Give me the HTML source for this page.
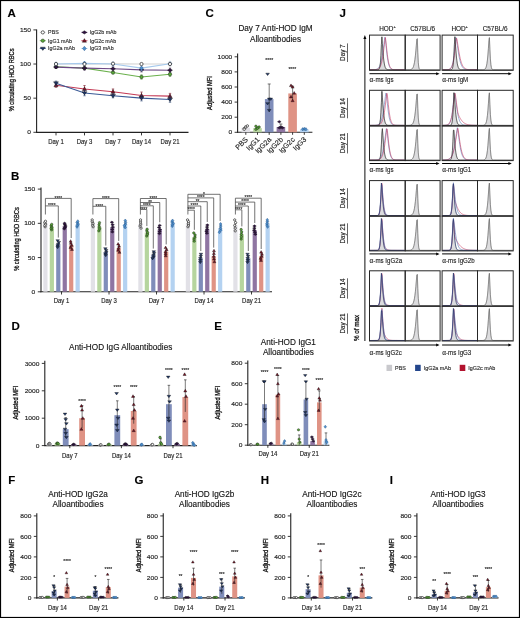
<!DOCTYPE html><html><head><meta charset="utf-8"><style>html,body{margin:0;padding:0;background:#fff;overflow:hidden}svg{display:block;filter:blur(0.3px)}text{stroke:#222;stroke-width:0.14px}text.yl{stroke:#111;stroke-width:0.3px}</style></head><body><svg width="520" height="618" viewBox="0 0 520 618" font-family='"Liberation Sans", sans-serif'><rect x="0" y="0" width="520" height="618" fill="#fff"/>
<text x="7.50" y="17.00" font-size="11.5" text-anchor="start" font-weight="bold" fill="#000" stroke="#000" stroke-width="0.3">A</text>
<line x1="36.60" y1="29.50" x2="36.60" y2="132.90" stroke="#222222" stroke-width="1.1" />
<line x1="36.10" y1="132.40" x2="188.50" y2="132.40" stroke="#222222" stroke-width="1.1" />
<line x1="33.40" y1="132.30" x2="36.60" y2="132.30" stroke="#222222" stroke-width="0.9" />
<text transform="translate(31.00,134.40) scale(1.07,1)" font-size="6.2" text-anchor="end" fill="#222" >0</text>
<line x1="33.40" y1="98.17" x2="36.60" y2="98.17" stroke="#222222" stroke-width="0.9" />
<text transform="translate(31.00,100.27) scale(1.07,1)" font-size="6.2" text-anchor="end" fill="#222" >50</text>
<line x1="33.40" y1="64.03" x2="36.60" y2="64.03" stroke="#222222" stroke-width="0.9" />
<text transform="translate(31.00,66.13) scale(1.07,1)" font-size="6.2" text-anchor="end" fill="#222" >100</text>
<line x1="33.40" y1="29.90" x2="36.60" y2="29.90" stroke="#222222" stroke-width="0.9" />
<text transform="translate(31.00,32.00) scale(1.07,1)" font-size="6.2" text-anchor="end" fill="#222" >150</text>
<line x1="56.00" y1="132.40" x2="56.00" y2="135.40" stroke="#222222" stroke-width="0.9" />
<text transform="translate(56.00,143.90) scale(0.92,1)" font-size="6.5" text-anchor="middle" fill="#222" >Day 1</text>
<line x1="84.50" y1="132.40" x2="84.50" y2="135.40" stroke="#222222" stroke-width="0.9" />
<text transform="translate(84.50,143.90) scale(0.92,1)" font-size="6.5" text-anchor="middle" fill="#222" >Day 3</text>
<line x1="113.00" y1="132.40" x2="113.00" y2="135.40" stroke="#222222" stroke-width="0.9" />
<text transform="translate(113.00,143.90) scale(0.92,1)" font-size="6.5" text-anchor="middle" fill="#222" >Day 7</text>
<line x1="141.50" y1="132.40" x2="141.50" y2="135.40" stroke="#222222" stroke-width="0.9" />
<text transform="translate(141.50,143.90) scale(0.92,1)" font-size="6.5" text-anchor="middle" fill="#222" >Day 14</text>
<line x1="170.00" y1="132.40" x2="170.00" y2="135.40" stroke="#222222" stroke-width="0.9" />
<text transform="translate(170.00,143.90) scale(0.92,1)" font-size="6.5" text-anchor="middle" fill="#222" >Day 21</text>
<text class="yl" transform="translate(14.30,79.90) rotate(-90) scale(0.75,1)" font-size="7.6" text-anchor="middle" fill="#111">% circulating HOD RBCs</text>
<polyline points="56.00,64.03 84.50,64.03 113.00,63.69 141.50,64.03 170.00,64.03" fill="none" stroke="#d4d4d4" stroke-width="1.1"/>
<polyline points="56.00,64.03 84.50,63.35 113.00,64.03 141.50,68.13 170.00,63.69" fill="none" stroke="#a6c9ec" stroke-width="1.1"/>
<polyline points="56.00,66.76 84.50,68.13 113.00,72.57 141.50,77.00 170.00,74.27" fill="none" stroke="#6ab04c" stroke-width="1.1"/>
<polyline points="56.00,67.11 84.50,68.13 113.00,68.81 141.50,69.84 170.00,70.18" fill="none" stroke="#6e4a86" stroke-width="1.1"/>
<polyline points="56.00,85.20 84.50,88.95 113.00,91.68 141.50,95.44 170.00,96.12" fill="none" stroke="#c43a55" stroke-width="1.1"/>
<polyline points="56.00,83.15 84.50,93.05 113.00,95.78 141.50,98.17 170.00,99.53" fill="none" stroke="#3a5a96" stroke-width="1.1"/>
<line x1="56.00" y1="68.13" x2="56.00" y2="65.40" stroke="#3f8a25" stroke-width="0.6" />
<line x1="54.80" y1="65.40" x2="57.20" y2="65.40" stroke="#3f8a25" stroke-width="0.6" />
<line x1="54.80" y1="68.13" x2="57.20" y2="68.13" stroke="#3f8a25" stroke-width="0.6" />
<circle cx="56.00" cy="66.76" r="1.71" fill="#5aa83a" stroke="#111" stroke-width="0.4"/>
<line x1="84.50" y1="69.49" x2="84.50" y2="66.76" stroke="#3f8a25" stroke-width="0.6" />
<line x1="83.30" y1="66.76" x2="85.70" y2="66.76" stroke="#3f8a25" stroke-width="0.6" />
<line x1="83.30" y1="69.49" x2="85.70" y2="69.49" stroke="#3f8a25" stroke-width="0.6" />
<circle cx="84.50" cy="68.13" r="1.71" fill="#5aa83a" stroke="#111" stroke-width="0.4"/>
<line x1="113.00" y1="73.93" x2="113.00" y2="71.20" stroke="#3f8a25" stroke-width="0.6" />
<line x1="111.80" y1="71.20" x2="114.20" y2="71.20" stroke="#3f8a25" stroke-width="0.6" />
<line x1="111.80" y1="73.93" x2="114.20" y2="73.93" stroke="#3f8a25" stroke-width="0.6" />
<circle cx="113.00" cy="72.57" r="1.71" fill="#5aa83a" stroke="#111" stroke-width="0.4"/>
<line x1="141.50" y1="79.05" x2="141.50" y2="74.96" stroke="#3f8a25" stroke-width="0.6" />
<line x1="140.30" y1="74.96" x2="142.70" y2="74.96" stroke="#3f8a25" stroke-width="0.6" />
<line x1="140.30" y1="79.05" x2="142.70" y2="79.05" stroke="#3f8a25" stroke-width="0.6" />
<circle cx="141.50" cy="77.00" r="1.71" fill="#5aa83a" stroke="#111" stroke-width="0.4"/>
<line x1="170.00" y1="76.32" x2="170.00" y2="72.23" stroke="#3f8a25" stroke-width="0.6" />
<line x1="168.80" y1="72.23" x2="171.20" y2="72.23" stroke="#3f8a25" stroke-width="0.6" />
<line x1="168.80" y1="76.32" x2="171.20" y2="76.32" stroke="#3f8a25" stroke-width="0.6" />
<circle cx="170.00" cy="74.27" r="1.71" fill="#5aa83a" stroke="#111" stroke-width="0.4"/>
<line x1="56.00" y1="68.47" x2="56.00" y2="65.74" stroke="#3a1f4e" stroke-width="0.6" />
<line x1="54.80" y1="65.74" x2="57.20" y2="65.74" stroke="#3a1f4e" stroke-width="0.6" />
<line x1="54.80" y1="68.47" x2="57.20" y2="68.47" stroke="#3a1f4e" stroke-width="0.6" />
<path d="M53.53,67.11 L56.00,65.40 L58.47,67.11 L56.00,68.82Z" fill="#2e1040" stroke="#111" stroke-width="0.4"/>
<line x1="84.50" y1="70.18" x2="84.50" y2="66.08" stroke="#3a1f4e" stroke-width="0.6" />
<line x1="83.30" y1="66.08" x2="85.70" y2="66.08" stroke="#3a1f4e" stroke-width="0.6" />
<line x1="83.30" y1="70.18" x2="85.70" y2="70.18" stroke="#3a1f4e" stroke-width="0.6" />
<path d="M82.03,68.13 L84.50,66.42 L86.97,68.13 L84.50,69.84Z" fill="#2e1040" stroke="#111" stroke-width="0.4"/>
<line x1="113.00" y1="70.86" x2="113.00" y2="66.76" stroke="#3a1f4e" stroke-width="0.6" />
<line x1="111.80" y1="66.76" x2="114.20" y2="66.76" stroke="#3a1f4e" stroke-width="0.6" />
<line x1="111.80" y1="70.86" x2="114.20" y2="70.86" stroke="#3a1f4e" stroke-width="0.6" />
<path d="M110.53,68.81 L113.00,67.10 L115.47,68.81 L113.00,70.52Z" fill="#2e1040" stroke="#111" stroke-width="0.4"/>
<line x1="141.50" y1="71.88" x2="141.50" y2="67.79" stroke="#3a1f4e" stroke-width="0.6" />
<line x1="140.30" y1="67.79" x2="142.70" y2="67.79" stroke="#3a1f4e" stroke-width="0.6" />
<line x1="140.30" y1="71.88" x2="142.70" y2="71.88" stroke="#3a1f4e" stroke-width="0.6" />
<path d="M139.03,69.84 L141.50,68.13 L143.97,69.84 L141.50,71.55Z" fill="#2e1040" stroke="#111" stroke-width="0.4"/>
<line x1="170.00" y1="72.23" x2="170.00" y2="68.13" stroke="#3a1f4e" stroke-width="0.6" />
<line x1="168.80" y1="68.13" x2="171.20" y2="68.13" stroke="#3a1f4e" stroke-width="0.6" />
<line x1="168.80" y1="72.23" x2="171.20" y2="72.23" stroke="#3a1f4e" stroke-width="0.6" />
<path d="M167.53,70.18 L170.00,68.47 L172.47,70.18 L170.00,71.89Z" fill="#2e1040" stroke="#111" stroke-width="0.4"/>
<line x1="56.00" y1="65.40" x2="56.00" y2="62.67" stroke="#a6c9ec" stroke-width="0.6" />
<line x1="54.80" y1="62.67" x2="57.20" y2="62.67" stroke="#a6c9ec" stroke-width="0.6" />
<line x1="54.80" y1="65.40" x2="57.20" y2="65.40" stroke="#a6c9ec" stroke-width="0.6" />
<path d="M56.00,61.75 L57.90,64.03 L56.00,66.31 L54.10,64.03Z" fill="#4f8fcc" stroke="#1f4f80" stroke-width="0.4"/>
<line x1="84.50" y1="64.72" x2="84.50" y2="61.99" stroke="#a6c9ec" stroke-width="0.6" />
<line x1="83.30" y1="61.99" x2="85.70" y2="61.99" stroke="#a6c9ec" stroke-width="0.6" />
<line x1="83.30" y1="64.72" x2="85.70" y2="64.72" stroke="#a6c9ec" stroke-width="0.6" />
<path d="M84.50,61.07 L86.40,63.35 L84.50,65.63 L82.60,63.35Z" fill="#4f8fcc" stroke="#1f4f80" stroke-width="0.4"/>
<line x1="113.00" y1="66.08" x2="113.00" y2="61.99" stroke="#a6c9ec" stroke-width="0.6" />
<line x1="111.80" y1="61.99" x2="114.20" y2="61.99" stroke="#a6c9ec" stroke-width="0.6" />
<line x1="111.80" y1="66.08" x2="114.20" y2="66.08" stroke="#a6c9ec" stroke-width="0.6" />
<path d="M113.00,61.75 L114.90,64.03 L113.00,66.31 L111.10,64.03Z" fill="#4f8fcc" stroke="#1f4f80" stroke-width="0.4"/>
<line x1="141.50" y1="70.86" x2="141.50" y2="65.40" stroke="#a6c9ec" stroke-width="0.6" />
<line x1="140.30" y1="65.40" x2="142.70" y2="65.40" stroke="#a6c9ec" stroke-width="0.6" />
<line x1="140.30" y1="70.86" x2="142.70" y2="70.86" stroke="#a6c9ec" stroke-width="0.6" />
<path d="M141.50,65.85 L143.40,68.13 L141.50,70.41 L139.60,68.13Z" fill="#4f8fcc" stroke="#1f4f80" stroke-width="0.4"/>
<line x1="170.00" y1="65.74" x2="170.00" y2="61.64" stroke="#a6c9ec" stroke-width="0.6" />
<line x1="168.80" y1="61.64" x2="171.20" y2="61.64" stroke="#a6c9ec" stroke-width="0.6" />
<line x1="168.80" y1="65.74" x2="171.20" y2="65.74" stroke="#a6c9ec" stroke-width="0.6" />
<path d="M170.00,61.41 L171.90,63.69 L170.00,65.97 L168.10,63.69Z" fill="#4f8fcc" stroke="#1f4f80" stroke-width="0.4"/>
<line x1="56.00" y1="64.72" x2="56.00" y2="63.35" stroke="#d4d4d4" stroke-width="0.6" />
<line x1="54.80" y1="63.35" x2="57.20" y2="63.35" stroke="#d4d4d4" stroke-width="0.6" />
<line x1="54.80" y1="64.72" x2="57.20" y2="64.72" stroke="#d4d4d4" stroke-width="0.6" />
<circle cx="56.00" cy="64.03" r="1.61" fill="#fff" stroke="#333" stroke-width="0.75"/>
<line x1="84.50" y1="64.72" x2="84.50" y2="63.35" stroke="#d4d4d4" stroke-width="0.6" />
<line x1="83.30" y1="63.35" x2="85.70" y2="63.35" stroke="#d4d4d4" stroke-width="0.6" />
<line x1="83.30" y1="64.72" x2="85.70" y2="64.72" stroke="#d4d4d4" stroke-width="0.6" />
<circle cx="84.50" cy="64.03" r="1.61" fill="#fff" stroke="#333" stroke-width="0.75"/>
<line x1="113.00" y1="65.06" x2="113.00" y2="62.33" stroke="#d4d4d4" stroke-width="0.6" />
<line x1="111.80" y1="62.33" x2="114.20" y2="62.33" stroke="#d4d4d4" stroke-width="0.6" />
<line x1="111.80" y1="65.06" x2="114.20" y2="65.06" stroke="#d4d4d4" stroke-width="0.6" />
<circle cx="113.00" cy="63.69" r="1.61" fill="#fff" stroke="#333" stroke-width="0.75"/>
<line x1="141.50" y1="64.72" x2="141.50" y2="63.35" stroke="#d4d4d4" stroke-width="0.6" />
<line x1="140.30" y1="63.35" x2="142.70" y2="63.35" stroke="#d4d4d4" stroke-width="0.6" />
<line x1="140.30" y1="64.72" x2="142.70" y2="64.72" stroke="#d4d4d4" stroke-width="0.6" />
<circle cx="141.50" cy="64.03" r="1.61" fill="#fff" stroke="#333" stroke-width="0.75"/>
<line x1="170.00" y1="66.76" x2="170.00" y2="61.30" stroke="#d4d4d4" stroke-width="0.6" />
<line x1="168.80" y1="61.30" x2="171.20" y2="61.30" stroke="#d4d4d4" stroke-width="0.6" />
<line x1="168.80" y1="66.76" x2="171.20" y2="66.76" stroke="#d4d4d4" stroke-width="0.6" />
<circle cx="170.00" cy="64.03" r="1.61" fill="#fff" stroke="#333" stroke-width="0.75"/>
<line x1="56.00" y1="87.24" x2="56.00" y2="83.15" stroke="#7a1224" stroke-width="0.6" />
<line x1="54.80" y1="83.15" x2="57.20" y2="83.15" stroke="#7a1224" stroke-width="0.6" />
<line x1="54.80" y1="87.24" x2="57.20" y2="87.24" stroke="#7a1224" stroke-width="0.6" />
<path d="M53.91,86.72 L58.09,86.72 L56.00,83.11Z" fill="#7a1224" stroke="#111" stroke-width="0.4"/>
<line x1="84.50" y1="92.36" x2="84.50" y2="85.54" stroke="#7a1224" stroke-width="0.6" />
<line x1="83.30" y1="85.54" x2="85.70" y2="85.54" stroke="#7a1224" stroke-width="0.6" />
<line x1="83.30" y1="92.36" x2="85.70" y2="92.36" stroke="#7a1224" stroke-width="0.6" />
<path d="M82.41,90.47 L86.59,90.47 L84.50,86.86Z" fill="#7a1224" stroke="#111" stroke-width="0.4"/>
<line x1="113.00" y1="94.41" x2="113.00" y2="88.95" stroke="#7a1224" stroke-width="0.6" />
<line x1="111.80" y1="88.95" x2="114.20" y2="88.95" stroke="#7a1224" stroke-width="0.6" />
<line x1="111.80" y1="94.41" x2="114.20" y2="94.41" stroke="#7a1224" stroke-width="0.6" />
<path d="M110.91,93.20 L115.09,93.20 L113.00,89.59Z" fill="#7a1224" stroke="#111" stroke-width="0.4"/>
<line x1="141.50" y1="98.85" x2="141.50" y2="92.02" stroke="#7a1224" stroke-width="0.6" />
<line x1="140.30" y1="92.02" x2="142.70" y2="92.02" stroke="#7a1224" stroke-width="0.6" />
<line x1="140.30" y1="98.85" x2="142.70" y2="98.85" stroke="#7a1224" stroke-width="0.6" />
<path d="M139.41,96.96 L143.59,96.96 L141.50,93.35Z" fill="#7a1224" stroke="#111" stroke-width="0.4"/>
<line x1="170.00" y1="98.85" x2="170.00" y2="93.39" stroke="#7a1224" stroke-width="0.6" />
<line x1="168.80" y1="93.39" x2="171.20" y2="93.39" stroke="#7a1224" stroke-width="0.6" />
<line x1="168.80" y1="98.85" x2="171.20" y2="98.85" stroke="#7a1224" stroke-width="0.6" />
<path d="M167.91,97.64 L172.09,97.64 L170.00,94.03Z" fill="#7a1224" stroke="#111" stroke-width="0.4"/>
<line x1="56.00" y1="85.20" x2="56.00" y2="81.10" stroke="#1d3566" stroke-width="0.6" />
<line x1="54.80" y1="81.10" x2="57.20" y2="81.10" stroke="#1d3566" stroke-width="0.6" />
<line x1="54.80" y1="85.20" x2="57.20" y2="85.20" stroke="#1d3566" stroke-width="0.6" />
<path d="M53.53,81.82 L58.47,81.82 L56.00,85.05Z" fill="#1d3566" stroke="#111" stroke-width="0.4"/>
<line x1="84.50" y1="95.78" x2="84.50" y2="90.32" stroke="#1d3566" stroke-width="0.6" />
<line x1="83.30" y1="90.32" x2="85.70" y2="90.32" stroke="#1d3566" stroke-width="0.6" />
<line x1="83.30" y1="95.78" x2="85.70" y2="95.78" stroke="#1d3566" stroke-width="0.6" />
<path d="M82.03,91.72 L86.97,91.72 L84.50,94.95Z" fill="#1d3566" stroke="#111" stroke-width="0.4"/>
<line x1="113.00" y1="97.83" x2="113.00" y2="93.73" stroke="#1d3566" stroke-width="0.6" />
<line x1="111.80" y1="93.73" x2="114.20" y2="93.73" stroke="#1d3566" stroke-width="0.6" />
<line x1="111.80" y1="97.83" x2="114.20" y2="97.83" stroke="#1d3566" stroke-width="0.6" />
<path d="M110.53,94.45 L115.47,94.45 L113.00,97.68Z" fill="#1d3566" stroke="#111" stroke-width="0.4"/>
<line x1="141.50" y1="100.90" x2="141.50" y2="95.44" stroke="#1d3566" stroke-width="0.6" />
<line x1="140.30" y1="95.44" x2="142.70" y2="95.44" stroke="#1d3566" stroke-width="0.6" />
<line x1="140.30" y1="100.90" x2="142.70" y2="100.90" stroke="#1d3566" stroke-width="0.6" />
<path d="M139.03,96.84 L143.97,96.84 L141.50,100.07Z" fill="#1d3566" stroke="#111" stroke-width="0.4"/>
<line x1="170.00" y1="102.26" x2="170.00" y2="96.80" stroke="#1d3566" stroke-width="0.6" />
<line x1="168.80" y1="96.80" x2="171.20" y2="96.80" stroke="#1d3566" stroke-width="0.6" />
<line x1="168.80" y1="102.26" x2="171.20" y2="102.26" stroke="#1d3566" stroke-width="0.6" />
<path d="M167.53,98.20 L172.47,98.20 L170.00,101.43Z" fill="#1d3566" stroke="#111" stroke-width="0.4"/>
<line x1="39.80" y1="32.40" x2="45.80" y2="32.40" stroke="#d4d4d4" stroke-width="0.9" />
<circle cx="42.80" cy="32.40" r="1.61" fill="#fff" stroke="#333" stroke-width="0.75"/>
<text transform="translate(48.10,34.30) scale(0.95,1)" font-size="5.6" text-anchor="start" fill="#333" >PBS</text>
<line x1="39.80" y1="40.70" x2="45.80" y2="40.70" stroke="#6ab04c" stroke-width="0.9" />
<circle cx="42.80" cy="40.70" r="1.71" fill="#5aa83a" stroke="#111" stroke-width="0.4"/>
<text transform="translate(48.10,42.60) scale(0.95,1)" font-size="5.6" text-anchor="start" fill="#333" >IgG1 mAb</text>
<line x1="39.80" y1="48.50" x2="45.80" y2="48.50" stroke="#3a5a96" stroke-width="0.9" />
<path d="M40.33,47.17 L45.27,47.17 L42.80,50.40Z" fill="#1d3566" stroke="#111" stroke-width="0.4"/>
<text transform="translate(48.10,50.40) scale(0.95,1)" font-size="5.6" text-anchor="start" fill="#333" >IgG2a mAb</text>
<line x1="81.40" y1="32.40" x2="87.40" y2="32.40" stroke="#6e4a86" stroke-width="0.9" />
<path d="M81.93,32.40 L84.40,30.69 L86.87,32.40 L84.40,34.11Z" fill="#2e1040" stroke="#111" stroke-width="0.4"/>
<text transform="translate(89.70,34.30) scale(0.95,1)" font-size="5.6" text-anchor="start" fill="#333" >IgG2b mAb</text>
<line x1="81.40" y1="40.70" x2="87.40" y2="40.70" stroke="#c43a55" stroke-width="0.9" />
<path d="M82.31,42.22 L86.49,42.22 L84.40,38.61Z" fill="#7a1224" stroke="#111" stroke-width="0.4"/>
<text transform="translate(89.70,42.60) scale(0.95,1)" font-size="5.6" text-anchor="start" fill="#333" >IgG2c mAb</text>
<line x1="81.40" y1="48.50" x2="87.40" y2="48.50" stroke="#a6c9ec" stroke-width="0.9" />
<path d="M84.40,46.22 L86.30,48.50 L84.40,50.78 L82.50,48.50Z" fill="#4f8fcc" stroke="#1f4f80" stroke-width="0.4"/>
<text transform="translate(89.70,50.40) scale(0.95,1)" font-size="5.6" text-anchor="start" fill="#333" >IgG3 mAb</text>
<text x="10.90" y="180.00" font-size="11.5" text-anchor="start" font-weight="bold" fill="#000" stroke="#000" stroke-width="0.3">B</text>
<line x1="41.00" y1="187.50" x2="41.00" y2="292.20" stroke="#222222" stroke-width="1.1" />
<line x1="40.50" y1="291.70" x2="272.00" y2="291.70" stroke="#222222" stroke-width="1.1" />
<line x1="37.80" y1="291.80" x2="41.00" y2="291.80" stroke="#222222" stroke-width="0.9" />
<text transform="translate(35.20,293.90) scale(1.07,1)" font-size="6.2" text-anchor="end" fill="#222" >0</text>
<line x1="37.80" y1="257.57" x2="41.00" y2="257.57" stroke="#222222" stroke-width="0.9" />
<text transform="translate(35.20,259.67) scale(1.07,1)" font-size="6.2" text-anchor="end" fill="#222" >50</text>
<line x1="37.80" y1="223.33" x2="41.00" y2="223.33" stroke="#222222" stroke-width="0.9" />
<text transform="translate(35.20,225.43) scale(1.07,1)" font-size="6.2" text-anchor="end" fill="#222" >100</text>
<line x1="37.80" y1="189.10" x2="41.00" y2="189.10" stroke="#222222" stroke-width="0.9" />
<text transform="translate(35.20,191.20) scale(1.07,1)" font-size="6.2" text-anchor="end" fill="#222" >150</text>
<text class="yl" transform="translate(18.60,239.00) rotate(-90) scale(0.76,1)" font-size="7.6" text-anchor="middle" fill="#111">% circulating HOD RBCs</text>
<rect x="43.30" y="224.02" width="4.20" height="67.68" fill="#e2e1e7" />
<rect x="49.75" y="227.10" width="4.20" height="64.60" fill="#b6d59e" />
<rect x="56.20" y="244.08" width="4.20" height="47.62" fill="#7f8dba" />
<rect x="62.65" y="226.07" width="4.20" height="65.63" fill="#8f75a2" />
<rect x="69.10" y="245.24" width="4.20" height="46.46" fill="#df9385" />
<rect x="75.55" y="224.02" width="4.20" height="67.68" fill="#b4d2f1" />
<line x1="45.40" y1="225.94" x2="45.40" y2="222.10" stroke="#222" stroke-width="0.5" />
<circle cx="45.12" cy="226.76" r="1.15" fill="#fff" stroke="#333" stroke-width="0.75"/>
<circle cx="44.84" cy="225.39" r="1.15" fill="#fff" stroke="#333" stroke-width="0.75"/>
<circle cx="45.64" cy="224.02" r="1.15" fill="#fff" stroke="#333" stroke-width="0.75"/>
<circle cx="44.72" cy="222.65" r="1.15" fill="#fff" stroke="#333" stroke-width="0.75"/>
<circle cx="45.46" cy="221.28" r="1.15" fill="#fff" stroke="#333" stroke-width="0.75"/>
<line x1="51.85" y1="229.02" x2="51.85" y2="225.18" stroke="#222" stroke-width="0.5" />
<circle cx="51.64" cy="229.84" r="1.22" fill="#5aa83a" stroke="#111" stroke-width="0.4"/>
<circle cx="51.14" cy="228.47" r="1.22" fill="#5aa83a" stroke="#111" stroke-width="0.4"/>
<circle cx="51.86" cy="227.10" r="1.22" fill="#5aa83a" stroke="#111" stroke-width="0.4"/>
<circle cx="51.11" cy="225.73" r="1.22" fill="#5aa83a" stroke="#111" stroke-width="0.4"/>
<circle cx="51.74" cy="224.36" r="1.22" fill="#5aa83a" stroke="#111" stroke-width="0.4"/>
<line x1="58.30" y1="246.48" x2="58.30" y2="241.68" stroke="#222" stroke-width="0.5" />
<path d="M55.86,246.56 L59.37,246.56 L57.61,248.85Z" fill="#1d3566" stroke="#111" stroke-width="0.4"/>
<path d="M55.89,244.85 L59.40,244.85 L57.65,247.14Z" fill="#1d3566" stroke="#111" stroke-width="0.4"/>
<path d="M56.42,243.13 L59.93,243.13 L58.18,245.43Z" fill="#1d3566" stroke="#111" stroke-width="0.4"/>
<path d="M57.07,241.42 L60.58,241.42 L58.82,243.72Z" fill="#1d3566" stroke="#111" stroke-width="0.4"/>
<path d="M55.94,239.71 L59.45,239.71 L57.70,242.01Z" fill="#1d3566" stroke="#111" stroke-width="0.4"/>
<line x1="64.75" y1="227.99" x2="64.75" y2="224.15" stroke="#222" stroke-width="0.5" />
<path d="M62.55,228.81 L64.31,227.60 L66.06,228.81 L64.31,230.03Z" fill="#2e1040" stroke="#111" stroke-width="0.4"/>
<path d="M63.20,227.44 L64.95,226.23 L66.71,227.44 L64.95,228.66Z" fill="#2e1040" stroke="#111" stroke-width="0.4"/>
<path d="M63.71,226.07 L65.47,224.86 L67.22,226.07 L65.47,227.29Z" fill="#2e1040" stroke="#111" stroke-width="0.4"/>
<path d="M63.12,224.70 L64.87,223.49 L66.63,224.70 L64.87,225.92Z" fill="#2e1040" stroke="#111" stroke-width="0.4"/>
<path d="M62.83,223.33 L64.58,222.12 L66.34,223.33 L64.58,224.55Z" fill="#2e1040" stroke="#111" stroke-width="0.4"/>
<line x1="71.20" y1="248.12" x2="71.20" y2="242.37" stroke="#222" stroke-width="0.5" />
<path d="M70.48,250.43 L73.45,250.43 L71.96,247.87Z" fill="#7a1224" stroke="#111" stroke-width="0.4"/>
<path d="M68.99,248.38 L71.96,248.38 L70.47,245.81Z" fill="#7a1224" stroke="#111" stroke-width="0.4"/>
<path d="M70.29,246.32 L73.26,246.32 L71.77,243.76Z" fill="#7a1224" stroke="#111" stroke-width="0.4"/>
<path d="M69.38,244.27 L72.35,244.27 L70.86,241.70Z" fill="#7a1224" stroke="#111" stroke-width="0.4"/>
<path d="M69.15,242.21 L72.12,242.21 L70.63,239.65Z" fill="#7a1224" stroke="#111" stroke-width="0.4"/>
<line x1="77.65" y1="225.94" x2="77.65" y2="222.10" stroke="#222" stroke-width="0.5" />
<path d="M77.04,225.14 L78.39,226.76 L77.04,228.38 L75.69,226.76Z" fill="#4f8fcc" stroke="#1f4f80" stroke-width="0.4"/>
<path d="M77.34,223.77 L78.69,225.39 L77.34,227.01 L75.99,225.39Z" fill="#4f8fcc" stroke="#1f4f80" stroke-width="0.4"/>
<path d="M78.16,222.40 L79.51,224.02 L78.16,225.64 L76.81,224.02Z" fill="#4f8fcc" stroke="#1f4f80" stroke-width="0.4"/>
<path d="M77.14,221.03 L78.49,222.65 L77.14,224.27 L75.79,222.65Z" fill="#4f8fcc" stroke="#1f4f80" stroke-width="0.4"/>
<path d="M77.78,219.66 L79.13,221.28 L77.78,222.90 L76.43,221.28Z" fill="#4f8fcc" stroke="#1f4f80" stroke-width="0.4"/>
<line x1="61.52" y1="291.70" x2="61.52" y2="294.50" stroke="#222222" stroke-width="0.9" />
<text transform="translate(61.52,303.30) scale(0.92,1)" font-size="6.5" text-anchor="middle" fill="#222" >Day 1</text>
<rect x="90.80" y="223.33" width="4.20" height="68.37" fill="#e2e1e7" />
<rect x="97.25" y="226.76" width="4.20" height="64.94" fill="#b6d59e" />
<rect x="103.70" y="252.09" width="4.20" height="39.61" fill="#7f8dba" />
<rect x="110.15" y="227.10" width="4.20" height="64.60" fill="#8f75a2" />
<rect x="116.60" y="248.12" width="4.20" height="43.58" fill="#df9385" />
<rect x="123.05" y="224.02" width="4.20" height="67.68" fill="#b4d2f1" />
<line x1="92.90" y1="225.73" x2="92.90" y2="220.94" stroke="#222" stroke-width="0.5" />
<circle cx="93.12" cy="226.76" r="1.15" fill="#fff" stroke="#333" stroke-width="0.75"/>
<circle cx="92.70" cy="225.05" r="1.15" fill="#fff" stroke="#333" stroke-width="0.75"/>
<circle cx="92.98" cy="223.33" r="1.15" fill="#fff" stroke="#333" stroke-width="0.75"/>
<circle cx="92.20" cy="221.62" r="1.15" fill="#fff" stroke="#333" stroke-width="0.75"/>
<circle cx="92.20" cy="219.91" r="1.15" fill="#fff" stroke="#333" stroke-width="0.75"/>
<line x1="99.35" y1="229.63" x2="99.35" y2="223.88" stroke="#222" stroke-width="0.5" />
<circle cx="98.88" cy="230.86" r="1.22" fill="#5aa83a" stroke="#111" stroke-width="0.4"/>
<circle cx="99.64" cy="228.81" r="1.22" fill="#5aa83a" stroke="#111" stroke-width="0.4"/>
<circle cx="99.23" cy="226.76" r="1.22" fill="#5aa83a" stroke="#111" stroke-width="0.4"/>
<circle cx="99.05" cy="224.70" r="1.22" fill="#5aa83a" stroke="#111" stroke-width="0.4"/>
<circle cx="99.49" cy="222.65" r="1.22" fill="#5aa83a" stroke="#111" stroke-width="0.4"/>
<line x1="105.80" y1="254.49" x2="105.80" y2="249.69" stroke="#222" stroke-width="0.5" />
<path d="M103.97,254.57 L107.48,254.57 L105.73,256.86Z" fill="#1d3566" stroke="#111" stroke-width="0.4"/>
<path d="M103.72,252.86 L107.23,252.86 L105.48,255.15Z" fill="#1d3566" stroke="#111" stroke-width="0.4"/>
<path d="M104.52,251.14 L108.03,251.14 L106.27,253.44Z" fill="#1d3566" stroke="#111" stroke-width="0.4"/>
<path d="M104.36,249.43 L107.87,249.43 L106.12,251.73Z" fill="#1d3566" stroke="#111" stroke-width="0.4"/>
<path d="M103.64,247.72 L107.15,247.72 L105.39,250.02Z" fill="#1d3566" stroke="#111" stroke-width="0.4"/>
<line x1="112.25" y1="230.45" x2="112.25" y2="223.74" stroke="#222" stroke-width="0.5" />
<path d="M110.61,231.89 L112.37,230.68 L114.12,231.89 L112.37,233.11Z" fill="#2e1040" stroke="#111" stroke-width="0.4"/>
<path d="M110.54,229.50 L112.29,228.28 L114.05,229.50 L112.29,230.71Z" fill="#2e1040" stroke="#111" stroke-width="0.4"/>
<path d="M111.10,227.10 L112.85,225.88 L114.61,227.10 L112.85,228.31Z" fill="#2e1040" stroke="#111" stroke-width="0.4"/>
<path d="M110.86,224.70 L112.62,223.49 L114.37,224.70 L112.62,225.92Z" fill="#2e1040" stroke="#111" stroke-width="0.4"/>
<path d="M110.16,222.31 L111.91,221.09 L113.67,222.31 L111.91,223.52Z" fill="#2e1040" stroke="#111" stroke-width="0.4"/>
<line x1="118.70" y1="250.99" x2="118.70" y2="245.24" stroke="#222" stroke-width="0.5" />
<path d="M117.98,253.31 L120.95,253.31 L119.47,250.74Z" fill="#7a1224" stroke="#111" stroke-width="0.4"/>
<path d="M116.60,251.25 L119.57,251.25 L118.09,248.69Z" fill="#7a1224" stroke="#111" stroke-width="0.4"/>
<path d="M117.08,249.20 L120.05,249.20 L118.57,246.63Z" fill="#7a1224" stroke="#111" stroke-width="0.4"/>
<path d="M117.63,247.14 L120.60,247.14 L119.11,244.58Z" fill="#7a1224" stroke="#111" stroke-width="0.4"/>
<path d="M116.66,245.09 L119.63,245.09 L118.14,242.53Z" fill="#7a1224" stroke="#111" stroke-width="0.4"/>
<line x1="125.15" y1="226.41" x2="125.15" y2="221.62" stroke="#222" stroke-width="0.5" />
<path d="M125.13,225.82 L126.48,227.44 L125.13,229.06 L123.78,227.44Z" fill="#4f8fcc" stroke="#1f4f80" stroke-width="0.4"/>
<path d="M124.41,224.11 L125.76,225.73 L124.41,227.35 L123.06,225.73Z" fill="#4f8fcc" stroke="#1f4f80" stroke-width="0.4"/>
<path d="M125.42,222.40 L126.77,224.02 L125.42,225.64 L124.07,224.02Z" fill="#4f8fcc" stroke="#1f4f80" stroke-width="0.4"/>
<path d="M125.57,220.69 L126.92,222.31 L125.57,223.93 L124.22,222.31Z" fill="#4f8fcc" stroke="#1f4f80" stroke-width="0.4"/>
<path d="M125.27,218.97 L126.62,220.59 L125.27,222.21 L123.92,220.59Z" fill="#4f8fcc" stroke="#1f4f80" stroke-width="0.4"/>
<line x1="109.03" y1="291.70" x2="109.03" y2="294.50" stroke="#222222" stroke-width="0.9" />
<text transform="translate(109.03,303.30) scale(0.92,1)" font-size="6.5" text-anchor="middle" fill="#222" >Day 3</text>
<rect x="138.30" y="224.02" width="4.20" height="67.68" fill="#e2e1e7" />
<rect x="144.75" y="232.58" width="4.20" height="59.12" fill="#b6d59e" />
<rect x="151.20" y="255.10" width="4.20" height="36.60" fill="#7f8dba" />
<rect x="157.65" y="229.50" width="4.20" height="62.20" fill="#8f75a2" />
<rect x="164.10" y="251.61" width="4.20" height="40.09" fill="#df9385" />
<rect x="170.55" y="223.33" width="4.20" height="68.37" fill="#b4d2f1" />
<line x1="140.40" y1="226.89" x2="140.40" y2="221.14" stroke="#222" stroke-width="0.5" />
<circle cx="141.00" cy="228.13" r="1.15" fill="#fff" stroke="#333" stroke-width="0.75"/>
<circle cx="140.10" cy="226.07" r="1.15" fill="#fff" stroke="#333" stroke-width="0.75"/>
<circle cx="140.71" cy="224.02" r="1.15" fill="#fff" stroke="#333" stroke-width="0.75"/>
<circle cx="140.55" cy="221.96" r="1.15" fill="#fff" stroke="#333" stroke-width="0.75"/>
<circle cx="140.53" cy="219.91" r="1.15" fill="#fff" stroke="#333" stroke-width="0.75"/>
<line x1="146.85" y1="234.97" x2="146.85" y2="230.18" stroke="#222" stroke-width="0.5" />
<circle cx="146.78" cy="236.00" r="1.22" fill="#5aa83a" stroke="#111" stroke-width="0.4"/>
<circle cx="147.39" cy="234.29" r="1.22" fill="#5aa83a" stroke="#111" stroke-width="0.4"/>
<circle cx="147.56" cy="232.58" r="1.22" fill="#5aa83a" stroke="#111" stroke-width="0.4"/>
<circle cx="146.81" cy="230.86" r="1.22" fill="#5aa83a" stroke="#111" stroke-width="0.4"/>
<circle cx="147.11" cy="229.15" r="1.22" fill="#5aa83a" stroke="#111" stroke-width="0.4"/>
<line x1="153.30" y1="257.50" x2="153.30" y2="252.71" stroke="#222" stroke-width="0.5" />
<path d="M150.84,257.58 L154.35,257.58 L152.60,259.88Z" fill="#1d3566" stroke="#111" stroke-width="0.4"/>
<path d="M151.87,255.87 L155.38,255.87 L153.62,258.16Z" fill="#1d3566" stroke="#111" stroke-width="0.4"/>
<path d="M151.78,254.16 L155.29,254.16 L153.54,256.45Z" fill="#1d3566" stroke="#111" stroke-width="0.4"/>
<path d="M152.33,252.45 L155.84,252.45 L154.09,254.74Z" fill="#1d3566" stroke="#111" stroke-width="0.4"/>
<path d="M152.06,250.73 L155.57,250.73 L153.82,253.03Z" fill="#1d3566" stroke="#111" stroke-width="0.4"/>
<line x1="159.75" y1="232.37" x2="159.75" y2="226.62" stroke="#222" stroke-width="0.5" />
<path d="M157.65,233.60 L159.41,232.39 L161.16,233.60 L159.41,234.82Z" fill="#2e1040" stroke="#111" stroke-width="0.4"/>
<path d="M157.81,231.55 L159.57,230.33 L161.32,231.55 L159.57,232.76Z" fill="#2e1040" stroke="#111" stroke-width="0.4"/>
<path d="M158.26,229.50 L160.02,228.28 L161.77,229.50 L160.02,230.71Z" fill="#2e1040" stroke="#111" stroke-width="0.4"/>
<path d="M157.23,227.44 L158.99,226.23 L160.74,227.44 L158.99,228.66Z" fill="#2e1040" stroke="#111" stroke-width="0.4"/>
<path d="M157.93,225.39 L159.69,224.17 L161.44,225.39 L159.69,226.60Z" fill="#2e1040" stroke="#111" stroke-width="0.4"/>
<line x1="166.20" y1="254.49" x2="166.20" y2="248.73" stroke="#222" stroke-width="0.5" />
<path d="M164.18,256.80 L167.15,256.80 L165.67,254.23Z" fill="#7a1224" stroke="#111" stroke-width="0.4"/>
<path d="M164.10,254.74 L167.07,254.74 L165.59,252.18Z" fill="#7a1224" stroke="#111" stroke-width="0.4"/>
<path d="M164.01,252.69 L166.98,252.69 L165.49,250.13Z" fill="#7a1224" stroke="#111" stroke-width="0.4"/>
<path d="M165.14,250.64 L168.11,250.64 L166.63,248.07Z" fill="#7a1224" stroke="#111" stroke-width="0.4"/>
<path d="M164.12,248.58 L167.09,248.58 L165.61,246.02Z" fill="#7a1224" stroke="#111" stroke-width="0.4"/>
<line x1="172.65" y1="225.25" x2="172.65" y2="221.42" stroke="#222" stroke-width="0.5" />
<path d="M172.25,224.45 L173.60,226.07 L172.25,227.69 L170.90,226.07Z" fill="#4f8fcc" stroke="#1f4f80" stroke-width="0.4"/>
<path d="M172.48,223.08 L173.83,224.70 L172.48,226.32 L171.13,224.70Z" fill="#4f8fcc" stroke="#1f4f80" stroke-width="0.4"/>
<path d="M173.24,221.71 L174.59,223.33 L173.24,224.95 L171.89,223.33Z" fill="#4f8fcc" stroke="#1f4f80" stroke-width="0.4"/>
<path d="M171.98,220.34 L173.33,221.96 L171.98,223.58 L170.63,221.96Z" fill="#4f8fcc" stroke="#1f4f80" stroke-width="0.4"/>
<path d="M172.57,218.97 L173.92,220.59 L172.57,222.21 L171.22,220.59Z" fill="#4f8fcc" stroke="#1f4f80" stroke-width="0.4"/>
<line x1="156.53" y1="291.70" x2="156.53" y2="294.50" stroke="#222222" stroke-width="0.9" />
<text transform="translate(156.53,303.30) scale(0.92,1)" font-size="6.5" text-anchor="middle" fill="#222" >Day 7</text>
<rect x="185.80" y="223.33" width="4.20" height="68.37" fill="#e2e1e7" />
<rect x="192.25" y="237.03" width="4.20" height="54.67" fill="#b6d59e" />
<rect x="198.70" y="258.25" width="4.20" height="33.45" fill="#7f8dba" />
<rect x="205.15" y="229.15" width="4.20" height="62.55" fill="#8f75a2" />
<rect x="211.60" y="256.20" width="4.20" height="35.50" fill="#df9385" />
<rect x="218.05" y="228.13" width="4.20" height="63.57" fill="#b4d2f1" />
<line x1="187.90" y1="225.73" x2="187.90" y2="220.94" stroke="#222" stroke-width="0.5" />
<circle cx="187.98" cy="226.76" r="1.15" fill="#fff" stroke="#333" stroke-width="0.75"/>
<circle cx="188.51" cy="225.05" r="1.15" fill="#fff" stroke="#333" stroke-width="0.75"/>
<circle cx="188.41" cy="223.33" r="1.15" fill="#fff" stroke="#333" stroke-width="0.75"/>
<circle cx="188.48" cy="221.62" r="1.15" fill="#fff" stroke="#333" stroke-width="0.75"/>
<circle cx="187.55" cy="219.91" r="1.15" fill="#fff" stroke="#333" stroke-width="0.75"/>
<line x1="194.35" y1="239.90" x2="194.35" y2="234.15" stroke="#222" stroke-width="0.5" />
<circle cx="194.21" cy="241.13" r="1.22" fill="#5aa83a" stroke="#111" stroke-width="0.4"/>
<circle cx="194.12" cy="239.08" r="1.22" fill="#5aa83a" stroke="#111" stroke-width="0.4"/>
<circle cx="194.96" cy="237.03" r="1.22" fill="#5aa83a" stroke="#111" stroke-width="0.4"/>
<circle cx="195.08" cy="234.97" r="1.22" fill="#5aa83a" stroke="#111" stroke-width="0.4"/>
<circle cx="193.79" cy="232.92" r="1.22" fill="#5aa83a" stroke="#111" stroke-width="0.4"/>
<line x1="200.80" y1="261.13" x2="200.80" y2="255.38" stroke="#222" stroke-width="0.5" />
<path d="M198.53,261.41 L202.04,261.41 L200.28,263.71Z" fill="#1d3566" stroke="#111" stroke-width="0.4"/>
<path d="M198.62,259.36 L202.13,259.36 L200.37,261.66Z" fill="#1d3566" stroke="#111" stroke-width="0.4"/>
<path d="M198.62,257.31 L202.13,257.31 L200.37,259.60Z" fill="#1d3566" stroke="#111" stroke-width="0.4"/>
<path d="M199.02,255.25 L202.53,255.25 L200.78,257.55Z" fill="#1d3566" stroke="#111" stroke-width="0.4"/>
<path d="M199.19,253.20 L202.70,253.20 L200.94,255.49Z" fill="#1d3566" stroke="#111" stroke-width="0.4"/>
<line x1="207.25" y1="232.03" x2="207.25" y2="226.28" stroke="#222" stroke-width="0.5" />
<path d="M205.12,233.26 L206.87,232.05 L208.63,233.26 L206.87,234.48Z" fill="#2e1040" stroke="#111" stroke-width="0.4"/>
<path d="M204.70,231.21 L206.46,229.99 L208.21,231.21 L206.46,232.42Z" fill="#2e1040" stroke="#111" stroke-width="0.4"/>
<path d="M205.37,229.15 L207.12,227.94 L208.88,229.15 L207.12,230.37Z" fill="#2e1040" stroke="#111" stroke-width="0.4"/>
<path d="M205.29,227.10 L207.04,225.88 L208.80,227.10 L207.04,228.31Z" fill="#2e1040" stroke="#111" stroke-width="0.4"/>
<path d="M205.60,225.05 L207.36,223.83 L209.11,225.05 L207.36,226.26Z" fill="#2e1040" stroke="#111" stroke-width="0.4"/>
<line x1="213.70" y1="260.03" x2="213.70" y2="252.36" stroke="#222" stroke-width="0.5" />
<path d="M212.94,262.75 L215.91,262.75 L214.42,260.19Z" fill="#7a1224" stroke="#111" stroke-width="0.4"/>
<path d="M212.52,260.02 L215.49,260.02 L214.00,257.45Z" fill="#7a1224" stroke="#111" stroke-width="0.4"/>
<path d="M212.24,257.28 L215.21,257.28 L213.72,254.71Z" fill="#7a1224" stroke="#111" stroke-width="0.4"/>
<path d="M212.40,254.54 L215.37,254.54 L213.89,251.97Z" fill="#7a1224" stroke="#111" stroke-width="0.4"/>
<path d="M212.50,251.80 L215.47,251.80 L213.98,249.24Z" fill="#7a1224" stroke="#111" stroke-width="0.4"/>
<line x1="220.15" y1="231.00" x2="220.15" y2="225.25" stroke="#222" stroke-width="0.5" />
<path d="M219.44,230.61 L220.79,232.23 L219.44,233.85 L218.09,232.23Z" fill="#4f8fcc" stroke="#1f4f80" stroke-width="0.4"/>
<path d="M220.79,228.56 L222.14,230.18 L220.79,231.80 L219.44,230.18Z" fill="#4f8fcc" stroke="#1f4f80" stroke-width="0.4"/>
<path d="M220.60,226.51 L221.95,228.13 L220.60,229.75 L219.25,228.13Z" fill="#4f8fcc" stroke="#1f4f80" stroke-width="0.4"/>
<path d="M220.75,224.45 L222.10,226.07 L220.75,227.69 L219.40,226.07Z" fill="#4f8fcc" stroke="#1f4f80" stroke-width="0.4"/>
<path d="M220.63,222.40 L221.98,224.02 L220.63,225.64 L219.28,224.02Z" fill="#4f8fcc" stroke="#1f4f80" stroke-width="0.4"/>
<line x1="204.03" y1="291.70" x2="204.03" y2="294.50" stroke="#222222" stroke-width="0.9" />
<text transform="translate(204.03,303.30) scale(0.92,1)" font-size="6.5" text-anchor="middle" fill="#222" >Day 14</text>
<rect x="233.30" y="225.39" width="4.20" height="66.31" fill="#e2e1e7" />
<rect x="239.75" y="234.29" width="4.20" height="57.41" fill="#b6d59e" />
<rect x="246.20" y="258.25" width="4.20" height="33.45" fill="#7f8dba" />
<rect x="252.65" y="230.18" width="4.20" height="61.52" fill="#8f75a2" />
<rect x="259.10" y="256.20" width="4.20" height="35.50" fill="#df9385" />
<rect x="265.55" y="223.33" width="4.20" height="68.37" fill="#b4d2f1" />
<line x1="235.40" y1="229.22" x2="235.40" y2="221.55" stroke="#222" stroke-width="0.5" />
<circle cx="235.23" cy="230.86" r="1.15" fill="#fff" stroke="#333" stroke-width="0.75"/>
<circle cx="235.24" cy="228.13" r="1.15" fill="#fff" stroke="#333" stroke-width="0.75"/>
<circle cx="234.77" cy="225.39" r="1.15" fill="#fff" stroke="#333" stroke-width="0.75"/>
<circle cx="235.61" cy="222.65" r="1.15" fill="#fff" stroke="#333" stroke-width="0.75"/>
<circle cx="234.70" cy="219.91" r="1.15" fill="#fff" stroke="#333" stroke-width="0.75"/>
<line x1="241.85" y1="237.64" x2="241.85" y2="230.93" stroke="#222" stroke-width="0.5" />
<circle cx="241.16" cy="239.08" r="1.22" fill="#5aa83a" stroke="#111" stroke-width="0.4"/>
<circle cx="241.38" cy="236.68" r="1.22" fill="#5aa83a" stroke="#111" stroke-width="0.4"/>
<circle cx="241.31" cy="234.29" r="1.22" fill="#5aa83a" stroke="#111" stroke-width="0.4"/>
<circle cx="241.59" cy="231.89" r="1.22" fill="#5aa83a" stroke="#111" stroke-width="0.4"/>
<circle cx="241.13" cy="229.50" r="1.22" fill="#5aa83a" stroke="#111" stroke-width="0.4"/>
<line x1="248.30" y1="261.13" x2="248.30" y2="255.38" stroke="#222" stroke-width="0.5" />
<path d="M245.75,261.41 L249.26,261.41 L247.50,263.71Z" fill="#1d3566" stroke="#111" stroke-width="0.4"/>
<path d="M245.99,259.36 L249.50,259.36 L247.74,261.66Z" fill="#1d3566" stroke="#111" stroke-width="0.4"/>
<path d="M245.91,257.31 L249.42,257.31 L247.66,259.60Z" fill="#1d3566" stroke="#111" stroke-width="0.4"/>
<path d="M246.33,255.25 L249.84,255.25 L248.08,257.55Z" fill="#1d3566" stroke="#111" stroke-width="0.4"/>
<path d="M245.79,253.20 L249.30,253.20 L247.54,255.49Z" fill="#1d3566" stroke="#111" stroke-width="0.4"/>
<line x1="254.75" y1="233.06" x2="254.75" y2="227.30" stroke="#222" stroke-width="0.5" />
<path d="M253.59,234.29 L255.35,233.07 L257.10,234.29 L255.35,235.50Z" fill="#2e1040" stroke="#111" stroke-width="0.4"/>
<path d="M253.18,232.23 L254.93,231.02 L256.69,232.23 L254.93,233.45Z" fill="#2e1040" stroke="#111" stroke-width="0.4"/>
<path d="M252.43,230.18 L254.19,228.97 L255.94,230.18 L254.19,231.40Z" fill="#2e1040" stroke="#111" stroke-width="0.4"/>
<path d="M252.60,228.13 L254.35,226.91 L256.11,228.13 L254.35,229.34Z" fill="#2e1040" stroke="#111" stroke-width="0.4"/>
<path d="M252.75,226.07 L254.51,224.86 L256.26,226.07 L254.51,227.29Z" fill="#2e1040" stroke="#111" stroke-width="0.4"/>
<line x1="261.20" y1="259.07" x2="261.20" y2="253.32" stroke="#222" stroke-width="0.5" />
<path d="M259.50,261.39 L262.47,261.39 L260.98,258.82Z" fill="#7a1224" stroke="#111" stroke-width="0.4"/>
<path d="M259.11,259.33 L262.08,259.33 L260.60,256.77Z" fill="#7a1224" stroke="#111" stroke-width="0.4"/>
<path d="M260.27,257.28 L263.24,257.28 L261.76,254.71Z" fill="#7a1224" stroke="#111" stroke-width="0.4"/>
<path d="M260.50,255.22 L263.47,255.22 L261.99,252.66Z" fill="#7a1224" stroke="#111" stroke-width="0.4"/>
<path d="M259.66,253.17 L262.63,253.17 L261.15,250.60Z" fill="#7a1224" stroke="#111" stroke-width="0.4"/>
<line x1="267.65" y1="225.73" x2="267.65" y2="220.94" stroke="#222" stroke-width="0.5" />
<path d="M267.62,225.14 L268.97,226.76 L267.62,228.38 L266.27,226.76Z" fill="#4f8fcc" stroke="#1f4f80" stroke-width="0.4"/>
<path d="M266.99,223.43 L268.34,225.05 L266.99,226.67 L265.64,225.05Z" fill="#4f8fcc" stroke="#1f4f80" stroke-width="0.4"/>
<path d="M267.01,221.71 L268.36,223.33 L267.01,224.95 L265.66,223.33Z" fill="#4f8fcc" stroke="#1f4f80" stroke-width="0.4"/>
<path d="M267.40,220.00 L268.75,221.62 L267.40,223.24 L266.05,221.62Z" fill="#4f8fcc" stroke="#1f4f80" stroke-width="0.4"/>
<path d="M267.27,218.29 L268.62,219.91 L267.27,221.53 L265.92,219.91Z" fill="#4f8fcc" stroke="#1f4f80" stroke-width="0.4"/>
<line x1="251.53" y1="291.70" x2="251.53" y2="294.50" stroke="#222222" stroke-width="0.9" />
<text transform="translate(251.53,303.30) scale(0.92,1)" font-size="6.5" text-anchor="middle" fill="#222" >Day 21</text>
<line x1="45.40" y1="198.40" x2="45.40" y2="214.50" stroke="#444" stroke-width="0.75" />
<line x1="45.40" y1="198.40" x2="71.20" y2="198.40" stroke="#444" stroke-width="0.75" />
<line x1="71.20" y1="198.40" x2="71.20" y2="238.05" stroke="#444" stroke-width="0.75" />
<text x="58.30" y="199.61" font-size="4.8" text-anchor="middle" font-weight="normal" fill="#444" >****</text>
<line x1="45.40" y1="205.90" x2="58.30" y2="205.90" stroke="#444" stroke-width="0.75" />
<line x1="58.30" y1="205.90" x2="58.30" y2="237.57" stroke="#444" stroke-width="0.75" />
<text x="51.85" y="207.11" font-size="4.8" text-anchor="middle" font-weight="normal" fill="#444" >****</text>
<line x1="92.90" y1="198.60" x2="92.90" y2="214.50" stroke="#444" stroke-width="0.75" />
<line x1="92.90" y1="198.60" x2="118.70" y2="198.60" stroke="#444" stroke-width="0.75" />
<line x1="118.70" y1="198.60" x2="118.70" y2="240.93" stroke="#444" stroke-width="0.75" />
<text x="105.80" y="199.81" font-size="4.8" text-anchor="middle" font-weight="normal" fill="#444" >****</text>
<line x1="92.90" y1="206.30" x2="105.80" y2="206.30" stroke="#444" stroke-width="0.75" />
<line x1="105.80" y1="206.30" x2="105.80" y2="245.59" stroke="#444" stroke-width="0.75" />
<text x="99.35" y="207.51" font-size="4.8" text-anchor="middle" font-weight="normal" fill="#444" >****</text>
<line x1="140.40" y1="198.50" x2="140.40" y2="214.50" stroke="#444" stroke-width="0.75" />
<line x1="140.40" y1="198.50" x2="166.20" y2="198.50" stroke="#444" stroke-width="0.75" />
<line x1="166.20" y1="198.50" x2="166.20" y2="244.42" stroke="#444" stroke-width="0.75" />
<text x="153.30" y="199.71" font-size="4.8" text-anchor="middle" font-weight="normal" fill="#444" >****</text>
<line x1="140.40" y1="202.50" x2="159.75" y2="202.50" stroke="#444" stroke-width="0.75" />
<line x1="159.75" y1="202.50" x2="159.75" y2="222.31" stroke="#444" stroke-width="0.75" />
<text x="150.07" y="203.71" font-size="4.8" text-anchor="middle" font-weight="normal" fill="#444" >**</text>
<line x1="140.40" y1="205.80" x2="153.30" y2="205.80" stroke="#444" stroke-width="0.75" />
<line x1="153.30" y1="205.80" x2="153.30" y2="248.60" stroke="#444" stroke-width="0.75" />
<text x="146.85" y="207.01" font-size="4.8" text-anchor="middle" font-weight="normal" fill="#444" >****</text>
<line x1="140.40" y1="209.50" x2="146.85" y2="209.50" stroke="#444" stroke-width="0.75" />
<line x1="146.85" y1="209.50" x2="146.85" y2="226.07" stroke="#444" stroke-width="0.75" />
<text x="143.62" y="210.71" font-size="4.8" text-anchor="middle" font-weight="normal" fill="#444" >****</text>
<line x1="187.90" y1="194.30" x2="187.90" y2="214.50" stroke="#444" stroke-width="0.75" />
<line x1="187.90" y1="194.30" x2="220.15" y2="194.30" stroke="#444" stroke-width="0.75" />
<line x1="220.15" y1="194.30" x2="220.15" y2="220.94" stroke="#444" stroke-width="0.75" />
<text x="204.03" y="195.51" font-size="4.8" text-anchor="middle" font-weight="normal" fill="#444" >*</text>
<line x1="187.90" y1="197.90" x2="213.70" y2="197.90" stroke="#444" stroke-width="0.75" />
<line x1="213.70" y1="197.90" x2="213.70" y2="247.64" stroke="#444" stroke-width="0.75" />
<text x="200.80" y="199.11" font-size="4.8" text-anchor="middle" font-weight="normal" fill="#444" >****</text>
<line x1="187.90" y1="201.70" x2="207.25" y2="201.70" stroke="#444" stroke-width="0.75" />
<line x1="207.25" y1="201.70" x2="207.25" y2="221.96" stroke="#444" stroke-width="0.75" />
<text x="197.57" y="202.91" font-size="4.8" text-anchor="middle" font-weight="normal" fill="#444" >**</text>
<line x1="187.90" y1="206.00" x2="200.80" y2="206.00" stroke="#444" stroke-width="0.75" />
<line x1="200.80" y1="206.00" x2="200.80" y2="251.06" stroke="#444" stroke-width="0.75" />
<text x="194.35" y="207.21" font-size="4.8" text-anchor="middle" font-weight="normal" fill="#444" >****</text>
<line x1="187.90" y1="210.20" x2="194.35" y2="210.20" stroke="#444" stroke-width="0.75" />
<line x1="194.35" y1="210.20" x2="194.35" y2="229.84" stroke="#444" stroke-width="0.75" />
<text x="191.12" y="211.41" font-size="4.8" text-anchor="middle" font-weight="normal" fill="#444" >****</text>
<line x1="235.40" y1="198.20" x2="235.40" y2="214.50" stroke="#444" stroke-width="0.75" />
<line x1="235.40" y1="198.20" x2="261.20" y2="198.20" stroke="#444" stroke-width="0.75" />
<line x1="261.20" y1="198.20" x2="261.20" y2="249.01" stroke="#444" stroke-width="0.75" />
<text x="248.30" y="199.41" font-size="4.8" text-anchor="middle" font-weight="normal" fill="#444" >****</text>
<line x1="235.40" y1="202.10" x2="254.75" y2="202.10" stroke="#444" stroke-width="0.75" />
<line x1="254.75" y1="202.10" x2="254.75" y2="222.99" stroke="#444" stroke-width="0.75" />
<text x="245.07" y="203.31" font-size="4.8" text-anchor="middle" font-weight="normal" fill="#444" >****</text>
<line x1="235.40" y1="206.00" x2="248.30" y2="206.00" stroke="#444" stroke-width="0.75" />
<line x1="248.30" y1="206.00" x2="248.30" y2="251.06" stroke="#444" stroke-width="0.75" />
<text x="241.85" y="207.21" font-size="4.8" text-anchor="middle" font-weight="normal" fill="#444" >****</text>
<line x1="235.40" y1="209.80" x2="241.85" y2="209.80" stroke="#444" stroke-width="0.75" />
<line x1="241.85" y1="209.80" x2="241.85" y2="226.41" stroke="#444" stroke-width="0.75" />
<text x="238.62" y="211.01" font-size="4.8" text-anchor="middle" font-weight="normal" fill="#444" >****</text>
<text x="205.50" y="16.80" font-size="11.5" text-anchor="start" font-weight="bold" fill="#000" stroke="#000" stroke-width="0.3">C</text>
<text x="275.50" y="31.40" font-size="8.2" text-anchor="middle" font-weight="normal" fill="#111" >Day 7 Anti-HOD IgM</text>
<text x="275.50" y="42.10" font-size="8.2" text-anchor="middle" font-weight="normal" fill="#111" >Alloantibodies</text>
<line x1="237.60" y1="53.50" x2="237.60" y2="132.80" stroke="#222222" stroke-width="1.1" />
<line x1="237.10" y1="132.30" x2="312.40" y2="132.30" stroke="#222222" stroke-width="1.1" />
<line x1="234.60" y1="132.30" x2="237.60" y2="132.30" stroke="#222222" stroke-width="0.9" />
<text transform="translate(232.30,134.40) scale(1.07,1)" font-size="6.2" text-anchor="end" fill="#222" >0</text>
<line x1="234.60" y1="117.20" x2="237.60" y2="117.20" stroke="#222222" stroke-width="0.9" />
<text transform="translate(232.30,119.30) scale(1.07,1)" font-size="6.2" text-anchor="end" fill="#222" >200</text>
<line x1="234.60" y1="102.10" x2="237.60" y2="102.10" stroke="#222222" stroke-width="0.9" />
<text transform="translate(232.30,104.20) scale(1.07,1)" font-size="6.2" text-anchor="end" fill="#222" >400</text>
<line x1="234.60" y1="87.00" x2="237.60" y2="87.00" stroke="#222222" stroke-width="0.9" />
<text transform="translate(232.30,89.10) scale(1.07,1)" font-size="6.2" text-anchor="end" fill="#222" >600</text>
<line x1="234.60" y1="71.90" x2="237.60" y2="71.90" stroke="#222222" stroke-width="0.9" />
<text transform="translate(232.30,74.00) scale(1.07,1)" font-size="6.2" text-anchor="end" fill="#222" >800</text>
<line x1="234.60" y1="56.80" x2="237.60" y2="56.80" stroke="#222222" stroke-width="0.9" />
<text transform="translate(232.30,58.90) scale(1.07,1)" font-size="6.2" text-anchor="end" fill="#222" >1000</text>
<text class="yl" transform="translate(211.60,93.00) rotate(-90) scale(0.82,1)" font-size="7.0" text-anchor="middle" fill="#111">Adjusted MFI</text>
<rect x="241.50" y="127.77" width="8.60" height="4.53" fill="#e2e1e7" />
<rect x="253.20" y="128.15" width="8.60" height="4.15" fill="#b6d59e" />
<rect x="264.90" y="99.08" width="8.60" height="33.22" fill="#7f8dba" />
<rect x="276.60" y="127.02" width="8.60" height="5.28" fill="#8f75a2" />
<rect x="288.30" y="93.42" width="8.60" height="38.88" fill="#df9385" />
<rect x="300.00" y="129.28" width="8.60" height="3.02" fill="#b4d2f1" />
<line x1="245.80" y1="126.26" x2="245.80" y2="129.28" stroke="#222" stroke-width="0.6" />
<line x1="244.30" y1="126.26" x2="247.30" y2="126.26" stroke="#222" stroke-width="0.6" />
<circle cx="244.20" cy="128.53" r="1.19" fill="#fff" stroke="#333" stroke-width="0.75"/>
<circle cx="245.80" cy="127.02" r="1.19" fill="#fff" stroke="#333" stroke-width="0.75"/>
<circle cx="247.40" cy="125.88" r="1.19" fill="#fff" stroke="#333" stroke-width="0.75"/>
<circle cx="244.20" cy="129.28" r="1.19" fill="#fff" stroke="#333" stroke-width="0.75"/>
<line x1="245.80" y1="132.30" x2="245.80" y2="134.80" stroke="#222222" stroke-width="0.9" />
<text transform="translate(248.40,140.00) rotate(-45)" font-size="7.2" text-anchor="end" fill="#222">PBS</text>
<line x1="257.50" y1="127.02" x2="257.50" y2="129.28" stroke="#222" stroke-width="0.6" />
<line x1="256.00" y1="127.02" x2="259.00" y2="127.02" stroke="#222" stroke-width="0.6" />
<circle cx="255.90" cy="129.28" r="1.26" fill="#5aa83a" stroke="#111" stroke-width="0.4"/>
<circle cx="257.50" cy="128.15" r="1.26" fill="#5aa83a" stroke="#111" stroke-width="0.4"/>
<circle cx="259.10" cy="127.02" r="1.26" fill="#5aa83a" stroke="#111" stroke-width="0.4"/>
<circle cx="255.90" cy="126.26" r="1.26" fill="#5aa83a" stroke="#111" stroke-width="0.4"/>
<line x1="257.50" y1="132.30" x2="257.50" y2="134.80" stroke="#222222" stroke-width="0.9" />
<text transform="translate(260.10,140.00) rotate(-45)" font-size="7.2" text-anchor="end" fill="#222">IgG1</text>
<line x1="269.20" y1="83.98" x2="269.20" y2="111.92" stroke="#222" stroke-width="0.6" />
<line x1="267.70" y1="83.98" x2="270.70" y2="83.98" stroke="#222" stroke-width="0.6" />
<path d="M265.78,73.19 L269.42,73.19 L267.60,75.57Z" fill="#1d3566" stroke="#111" stroke-width="0.4"/>
<path d="M267.38,98.10 L271.02,98.10 L269.20,100.48Z" fill="#1d3566" stroke="#111" stroke-width="0.4"/>
<path d="M268.98,98.10 L272.62,98.10 L270.80,100.48Z" fill="#1d3566" stroke="#111" stroke-width="0.4"/>
<path d="M265.78,102.63 L269.42,102.63 L267.60,105.01Z" fill="#1d3566" stroke="#111" stroke-width="0.4"/>
<path d="M267.38,109.43 L271.02,109.43 L269.20,111.81Z" fill="#1d3566" stroke="#111" stroke-width="0.4"/>
<line x1="269.20" y1="132.30" x2="269.20" y2="134.80" stroke="#222222" stroke-width="0.9" />
<text transform="translate(271.80,140.00) rotate(-45)" font-size="7.2" text-anchor="end" fill="#222">IgG2a</text>
<line x1="280.90" y1="124.00" x2="280.90" y2="129.28" stroke="#222" stroke-width="0.6" />
<line x1="279.40" y1="124.00" x2="282.40" y2="124.00" stroke="#222" stroke-width="0.6" />
<path d="M277.48,121.73 L279.30,120.47 L281.12,121.73 L279.30,122.99Z" fill="#2e1040" stroke="#111" stroke-width="0.4"/>
<path d="M279.08,127.02 L280.90,125.76 L282.72,127.02 L280.90,128.28Z" fill="#2e1040" stroke="#111" stroke-width="0.4"/>
<path d="M280.68,127.77 L282.50,126.51 L284.32,127.77 L282.50,129.03Z" fill="#2e1040" stroke="#111" stroke-width="0.4"/>
<path d="M277.48,127.77 L279.30,126.51 L281.12,127.77 L279.30,129.03Z" fill="#2e1040" stroke="#111" stroke-width="0.4"/>
<line x1="280.90" y1="132.30" x2="280.90" y2="134.80" stroke="#222222" stroke-width="0.9" />
<text transform="translate(283.50,140.00) rotate(-45)" font-size="7.2" text-anchor="end" fill="#222">IgG2b</text>
<line x1="292.60" y1="86.25" x2="292.60" y2="100.59" stroke="#222" stroke-width="0.6" />
<line x1="291.10" y1="86.25" x2="294.10" y2="86.25" stroke="#222" stroke-width="0.6" />
<path d="M289.46,86.61 L292.54,86.61 L291.00,83.95Z" fill="#7a1224" stroke="#111" stroke-width="0.4"/>
<path d="M291.06,88.12 L294.14,88.12 L292.60,85.46Z" fill="#7a1224" stroke="#111" stroke-width="0.4"/>
<path d="M292.66,94.16 L295.74,94.16 L294.20,91.50Z" fill="#7a1224" stroke="#111" stroke-width="0.4"/>
<path d="M289.46,97.94 L292.54,97.94 L291.00,95.28Z" fill="#7a1224" stroke="#111" stroke-width="0.4"/>
<path d="M291.06,101.71 L294.14,101.71 L292.60,99.05Z" fill="#7a1224" stroke="#111" stroke-width="0.4"/>
<line x1="292.60" y1="132.30" x2="292.60" y2="134.80" stroke="#222222" stroke-width="0.9" />
<text transform="translate(295.20,140.00) rotate(-45)" font-size="7.2" text-anchor="end" fill="#222">IgG2c</text>
<line x1="304.30" y1="128.53" x2="304.30" y2="129.66" stroke="#222" stroke-width="0.6" />
<line x1="302.80" y1="128.53" x2="305.80" y2="128.53" stroke="#222" stroke-width="0.6" />
<path d="M302.70,127.60 L304.10,129.28 L302.70,130.96 L301.30,129.28Z" fill="#4f8fcc" stroke="#1f4f80" stroke-width="0.4"/>
<path d="M304.30,127.22 L305.70,128.90 L304.30,130.58 L302.90,128.90Z" fill="#4f8fcc" stroke="#1f4f80" stroke-width="0.4"/>
<path d="M305.90,127.60 L307.30,129.28 L305.90,130.96 L304.50,129.28Z" fill="#4f8fcc" stroke="#1f4f80" stroke-width="0.4"/>
<line x1="304.30" y1="132.30" x2="304.30" y2="134.80" stroke="#222222" stroke-width="0.9" />
<text transform="translate(306.90,140.00) rotate(-45)" font-size="7.2" text-anchor="end" fill="#222">IgG3</text>
<text x="269.20" y="62.16" font-size="5.0" text-anchor="middle" font-weight="normal" fill="#333" >****</text>
<text x="292.30" y="70.77" font-size="5.0" text-anchor="middle" font-weight="normal" fill="#333" >****</text>
<text x="11.50" y="330.20" font-size="11.5" text-anchor="start" font-weight="bold" fill="#000" stroke="#000" stroke-width="0.3">D</text>
<text x="120.70" y="349.90" font-size="8.2" text-anchor="middle" font-weight="normal" fill="#111" >Anti-HOD IgG Alloantibodies</text>
<line x1="44.80" y1="360.80" x2="44.80" y2="446.10" stroke="#222222" stroke-width="1.1" />
<line x1="44.30" y1="445.60" x2="197.00" y2="445.60" stroke="#222222" stroke-width="1.1" />
<line x1="41.80" y1="445.60" x2="44.80" y2="445.60" stroke="#222222" stroke-width="0.9" />
<text transform="translate(39.40,447.70) scale(1.07,1)" font-size="6.2" text-anchor="end" fill="#222" >0</text>
<line x1="41.80" y1="418.20" x2="44.80" y2="418.20" stroke="#222222" stroke-width="0.9" />
<text transform="translate(39.40,420.30) scale(1.07,1)" font-size="6.2" text-anchor="end" fill="#222" >1000</text>
<line x1="41.80" y1="390.80" x2="44.80" y2="390.80" stroke="#222222" stroke-width="0.9" />
<text transform="translate(39.40,392.90) scale(1.07,1)" font-size="6.2" text-anchor="end" fill="#222" >2000</text>
<line x1="41.80" y1="363.40" x2="44.80" y2="363.40" stroke="#222222" stroke-width="0.9" />
<text transform="translate(39.40,365.50) scale(1.07,1)" font-size="6.2" text-anchor="end" fill="#222" >3000</text>
<text class="yl" transform="translate(17.80,402.70) rotate(-90) scale(0.82,1)" font-size="7.0" text-anchor="middle" fill="#111">Adjusted MFI</text>
<rect x="46.40" y="444.23" width="5.80" height="1.37" fill="#e2e1e7" />
<rect x="54.60" y="443.41" width="5.80" height="2.19" fill="#b6d59e" />
<rect x="62.80" y="429.16" width="5.80" height="16.44" fill="#7f8dba" />
<rect x="71.00" y="444.50" width="5.80" height="1.10" fill="#8f75a2" />
<rect x="79.20" y="418.20" width="5.80" height="27.40" fill="#df9385" />
<rect x="87.40" y="444.78" width="5.80" height="0.82" fill="#b4d2f1" />
<circle cx="48.60" cy="444.23" r="1.19" fill="#fff" stroke="#333" stroke-width="0.75"/>
<circle cx="49.30" cy="443.41" r="1.19" fill="#fff" stroke="#333" stroke-width="0.75"/>
<circle cx="50.00" cy="443.96" r="1.19" fill="#fff" stroke="#333" stroke-width="0.75"/>
<circle cx="56.80" cy="443.41" r="1.26" fill="#5aa83a" stroke="#111" stroke-width="0.4"/>
<circle cx="57.50" cy="443.13" r="1.26" fill="#5aa83a" stroke="#111" stroke-width="0.4"/>
<circle cx="58.20" cy="443.68" r="1.26" fill="#5aa83a" stroke="#111" stroke-width="0.4"/>
<line x1="65.70" y1="417.65" x2="65.70" y2="437.93" stroke="#222" stroke-width="0.6" />
<line x1="64.40" y1="417.65" x2="67.00" y2="417.65" stroke="#222" stroke-width="0.6" />
<path d="M63.18,413.11 L66.82,413.11 L65.00,415.49Z" fill="#1d3566" stroke="#111" stroke-width="0.4"/>
<path d="M63.88,418.59 L67.52,418.59 L65.70,420.97Z" fill="#1d3566" stroke="#111" stroke-width="0.4"/>
<path d="M64.58,422.70 L68.22,422.70 L66.40,425.08Z" fill="#1d3566" stroke="#111" stroke-width="0.4"/>
<path d="M63.18,428.18 L66.82,428.18 L65.00,430.56Z" fill="#1d3566" stroke="#111" stroke-width="0.4"/>
<path d="M63.88,432.29 L67.52,432.29 L65.70,434.67Z" fill="#1d3566" stroke="#111" stroke-width="0.4"/>
<path d="M64.58,436.40 L68.22,436.40 L66.40,438.78Z" fill="#1d3566" stroke="#111" stroke-width="0.4"/>
<path d="M71.38,444.50 L73.20,443.24 L75.02,444.50 L73.20,445.76Z" fill="#2e1040" stroke="#111" stroke-width="0.4"/>
<path d="M72.08,444.23 L73.90,442.97 L75.72,444.23 L73.90,445.49Z" fill="#2e1040" stroke="#111" stroke-width="0.4"/>
<line x1="82.10" y1="405.60" x2="82.10" y2="428.06" stroke="#222" stroke-width="0.6" />
<line x1="80.80" y1="405.60" x2="83.40" y2="405.60" stroke="#222" stroke-width="0.6" />
<path d="M79.86,406.99 L82.94,406.99 L81.40,404.33Z" fill="#7a1224" stroke="#111" stroke-width="0.4"/>
<path d="M80.56,411.10 L83.64,411.10 L82.10,408.44Z" fill="#7a1224" stroke="#111" stroke-width="0.4"/>
<path d="M81.26,419.32 L84.34,419.32 L82.80,416.66Z" fill="#7a1224" stroke="#111" stroke-width="0.4"/>
<path d="M79.86,430.28 L82.94,430.28 L81.40,427.62Z" fill="#7a1224" stroke="#111" stroke-width="0.4"/>
<text x="82.10" y="403.11" font-size="4.9" text-anchor="middle" font-weight="normal" fill="#333" >****</text>
<path d="M89.60,442.82 L91.00,444.50 L89.60,446.18 L88.20,444.50Z" fill="#4f8fcc" stroke="#1f4f80" stroke-width="0.4"/>
<path d="M90.30,442.55 L91.70,444.23 L90.30,445.91 L88.90,444.23Z" fill="#4f8fcc" stroke="#1f4f80" stroke-width="0.4"/>
<line x1="69.80" y1="445.60" x2="69.80" y2="448.20" stroke="#222222" stroke-width="0.9" />
<text transform="translate(69.80,457.60) scale(0.92,1)" font-size="6.5" text-anchor="middle" fill="#222" >Day 7</text>
<rect x="98.00" y="445.05" width="5.80" height="0.55" fill="#e2e1e7" />
<rect x="106.20" y="444.50" width="5.80" height="1.10" fill="#b6d59e" />
<rect x="114.40" y="415.19" width="5.80" height="30.41" fill="#7f8dba" />
<rect x="122.60" y="444.23" width="5.80" height="1.37" fill="#8f75a2" />
<rect x="130.80" y="410.99" width="5.80" height="34.61" fill="#df9385" />
<rect x="139.00" y="445.05" width="5.80" height="0.55" fill="#b4d2f1" />
<circle cx="100.20" cy="445.05" r="1.19" fill="#fff" stroke="#333" stroke-width="0.75"/>
<circle cx="100.90" cy="444.78" r="1.19" fill="#fff" stroke="#333" stroke-width="0.75"/>
<circle cx="108.40" cy="444.50" r="1.26" fill="#5aa83a" stroke="#111" stroke-width="0.4"/>
<circle cx="109.10" cy="444.23" r="1.26" fill="#5aa83a" stroke="#111" stroke-width="0.4"/>
<line x1="117.30" y1="400.80" x2="117.30" y2="429.43" stroke="#222" stroke-width="0.6" />
<line x1="116.00" y1="400.80" x2="118.60" y2="400.80" stroke="#222" stroke-width="0.6" />
<path d="M114.78,392.56 L118.42,392.56 L116.60,394.94Z" fill="#1d3566" stroke="#111" stroke-width="0.4"/>
<path d="M115.48,409.00 L119.12,409.00 L117.30,411.38Z" fill="#1d3566" stroke="#111" stroke-width="0.4"/>
<path d="M116.18,417.22 L119.82,417.22 L118.00,419.60Z" fill="#1d3566" stroke="#111" stroke-width="0.4"/>
<path d="M114.78,424.07 L118.42,424.07 L116.60,426.45Z" fill="#1d3566" stroke="#111" stroke-width="0.4"/>
<path d="M115.48,429.55 L119.12,429.55 L117.30,431.93Z" fill="#1d3566" stroke="#111" stroke-width="0.4"/>
<text x="117.30" y="389.21" font-size="4.9" text-anchor="middle" font-weight="normal" fill="#333" >****</text>
<path d="M122.98,444.23 L124.80,442.97 L126.62,444.23 L124.80,445.49Z" fill="#2e1040" stroke="#111" stroke-width="0.4"/>
<path d="M123.68,443.68 L125.50,442.42 L127.32,443.68 L125.50,444.94Z" fill="#2e1040" stroke="#111" stroke-width="0.4"/>
<path d="M124.38,444.50 L126.20,443.24 L128.02,444.50 L126.20,445.76Z" fill="#2e1040" stroke="#111" stroke-width="0.4"/>
<line x1="133.70" y1="396.55" x2="133.70" y2="423.68" stroke="#222" stroke-width="0.6" />
<line x1="132.40" y1="396.55" x2="135.00" y2="396.55" stroke="#222" stroke-width="0.6" />
<path d="M131.46,397.40 L134.54,397.40 L133.00,394.74Z" fill="#7a1224" stroke="#111" stroke-width="0.4"/>
<path d="M132.16,405.62 L135.24,405.62 L133.70,402.96Z" fill="#7a1224" stroke="#111" stroke-width="0.4"/>
<path d="M132.86,411.10 L135.94,411.10 L134.40,408.44Z" fill="#7a1224" stroke="#111" stroke-width="0.4"/>
<path d="M131.46,419.32 L134.54,419.32 L133.00,416.66Z" fill="#7a1224" stroke="#111" stroke-width="0.4"/>
<path d="M132.16,431.65 L135.24,431.65 L133.70,428.99Z" fill="#7a1224" stroke="#111" stroke-width="0.4"/>
<text x="133.70" y="389.21" font-size="4.9" text-anchor="middle" font-weight="normal" fill="#333" >****</text>
<path d="M141.20,443.10 L142.60,444.78 L141.20,446.46 L139.80,444.78Z" fill="#4f8fcc" stroke="#1f4f80" stroke-width="0.4"/>
<path d="M141.90,442.82 L143.30,444.50 L141.90,446.18 L140.50,444.50Z" fill="#4f8fcc" stroke="#1f4f80" stroke-width="0.4"/>
<line x1="121.40" y1="445.60" x2="121.40" y2="448.20" stroke="#222222" stroke-width="0.9" />
<text transform="translate(121.40,457.60) scale(0.92,1)" font-size="6.5" text-anchor="middle" fill="#222" >Day 14</text>
<rect x="149.60" y="444.78" width="5.80" height="0.82" fill="#e2e1e7" />
<rect x="157.80" y="443.96" width="5.80" height="1.64" fill="#b6d59e" />
<rect x="166.00" y="404.20" width="5.80" height="41.40" fill="#7f8dba" />
<rect x="174.20" y="443.96" width="5.80" height="1.64" fill="#8f75a2" />
<rect x="182.40" y="397.10" width="5.80" height="48.50" fill="#df9385" />
<rect x="190.60" y="444.78" width="5.80" height="0.82" fill="#b4d2f1" />
<circle cx="151.80" cy="444.78" r="1.19" fill="#fff" stroke="#333" stroke-width="0.75"/>
<circle cx="152.50" cy="444.50" r="1.19" fill="#fff" stroke="#333" stroke-width="0.75"/>
<line x1="160.70" y1="438.75" x2="160.70" y2="445.60" stroke="#222" stroke-width="0.6" />
<line x1="159.40" y1="438.75" x2="162.00" y2="438.75" stroke="#222" stroke-width="0.6" />
<circle cx="160.00" cy="437.38" r="1.26" fill="#5aa83a" stroke="#111" stroke-width="0.4"/>
<circle cx="160.70" cy="442.86" r="1.26" fill="#5aa83a" stroke="#111" stroke-width="0.4"/>
<circle cx="161.40" cy="443.96" r="1.26" fill="#5aa83a" stroke="#111" stroke-width="0.4"/>
<line x1="168.90" y1="385.32" x2="168.90" y2="420.67" stroke="#222" stroke-width="0.6" />
<line x1="167.60" y1="385.32" x2="170.20" y2="385.32" stroke="#222" stroke-width="0.6" />
<path d="M166.38,376.12 L170.02,376.12 L168.20,378.50Z" fill="#1d3566" stroke="#111" stroke-width="0.4"/>
<path d="M167.08,395.30 L170.72,395.30 L168.90,397.68Z" fill="#1d3566" stroke="#111" stroke-width="0.4"/>
<path d="M167.78,400.78 L171.42,400.78 L169.60,403.16Z" fill="#1d3566" stroke="#111" stroke-width="0.4"/>
<path d="M166.38,417.22 L170.02,417.22 L168.20,419.60Z" fill="#1d3566" stroke="#111" stroke-width="0.4"/>
<path d="M167.08,419.96 L170.72,419.96 L168.90,422.34Z" fill="#1d3566" stroke="#111" stroke-width="0.4"/>
<text x="168.90" y="371.91" font-size="4.9" text-anchor="middle" font-weight="normal" fill="#333" >****</text>
<path d="M174.58,443.96 L176.40,442.70 L178.22,443.96 L176.40,445.22Z" fill="#2e1040" stroke="#111" stroke-width="0.4"/>
<path d="M175.28,443.41 L177.10,442.15 L178.92,443.41 L177.10,444.67Z" fill="#2e1040" stroke="#111" stroke-width="0.4"/>
<line x1="185.30" y1="379.84" x2="185.30" y2="411.90" stroke="#222" stroke-width="0.6" />
<line x1="184.00" y1="379.84" x2="186.60" y2="379.84" stroke="#222" stroke-width="0.6" />
<path d="M183.06,375.48 L186.14,375.48 L184.60,372.82Z" fill="#7a1224" stroke="#111" stroke-width="0.4"/>
<path d="M183.76,391.92 L186.84,391.92 L185.30,389.26Z" fill="#7a1224" stroke="#111" stroke-width="0.4"/>
<path d="M184.46,397.40 L187.54,397.40 L186.00,394.74Z" fill="#7a1224" stroke="#111" stroke-width="0.4"/>
<path d="M183.06,422.06 L186.14,422.06 L184.60,419.40Z" fill="#7a1224" stroke="#111" stroke-width="0.4"/>
<text x="185.30" y="371.91" font-size="4.9" text-anchor="middle" font-weight="normal" fill="#333" >****</text>
<path d="M192.80,441.18 L194.20,442.86 L192.80,444.54 L191.40,442.86Z" fill="#4f8fcc" stroke="#1f4f80" stroke-width="0.4"/>
<path d="M193.50,442.82 L194.90,444.50 L193.50,446.18 L192.10,444.50Z" fill="#4f8fcc" stroke="#1f4f80" stroke-width="0.4"/>
<path d="M194.20,443.37 L195.60,445.05 L194.20,446.73 L192.80,445.05Z" fill="#4f8fcc" stroke="#1f4f80" stroke-width="0.4"/>
<line x1="173.00" y1="445.60" x2="173.00" y2="448.20" stroke="#222222" stroke-width="0.9" />
<text transform="translate(173.00,457.60) scale(0.92,1)" font-size="6.5" text-anchor="middle" fill="#222" >Day 21</text>
<text x="214.30" y="329.60" font-size="11.5" text-anchor="start" font-weight="bold" fill="#000" stroke="#000" stroke-width="0.3">E</text>
<text x="288.40" y="344.60" font-size="8.2" text-anchor="middle" font-weight="normal" fill="#111" >Anti-HOD IgG1</text>
<text x="288.40" y="355.10" font-size="8.2" text-anchor="middle" font-weight="normal" fill="#111" >Alloantibodies</text>
<line x1="247.80" y1="360.60" x2="247.80" y2="445.70" stroke="#222222" stroke-width="1.1" />
<line x1="247.30" y1="445.20" x2="329.40" y2="445.20" stroke="#222222" stroke-width="1.1" />
<line x1="244.80" y1="445.20" x2="247.80" y2="445.20" stroke="#222222" stroke-width="0.9" />
<text transform="translate(242.40,447.30) scale(1.07,1)" font-size="6.2" text-anchor="end" fill="#222" >0</text>
<line x1="244.80" y1="424.70" x2="247.80" y2="424.70" stroke="#222222" stroke-width="0.9" />
<text transform="translate(242.40,426.80) scale(1.07,1)" font-size="6.2" text-anchor="end" fill="#222" >200</text>
<line x1="244.80" y1="404.20" x2="247.80" y2="404.20" stroke="#222222" stroke-width="0.9" />
<text transform="translate(242.40,406.30) scale(1.07,1)" font-size="6.2" text-anchor="end" fill="#222" >400</text>
<line x1="244.80" y1="383.70" x2="247.80" y2="383.70" stroke="#222222" stroke-width="0.9" />
<text transform="translate(242.40,385.80) scale(1.07,1)" font-size="6.2" text-anchor="end" fill="#222" >600</text>
<line x1="244.80" y1="363.20" x2="247.80" y2="363.20" stroke="#222222" stroke-width="0.9" />
<text transform="translate(242.40,365.30) scale(1.07,1)" font-size="6.2" text-anchor="end" fill="#222" >800</text>
<text class="yl" transform="translate(220.00,402.70) rotate(-90) scale(0.82,1)" font-size="7.0" text-anchor="middle" fill="#111">Adjusted MFI</text>
<rect x="248.80" y="444.69" width="4.60" height="0.51" fill="#e2e1e7" />
<rect x="255.50" y="444.18" width="4.60" height="1.02" fill="#b6d59e" />
<rect x="262.20" y="404.20" width="4.60" height="41.00" fill="#7f8dba" />
<rect x="268.90" y="443.66" width="4.60" height="1.54" fill="#8f75a2" />
<rect x="275.60" y="394.67" width="4.60" height="50.53" fill="#df9385" />
<rect x="282.30" y="444.18" width="4.60" height="1.02" fill="#b4d2f1" />
<circle cx="250.40" cy="444.69" r="1.10" fill="#fff" stroke="#333" stroke-width="0.75"/>
<circle cx="251.10" cy="444.69" r="1.10" fill="#fff" stroke="#333" stroke-width="0.75"/>
<circle cx="257.10" cy="444.18" r="1.17" fill="#5aa83a" stroke="#111" stroke-width="0.4"/>
<circle cx="257.80" cy="444.18" r="1.17" fill="#5aa83a" stroke="#111" stroke-width="0.4"/>
<line x1="264.50" y1="381.65" x2="264.50" y2="421.62" stroke="#222" stroke-width="0.6" />
<line x1="263.20" y1="381.65" x2="265.80" y2="381.65" stroke="#222" stroke-width="0.6" />
<path d="M262.11,380.74 L265.49,380.74 L263.80,382.95Z" fill="#1d3566" stroke="#111" stroke-width="0.4"/>
<path d="M262.81,380.74 L266.19,380.74 L264.50,382.95Z" fill="#1d3566" stroke="#111" stroke-width="0.4"/>
<path d="M263.51,408.41 L266.89,408.41 L265.20,410.62Z" fill="#1d3566" stroke="#111" stroke-width="0.4"/>
<path d="M262.11,418.66 L265.49,418.66 L263.80,420.88Z" fill="#1d3566" stroke="#111" stroke-width="0.4"/>
<path d="M262.81,420.71 L266.19,420.71 L264.50,422.93Z" fill="#1d3566" stroke="#111" stroke-width="0.4"/>
<text x="264.50" y="373.51" font-size="4.9" text-anchor="middle" font-weight="normal" fill="#333" >****</text>
<path d="M268.81,443.66 L270.50,442.49 L272.19,443.66 L270.50,444.83Z" fill="#2e1040" stroke="#111" stroke-width="0.4"/>
<path d="M269.51,443.15 L271.20,441.98 L272.89,443.15 L271.20,444.32Z" fill="#2e1040" stroke="#111" stroke-width="0.4"/>
<line x1="277.90" y1="375.50" x2="277.90" y2="418.55" stroke="#222" stroke-width="0.6" />
<line x1="276.60" y1="375.50" x2="279.20" y2="375.50" stroke="#222" stroke-width="0.6" />
<path d="M275.77,375.52 L278.63,375.52 L277.20,373.05Z" fill="#7a1224" stroke="#111" stroke-width="0.4"/>
<path d="M276.47,384.74 L279.33,384.74 L277.90,382.27Z" fill="#7a1224" stroke="#111" stroke-width="0.4"/>
<path d="M277.17,394.99 L280.03,394.99 L278.60,392.52Z" fill="#7a1224" stroke="#111" stroke-width="0.4"/>
<path d="M275.77,397.04 L278.63,397.04 L277.20,394.57Z" fill="#7a1224" stroke="#111" stroke-width="0.4"/>
<path d="M276.47,419.59 L279.33,419.59 L277.90,417.12Z" fill="#7a1224" stroke="#111" stroke-width="0.4"/>
<text x="277.90" y="370.61" font-size="4.9" text-anchor="middle" font-weight="normal" fill="#333" >****</text>
<path d="M283.90,441.59 L285.20,443.15 L283.90,444.71 L282.60,443.15Z" fill="#4f8fcc" stroke="#1f4f80" stroke-width="0.4"/>
<path d="M284.60,439.54 L285.90,441.10 L284.60,442.66 L283.30,441.10Z" fill="#4f8fcc" stroke="#1f4f80" stroke-width="0.4"/>
<line x1="267.85" y1="445.20" x2="267.85" y2="447.80" stroke="#222222" stroke-width="0.9" />
<text transform="translate(267.85,456.40) scale(0.92,1)" font-size="6.5" text-anchor="middle" fill="#222" >Day 14</text>
<rect x="290.20" y="444.18" width="4.60" height="1.02" fill="#e2e1e7" />
<rect x="296.90" y="442.12" width="4.60" height="3.07" fill="#b6d59e" />
<rect x="303.60" y="399.38" width="4.60" height="45.82" fill="#7f8dba" />
<rect x="310.30" y="441.10" width="4.60" height="4.10" fill="#8f75a2" />
<rect x="317.00" y="402.36" width="4.60" height="42.84" fill="#df9385" />
<rect x="323.70" y="441.10" width="4.60" height="4.10" fill="#b4d2f1" />
<circle cx="291.80" cy="444.18" r="1.10" fill="#fff" stroke="#333" stroke-width="0.75"/>
<circle cx="292.50" cy="444.18" r="1.10" fill="#fff" stroke="#333" stroke-width="0.75"/>
<line x1="299.20" y1="434.95" x2="299.20" y2="445.20" stroke="#222" stroke-width="0.6" />
<line x1="297.90" y1="434.95" x2="300.50" y2="434.95" stroke="#222" stroke-width="0.6" />
<circle cx="298.50" cy="429.82" r="1.17" fill="#5aa83a" stroke="#111" stroke-width="0.4"/>
<circle cx="299.20" cy="439.05" r="1.17" fill="#5aa83a" stroke="#111" stroke-width="0.4"/>
<circle cx="299.90" cy="442.12" r="1.17" fill="#5aa83a" stroke="#111" stroke-width="0.4"/>
<line x1="305.90" y1="381.65" x2="305.90" y2="415.47" stroke="#222" stroke-width="0.6" />
<line x1="304.60" y1="381.65" x2="307.20" y2="381.65" stroke="#222" stroke-width="0.6" />
<path d="M303.51,374.59 L306.89,374.59 L305.20,376.80Z" fill="#1d3566" stroke="#111" stroke-width="0.4"/>
<path d="M304.21,380.74 L307.59,380.74 L305.90,382.95Z" fill="#1d3566" stroke="#111" stroke-width="0.4"/>
<path d="M304.91,398.16 L308.29,398.16 L306.60,400.38Z" fill="#1d3566" stroke="#111" stroke-width="0.4"/>
<path d="M303.51,411.49 L306.89,411.49 L305.20,413.70Z" fill="#1d3566" stroke="#111" stroke-width="0.4"/>
<path d="M304.21,414.56 L307.59,414.56 L305.90,416.77Z" fill="#1d3566" stroke="#111" stroke-width="0.4"/>
<text x="305.90" y="371.51" font-size="4.9" text-anchor="middle" font-weight="normal" fill="#333" >****</text>
<path d="M310.21,437.00 L311.90,435.83 L313.59,437.00 L311.90,438.17Z" fill="#2e1040" stroke="#111" stroke-width="0.4"/>
<path d="M310.91,439.05 L312.60,437.88 L314.29,439.05 L312.60,440.22Z" fill="#2e1040" stroke="#111" stroke-width="0.4"/>
<path d="M311.61,441.10 L313.30,439.93 L314.99,441.10 L313.30,442.27Z" fill="#2e1040" stroke="#111" stroke-width="0.4"/>
<line x1="319.30" y1="390.88" x2="319.30" y2="411.38" stroke="#222" stroke-width="0.6" />
<line x1="318.00" y1="390.88" x2="320.60" y2="390.88" stroke="#222" stroke-width="0.6" />
<path d="M317.17,389.87 L320.03,389.87 L318.60,387.39Z" fill="#7a1224" stroke="#111" stroke-width="0.4"/>
<path d="M317.87,399.09 L320.73,399.09 L319.30,396.62Z" fill="#7a1224" stroke="#111" stroke-width="0.4"/>
<path d="M318.57,401.14 L321.43,401.14 L320.00,398.67Z" fill="#7a1224" stroke="#111" stroke-width="0.4"/>
<path d="M317.17,411.39 L320.03,411.39 L318.60,408.92Z" fill="#7a1224" stroke="#111" stroke-width="0.4"/>
<text x="319.30" y="381.91" font-size="4.9" text-anchor="middle" font-weight="normal" fill="#333" >****</text>
<line x1="326.00" y1="432.90" x2="326.00" y2="445.20" stroke="#222" stroke-width="0.6" />
<line x1="324.70" y1="432.90" x2="327.30" y2="432.90" stroke="#222" stroke-width="0.6" />
<path d="M325.30,425.19 L326.60,426.75 L325.30,428.31 L324.00,426.75Z" fill="#4f8fcc" stroke="#1f4f80" stroke-width="0.4"/>
<path d="M326.00,438.51 L327.30,440.07 L326.00,441.63 L324.70,440.07Z" fill="#4f8fcc" stroke="#1f4f80" stroke-width="0.4"/>
<path d="M326.70,440.56 L328.00,442.12 L326.70,443.69 L325.40,442.12Z" fill="#4f8fcc" stroke="#1f4f80" stroke-width="0.4"/>
<line x1="309.25" y1="445.20" x2="309.25" y2="447.80" stroke="#222222" stroke-width="0.9" />
<text transform="translate(309.25,456.40) scale(0.92,1)" font-size="6.5" text-anchor="middle" fill="#222" >Day 21</text>
<text x="8.30" y="483.90" font-size="11.5" text-anchor="start" font-weight="bold" fill="#000" stroke="#000" stroke-width="0.3">F</text>
<text x="78.00" y="497.00" font-size="8.2" text-anchor="middle" font-weight="normal" fill="#111" >Anti-HOD IgG2a</text>
<text x="78.00" y="507.30" font-size="8.2" text-anchor="middle" font-weight="normal" fill="#111" >Alloantibodies</text>
<line x1="36.80" y1="513.20" x2="36.80" y2="598.40" stroke="#222222" stroke-width="1.1" />
<line x1="36.30" y1="597.90" x2="118.40" y2="597.90" stroke="#222222" stroke-width="1.1" />
<line x1="33.80" y1="597.90" x2="36.80" y2="597.90" stroke="#222222" stroke-width="0.9" />
<text transform="translate(31.40,600.00) scale(1.07,1)" font-size="6.2" text-anchor="end" fill="#222" >0</text>
<line x1="33.80" y1="577.40" x2="36.80" y2="577.40" stroke="#222222" stroke-width="0.9" />
<text transform="translate(31.40,579.50) scale(1.07,1)" font-size="6.2" text-anchor="end" fill="#222" >200</text>
<line x1="33.80" y1="556.90" x2="36.80" y2="556.90" stroke="#222222" stroke-width="0.9" />
<text transform="translate(31.40,559.00) scale(1.07,1)" font-size="6.2" text-anchor="end" fill="#222" >400</text>
<line x1="33.80" y1="536.40" x2="36.80" y2="536.40" stroke="#222222" stroke-width="0.9" />
<text transform="translate(31.40,538.50) scale(1.07,1)" font-size="6.2" text-anchor="end" fill="#222" >600</text>
<line x1="33.80" y1="515.90" x2="36.80" y2="515.90" stroke="#222222" stroke-width="0.9" />
<text transform="translate(31.40,518.00) scale(1.07,1)" font-size="6.2" text-anchor="end" fill="#222" >800</text>
<text class="yl" transform="translate(14.20,555.30) rotate(-90) scale(0.82,1)" font-size="7.0" text-anchor="middle" fill="#111">Adjusted MFI</text>
<rect x="38.70" y="597.39" width="5.00" height="0.51" fill="#e2e1e7" />
<rect x="45.17" y="597.08" width="5.00" height="0.82" fill="#b6d59e" />
<rect x="51.64" y="591.13" width="5.00" height="6.76" fill="#7f8dba" />
<rect x="58.11" y="597.08" width="5.00" height="0.82" fill="#8f75a2" />
<rect x="64.58" y="586.62" width="5.00" height="11.27" fill="#df9385" />
<rect x="71.05" y="597.39" width="5.00" height="0.51" fill="#b4d2f1" />
<circle cx="39.90" cy="597.39" r="1.02" fill="#fff" stroke="#333" stroke-width="0.75"/>
<circle cx="41.20" cy="597.39" r="1.02" fill="#fff" stroke="#333" stroke-width="0.75"/>
<circle cx="42.50" cy="597.39" r="1.02" fill="#fff" stroke="#333" stroke-width="0.75"/>
<circle cx="46.37" cy="597.08" r="1.08" fill="#5aa83a" stroke="#111" stroke-width="0.4"/>
<circle cx="47.67" cy="597.08" r="1.08" fill="#5aa83a" stroke="#111" stroke-width="0.4"/>
<circle cx="48.97" cy="597.08" r="1.08" fill="#5aa83a" stroke="#111" stroke-width="0.4"/>
<line x1="54.14" y1="585.60" x2="54.14" y2="595.85" stroke="#222" stroke-width="0.6" />
<line x1="52.84" y1="585.60" x2="55.44" y2="585.60" stroke="#222" stroke-width="0.6" />
<path d="M51.88,584.76 L55.00,584.76 L53.44,586.80Z" fill="#1d3566" stroke="#111" stroke-width="0.4"/>
<path d="M52.58,586.81 L55.70,586.81 L54.14,588.85Z" fill="#1d3566" stroke="#111" stroke-width="0.4"/>
<path d="M53.28,589.88 L56.40,589.88 L54.84,591.93Z" fill="#1d3566" stroke="#111" stroke-width="0.4"/>
<path d="M51.88,591.93 L55.00,591.93 L53.44,593.98Z" fill="#1d3566" stroke="#111" stroke-width="0.4"/>
<path d="M52.58,593.98 L55.70,593.98 L54.14,596.02Z" fill="#1d3566" stroke="#111" stroke-width="0.4"/>
<text x="54.14" y="579.46" font-size="4.8" text-anchor="middle" font-weight="normal" fill="#333" >*</text>
<path d="M57.75,597.08 L59.31,596.00 L60.87,597.08 L59.31,598.16Z" fill="#2e1040" stroke="#111" stroke-width="0.4"/>
<path d="M59.05,597.08 L60.61,596.00 L62.17,597.08 L60.61,598.16Z" fill="#2e1040" stroke="#111" stroke-width="0.4"/>
<path d="M60.35,597.08 L61.91,596.00 L63.47,597.08 L61.91,598.16Z" fill="#2e1040" stroke="#111" stroke-width="0.4"/>
<line x1="67.08" y1="578.42" x2="67.08" y2="593.80" stroke="#222" stroke-width="0.6" />
<line x1="65.78" y1="578.42" x2="68.38" y2="578.42" stroke="#222" stroke-width="0.6" />
<path d="M65.06,573.75 L67.70,573.75 L66.38,571.47Z" fill="#7a1224" stroke="#111" stroke-width="0.4"/>
<path d="M65.76,585.53 L68.40,585.53 L67.08,583.25Z" fill="#7a1224" stroke="#111" stroke-width="0.4"/>
<path d="M66.46,588.61 L69.10,588.61 L67.78,586.33Z" fill="#7a1224" stroke="#111" stroke-width="0.4"/>
<path d="M65.06,592.71 L67.70,592.71 L66.38,590.43Z" fill="#7a1224" stroke="#111" stroke-width="0.4"/>
<text x="67.08" y="562.86" font-size="4.8" text-anchor="middle" font-weight="normal" fill="#333" >****</text>
<path d="M72.25,595.95 L73.45,597.39 L72.25,598.83 L71.05,597.39Z" fill="#4f8fcc" stroke="#1f4f80" stroke-width="0.4"/>
<path d="M73.55,595.95 L74.75,597.39 L73.55,598.83 L72.35,597.39Z" fill="#4f8fcc" stroke="#1f4f80" stroke-width="0.4"/>
<path d="M74.85,595.95 L76.05,597.39 L74.85,598.83 L73.65,597.39Z" fill="#4f8fcc" stroke="#1f4f80" stroke-width="0.4"/>
<line x1="57.38" y1="597.90" x2="57.38" y2="600.50" stroke="#222222" stroke-width="0.9" />
<text transform="translate(57.38,609.60) scale(0.92,1)" font-size="6.5" text-anchor="middle" fill="#222" >Day 14</text>
<rect x="79.90" y="597.39" width="5.00" height="0.51" fill="#e2e1e7" />
<rect x="86.37" y="597.08" width="5.00" height="0.82" fill="#b6d59e" />
<rect x="92.84" y="590.73" width="5.00" height="7.17" fill="#7f8dba" />
<rect x="99.31" y="597.08" width="5.00" height="0.82" fill="#8f75a2" />
<rect x="105.78" y="587.14" width="5.00" height="10.76" fill="#df9385" />
<rect x="112.25" y="597.39" width="5.00" height="0.51" fill="#b4d2f1" />
<circle cx="81.10" cy="597.39" r="1.02" fill="#fff" stroke="#333" stroke-width="0.75"/>
<circle cx="82.40" cy="597.39" r="1.02" fill="#fff" stroke="#333" stroke-width="0.75"/>
<circle cx="83.70" cy="597.39" r="1.02" fill="#fff" stroke="#333" stroke-width="0.75"/>
<circle cx="87.57" cy="597.08" r="1.08" fill="#5aa83a" stroke="#111" stroke-width="0.4"/>
<circle cx="88.87" cy="597.08" r="1.08" fill="#5aa83a" stroke="#111" stroke-width="0.4"/>
<circle cx="90.17" cy="597.08" r="1.08" fill="#5aa83a" stroke="#111" stroke-width="0.4"/>
<line x1="95.34" y1="586.62" x2="95.34" y2="595.85" stroke="#222" stroke-width="0.6" />
<line x1="94.04" y1="586.62" x2="96.64" y2="586.62" stroke="#222" stroke-width="0.6" />
<path d="M93.08,586.81 L96.20,586.81 L94.64,588.85Z" fill="#1d3566" stroke="#111" stroke-width="0.4"/>
<path d="M93.78,587.83 L96.90,587.83 L95.34,589.88Z" fill="#1d3566" stroke="#111" stroke-width="0.4"/>
<path d="M94.48,590.91 L97.60,590.91 L96.04,592.95Z" fill="#1d3566" stroke="#111" stroke-width="0.4"/>
<path d="M93.08,592.96 L96.20,592.96 L94.64,595.00Z" fill="#1d3566" stroke="#111" stroke-width="0.4"/>
<path d="M93.78,595.01 L96.90,595.01 L95.34,597.05Z" fill="#1d3566" stroke="#111" stroke-width="0.4"/>
<text x="95.34" y="579.46" font-size="4.8" text-anchor="middle" font-weight="normal" fill="#333" >*</text>
<path d="M98.95,597.08 L100.51,596.00 L102.07,597.08 L100.51,598.16Z" fill="#2e1040" stroke="#111" stroke-width="0.4"/>
<path d="M100.25,597.08 L101.81,596.00 L103.37,597.08 L101.81,598.16Z" fill="#2e1040" stroke="#111" stroke-width="0.4"/>
<path d="M101.55,597.08 L103.11,596.00 L104.67,597.08 L103.11,598.16Z" fill="#2e1040" stroke="#111" stroke-width="0.4"/>
<line x1="108.28" y1="579.45" x2="108.28" y2="593.80" stroke="#222" stroke-width="0.6" />
<line x1="106.98" y1="579.45" x2="109.58" y2="579.45" stroke="#222" stroke-width="0.6" />
<path d="M106.26,575.28 L108.90,575.28 L107.58,573.00Z" fill="#7a1224" stroke="#111" stroke-width="0.4"/>
<path d="M106.96,587.59 L109.60,587.59 L108.28,585.30Z" fill="#7a1224" stroke="#111" stroke-width="0.4"/>
<path d="M107.66,589.63 L110.30,589.63 L108.98,587.35Z" fill="#7a1224" stroke="#111" stroke-width="0.4"/>
<path d="M106.26,592.71 L108.90,592.71 L107.58,590.43Z" fill="#7a1224" stroke="#111" stroke-width="0.4"/>
<text x="108.28" y="570.76" font-size="4.8" text-anchor="middle" font-weight="normal" fill="#333" >****</text>
<path d="M113.45,595.95 L114.65,597.39 L113.45,598.83 L112.25,597.39Z" fill="#4f8fcc" stroke="#1f4f80" stroke-width="0.4"/>
<path d="M114.75,595.95 L115.95,597.39 L114.75,598.83 L113.55,597.39Z" fill="#4f8fcc" stroke="#1f4f80" stroke-width="0.4"/>
<path d="M116.05,595.95 L117.25,597.39 L116.05,598.83 L114.85,597.39Z" fill="#4f8fcc" stroke="#1f4f80" stroke-width="0.4"/>
<line x1="98.58" y1="597.90" x2="98.58" y2="600.50" stroke="#222222" stroke-width="0.9" />
<text transform="translate(98.58,609.60) scale(0.92,1)" font-size="6.5" text-anchor="middle" fill="#222" >Day 21</text>
<text x="134.60" y="483.90" font-size="11.5" text-anchor="start" font-weight="bold" fill="#000" stroke="#000" stroke-width="0.3">G</text>
<text x="204.45" y="497.00" font-size="8.2" text-anchor="middle" font-weight="normal" fill="#111" >Anti-HOD IgG2b</text>
<text x="204.45" y="507.30" font-size="8.2" text-anchor="middle" font-weight="normal" fill="#111" >Alloantibodies</text>
<line x1="163.25" y1="513.20" x2="163.25" y2="598.40" stroke="#222222" stroke-width="1.1" />
<line x1="162.75" y1="597.90" x2="244.85" y2="597.90" stroke="#222222" stroke-width="1.1" />
<line x1="160.25" y1="597.90" x2="163.25" y2="597.90" stroke="#222222" stroke-width="0.9" />
<text transform="translate(157.85,600.00) scale(1.07,1)" font-size="6.2" text-anchor="end" fill="#222" >0</text>
<line x1="160.25" y1="577.40" x2="163.25" y2="577.40" stroke="#222222" stroke-width="0.9" />
<text transform="translate(157.85,579.50) scale(1.07,1)" font-size="6.2" text-anchor="end" fill="#222" >200</text>
<line x1="160.25" y1="556.90" x2="163.25" y2="556.90" stroke="#222222" stroke-width="0.9" />
<text transform="translate(157.85,559.00) scale(1.07,1)" font-size="6.2" text-anchor="end" fill="#222" >400</text>
<line x1="160.25" y1="536.40" x2="163.25" y2="536.40" stroke="#222222" stroke-width="0.9" />
<text transform="translate(157.85,538.50) scale(1.07,1)" font-size="6.2" text-anchor="end" fill="#222" >600</text>
<line x1="160.25" y1="515.90" x2="163.25" y2="515.90" stroke="#222222" stroke-width="0.9" />
<text transform="translate(157.85,518.00) scale(1.07,1)" font-size="6.2" text-anchor="end" fill="#222" >800</text>
<text class="yl" transform="translate(140.65,555.30) rotate(-90) scale(0.82,1)" font-size="7.0" text-anchor="middle" fill="#111">Adjusted MFI</text>
<rect x="165.15" y="597.59" width="5.00" height="0.31" fill="#e2e1e7" />
<rect x="171.62" y="597.39" width="5.00" height="0.51" fill="#b6d59e" />
<rect x="178.09" y="587.65" width="5.00" height="10.25" fill="#7f8dba" />
<rect x="184.56" y="597.39" width="5.00" height="0.51" fill="#8f75a2" />
<rect x="191.03" y="577.91" width="5.00" height="19.99" fill="#df9385" />
<rect x="197.50" y="597.59" width="5.00" height="0.31" fill="#b4d2f1" />
<circle cx="166.35" cy="597.59" r="1.02" fill="#fff" stroke="#333" stroke-width="0.75"/>
<circle cx="167.65" cy="597.59" r="1.02" fill="#fff" stroke="#333" stroke-width="0.75"/>
<circle cx="168.95" cy="597.59" r="1.02" fill="#fff" stroke="#333" stroke-width="0.75"/>
<circle cx="172.82" cy="597.39" r="1.08" fill="#5aa83a" stroke="#111" stroke-width="0.4"/>
<circle cx="174.12" cy="597.39" r="1.08" fill="#5aa83a" stroke="#111" stroke-width="0.4"/>
<circle cx="175.42" cy="597.39" r="1.08" fill="#5aa83a" stroke="#111" stroke-width="0.4"/>
<line x1="180.59" y1="584.57" x2="180.59" y2="592.77" stroke="#222" stroke-width="0.6" />
<line x1="179.29" y1="584.57" x2="181.89" y2="584.57" stroke="#222" stroke-width="0.6" />
<path d="M178.33,583.73 L181.45,583.73 L179.89,585.77Z" fill="#1d3566" stroke="#111" stroke-width="0.4"/>
<path d="M179.03,585.78 L182.15,585.78 L180.59,587.83Z" fill="#1d3566" stroke="#111" stroke-width="0.4"/>
<path d="M179.73,587.83 L182.85,587.83 L181.29,589.88Z" fill="#1d3566" stroke="#111" stroke-width="0.4"/>
<path d="M178.33,589.88 L181.45,589.88 L179.89,591.93Z" fill="#1d3566" stroke="#111" stroke-width="0.4"/>
<text x="180.59" y="577.56" font-size="4.8" text-anchor="middle" font-weight="normal" fill="#333" >**</text>
<path d="M184.20,597.39 L185.76,596.31 L187.32,597.39 L185.76,598.47Z" fill="#2e1040" stroke="#111" stroke-width="0.4"/>
<path d="M185.50,597.39 L187.06,596.31 L188.62,597.39 L187.06,598.47Z" fill="#2e1040" stroke="#111" stroke-width="0.4"/>
<path d="M186.80,597.39 L188.36,596.31 L189.92,597.39 L188.36,598.47Z" fill="#2e1040" stroke="#111" stroke-width="0.4"/>
<line x1="193.53" y1="568.17" x2="193.53" y2="585.60" stroke="#222" stroke-width="0.6" />
<line x1="192.23" y1="568.17" x2="194.83" y2="568.17" stroke="#222" stroke-width="0.6" />
<path d="M191.51,562.99 L194.15,562.99 L192.83,560.70Z" fill="#7a1224" stroke="#111" stroke-width="0.4"/>
<path d="M192.21,575.28 L194.85,575.28 L193.53,573.00Z" fill="#7a1224" stroke="#111" stroke-width="0.4"/>
<path d="M192.91,580.41 L195.55,580.41 L194.23,578.13Z" fill="#7a1224" stroke="#111" stroke-width="0.4"/>
<path d="M191.51,584.51 L194.15,584.51 L192.83,582.23Z" fill="#7a1224" stroke="#111" stroke-width="0.4"/>
<text x="193.53" y="554.26" font-size="4.8" text-anchor="middle" font-weight="normal" fill="#333" >****</text>
<path d="M198.70,596.15 L199.90,597.59 L198.70,599.03 L197.50,597.59Z" fill="#4f8fcc" stroke="#1f4f80" stroke-width="0.4"/>
<path d="M200.00,596.15 L201.20,597.59 L200.00,599.03 L198.80,597.59Z" fill="#4f8fcc" stroke="#1f4f80" stroke-width="0.4"/>
<path d="M201.30,596.15 L202.50,597.59 L201.30,599.03 L200.10,597.59Z" fill="#4f8fcc" stroke="#1f4f80" stroke-width="0.4"/>
<line x1="183.83" y1="597.90" x2="183.83" y2="600.50" stroke="#222222" stroke-width="0.9" />
<text transform="translate(183.83,609.60) scale(0.92,1)" font-size="6.5" text-anchor="middle" fill="#222" >Day 14</text>
<rect x="206.35" y="597.59" width="5.00" height="0.31" fill="#e2e1e7" />
<rect x="212.82" y="597.39" width="5.00" height="0.51" fill="#b6d59e" />
<rect x="219.29" y="586.62" width="5.00" height="11.27" fill="#7f8dba" />
<rect x="225.76" y="597.39" width="5.00" height="0.51" fill="#8f75a2" />
<rect x="232.23" y="576.38" width="5.00" height="21.52" fill="#df9385" />
<rect x="238.70" y="597.59" width="5.00" height="0.31" fill="#b4d2f1" />
<circle cx="207.55" cy="597.59" r="1.02" fill="#fff" stroke="#333" stroke-width="0.75"/>
<circle cx="208.85" cy="597.59" r="1.02" fill="#fff" stroke="#333" stroke-width="0.75"/>
<circle cx="210.15" cy="597.59" r="1.02" fill="#fff" stroke="#333" stroke-width="0.75"/>
<circle cx="214.02" cy="597.39" r="1.08" fill="#5aa83a" stroke="#111" stroke-width="0.4"/>
<circle cx="215.32" cy="597.39" r="1.08" fill="#5aa83a" stroke="#111" stroke-width="0.4"/>
<circle cx="216.62" cy="597.39" r="1.08" fill="#5aa83a" stroke="#111" stroke-width="0.4"/>
<line x1="221.79" y1="578.94" x2="221.79" y2="593.80" stroke="#222" stroke-width="0.6" />
<line x1="220.49" y1="578.94" x2="223.09" y2="578.94" stroke="#222" stroke-width="0.6" />
<path d="M219.53,578.61 L222.65,578.61 L221.09,580.65Z" fill="#1d3566" stroke="#111" stroke-width="0.4"/>
<path d="M220.23,582.71 L223.35,582.71 L221.79,584.75Z" fill="#1d3566" stroke="#111" stroke-width="0.4"/>
<path d="M220.93,585.78 L224.05,585.78 L222.49,587.83Z" fill="#1d3566" stroke="#111" stroke-width="0.4"/>
<path d="M219.53,589.88 L222.65,589.88 L221.09,591.93Z" fill="#1d3566" stroke="#111" stroke-width="0.4"/>
<text x="221.79" y="575.56" font-size="4.8" text-anchor="middle" font-weight="normal" fill="#333" >***</text>
<path d="M226.00,595.85 L227.56,594.77 L229.12,595.85 L227.56,596.93Z" fill="#2e1040" stroke="#111" stroke-width="0.4"/>
<path d="M226.70,596.88 L228.26,595.79 L229.82,596.88 L228.26,597.96Z" fill="#2e1040" stroke="#111" stroke-width="0.4"/>
<line x1="234.73" y1="568.17" x2="234.73" y2="583.55" stroke="#222" stroke-width="0.6" />
<line x1="233.43" y1="568.17" x2="236.03" y2="568.17" stroke="#222" stroke-width="0.6" />
<path d="M232.71,562.99 L235.35,562.99 L234.03,560.70Z" fill="#7a1224" stroke="#111" stroke-width="0.4"/>
<path d="M233.41,574.26 L236.05,574.26 L234.73,571.98Z" fill="#7a1224" stroke="#111" stroke-width="0.4"/>
<path d="M234.11,578.36 L236.75,578.36 L235.43,576.08Z" fill="#7a1224" stroke="#111" stroke-width="0.4"/>
<path d="M232.71,583.49 L235.35,583.49 L234.03,581.20Z" fill="#7a1224" stroke="#111" stroke-width="0.4"/>
<text x="234.73" y="554.26" font-size="4.8" text-anchor="middle" font-weight="normal" fill="#333" >****</text>
<path d="M239.90,596.15 L241.10,597.59 L239.90,599.03 L238.70,597.59Z" fill="#4f8fcc" stroke="#1f4f80" stroke-width="0.4"/>
<path d="M241.20,596.15 L242.40,597.59 L241.20,599.03 L240.00,597.59Z" fill="#4f8fcc" stroke="#1f4f80" stroke-width="0.4"/>
<path d="M242.50,596.15 L243.70,597.59 L242.50,599.03 L241.30,597.59Z" fill="#4f8fcc" stroke="#1f4f80" stroke-width="0.4"/>
<line x1="225.03" y1="597.90" x2="225.03" y2="600.50" stroke="#222222" stroke-width="0.9" />
<text transform="translate(225.03,609.60) scale(0.92,1)" font-size="6.5" text-anchor="middle" fill="#222" >Day 21</text>
<text x="260.80" y="483.90" font-size="11.5" text-anchor="start" font-weight="bold" fill="#000" stroke="#000" stroke-width="0.3">H</text>
<text x="331.95" y="497.00" font-size="8.2" text-anchor="middle" font-weight="normal" fill="#111" >Anti-HOD IgG2c</text>
<text x="331.95" y="507.30" font-size="8.2" text-anchor="middle" font-weight="normal" fill="#111" >Alloantibodies</text>
<line x1="290.75" y1="513.20" x2="290.75" y2="598.40" stroke="#222222" stroke-width="1.1" />
<line x1="290.25" y1="597.90" x2="372.35" y2="597.90" stroke="#222222" stroke-width="1.1" />
<line x1="287.75" y1="597.90" x2="290.75" y2="597.90" stroke="#222222" stroke-width="0.9" />
<text transform="translate(285.35,600.00) scale(1.07,1)" font-size="6.2" text-anchor="end" fill="#222" >0</text>
<line x1="287.75" y1="577.40" x2="290.75" y2="577.40" stroke="#222222" stroke-width="0.9" />
<text transform="translate(285.35,579.50) scale(1.07,1)" font-size="6.2" text-anchor="end" fill="#222" >200</text>
<line x1="287.75" y1="556.90" x2="290.75" y2="556.90" stroke="#222222" stroke-width="0.9" />
<text transform="translate(285.35,559.00) scale(1.07,1)" font-size="6.2" text-anchor="end" fill="#222" >400</text>
<line x1="287.75" y1="536.40" x2="290.75" y2="536.40" stroke="#222222" stroke-width="0.9" />
<text transform="translate(285.35,538.50) scale(1.07,1)" font-size="6.2" text-anchor="end" fill="#222" >600</text>
<line x1="287.75" y1="515.90" x2="290.75" y2="515.90" stroke="#222222" stroke-width="0.9" />
<text transform="translate(285.35,518.00) scale(1.07,1)" font-size="6.2" text-anchor="end" fill="#222" >800</text>
<text class="yl" transform="translate(268.15,555.30) rotate(-90) scale(0.82,1)" font-size="7.0" text-anchor="middle" fill="#111">Adjusted MFI</text>
<rect x="292.65" y="597.59" width="5.00" height="0.31" fill="#e2e1e7" />
<rect x="299.12" y="597.39" width="5.00" height="0.51" fill="#b6d59e" />
<rect x="305.59" y="589.19" width="5.00" height="8.71" fill="#7f8dba" />
<rect x="312.06" y="597.39" width="5.00" height="0.51" fill="#8f75a2" />
<rect x="318.53" y="575.35" width="5.00" height="22.55" fill="#df9385" />
<rect x="325.00" y="597.59" width="5.00" height="0.31" fill="#b4d2f1" />
<circle cx="293.85" cy="597.59" r="1.02" fill="#fff" stroke="#333" stroke-width="0.75"/>
<circle cx="295.15" cy="597.59" r="1.02" fill="#fff" stroke="#333" stroke-width="0.75"/>
<circle cx="296.45" cy="597.59" r="1.02" fill="#fff" stroke="#333" stroke-width="0.75"/>
<circle cx="300.32" cy="597.39" r="1.08" fill="#5aa83a" stroke="#111" stroke-width="0.4"/>
<circle cx="301.62" cy="597.39" r="1.08" fill="#5aa83a" stroke="#111" stroke-width="0.4"/>
<circle cx="302.92" cy="597.39" r="1.08" fill="#5aa83a" stroke="#111" stroke-width="0.4"/>
<line x1="308.09" y1="584.57" x2="308.09" y2="594.82" stroke="#222" stroke-width="0.6" />
<line x1="306.79" y1="584.57" x2="309.39" y2="584.57" stroke="#222" stroke-width="0.6" />
<path d="M305.83,583.73 L308.95,583.73 L307.39,585.77Z" fill="#1d3566" stroke="#111" stroke-width="0.4"/>
<path d="M306.53,586.81 L309.65,586.81 L308.09,588.85Z" fill="#1d3566" stroke="#111" stroke-width="0.4"/>
<path d="M307.23,590.91 L310.35,590.91 L308.79,592.95Z" fill="#1d3566" stroke="#111" stroke-width="0.4"/>
<path d="M305.83,592.96 L308.95,592.96 L307.39,595.00Z" fill="#1d3566" stroke="#111" stroke-width="0.4"/>
<text x="308.09" y="579.46" font-size="4.8" text-anchor="middle" font-weight="normal" fill="#333" >*</text>
<path d="M311.70,597.39 L313.26,596.31 L314.82,597.39 L313.26,598.47Z" fill="#2e1040" stroke="#111" stroke-width="0.4"/>
<path d="M313.00,597.39 L314.56,596.31 L316.12,597.39 L314.56,598.47Z" fill="#2e1040" stroke="#111" stroke-width="0.4"/>
<path d="M314.30,597.39 L315.86,596.31 L317.42,597.39 L315.86,598.47Z" fill="#2e1040" stroke="#111" stroke-width="0.4"/>
<line x1="321.03" y1="559.98" x2="321.03" y2="587.65" stroke="#222" stroke-width="0.6" />
<line x1="319.73" y1="559.98" x2="322.33" y2="559.98" stroke="#222" stroke-width="0.6" />
<path d="M319.01,551.71 L321.65,551.71 L320.33,549.43Z" fill="#7a1224" stroke="#111" stroke-width="0.4"/>
<path d="M319.71,573.24 L322.35,573.24 L321.03,570.95Z" fill="#7a1224" stroke="#111" stroke-width="0.4"/>
<path d="M320.41,578.36 L323.05,578.36 L321.73,576.08Z" fill="#7a1224" stroke="#111" stroke-width="0.4"/>
<path d="M319.01,584.51 L321.65,584.51 L320.33,582.23Z" fill="#7a1224" stroke="#111" stroke-width="0.4"/>
<text x="321.03" y="546.96" font-size="4.8" text-anchor="middle" font-weight="normal" fill="#333" >****</text>
<path d="M326.20,596.15 L327.40,597.59 L326.20,599.03 L325.00,597.59Z" fill="#4f8fcc" stroke="#1f4f80" stroke-width="0.4"/>
<path d="M327.50,596.15 L328.70,597.59 L327.50,599.03 L326.30,597.59Z" fill="#4f8fcc" stroke="#1f4f80" stroke-width="0.4"/>
<path d="M328.80,596.15 L330.00,597.59 L328.80,599.03 L327.60,597.59Z" fill="#4f8fcc" stroke="#1f4f80" stroke-width="0.4"/>
<line x1="311.32" y1="597.90" x2="311.32" y2="600.50" stroke="#222222" stroke-width="0.9" />
<text transform="translate(311.32,609.60) scale(0.92,1)" font-size="6.5" text-anchor="middle" fill="#222" >Day 14</text>
<rect x="333.85" y="597.59" width="5.00" height="0.31" fill="#e2e1e7" />
<rect x="340.32" y="597.39" width="5.00" height="0.51" fill="#b6d59e" />
<rect x="346.79" y="592.77" width="5.00" height="5.12" fill="#7f8dba" />
<rect x="353.26" y="597.39" width="5.00" height="0.51" fill="#8f75a2" />
<rect x="359.73" y="587.65" width="5.00" height="10.25" fill="#df9385" />
<rect x="366.20" y="597.59" width="5.00" height="0.31" fill="#b4d2f1" />
<circle cx="335.05" cy="597.59" r="1.02" fill="#fff" stroke="#333" stroke-width="0.75"/>
<circle cx="336.35" cy="597.59" r="1.02" fill="#fff" stroke="#333" stroke-width="0.75"/>
<circle cx="337.65" cy="597.59" r="1.02" fill="#fff" stroke="#333" stroke-width="0.75"/>
<circle cx="341.52" cy="597.39" r="1.08" fill="#5aa83a" stroke="#111" stroke-width="0.4"/>
<circle cx="342.82" cy="597.39" r="1.08" fill="#5aa83a" stroke="#111" stroke-width="0.4"/>
<circle cx="344.12" cy="597.39" r="1.08" fill="#5aa83a" stroke="#111" stroke-width="0.4"/>
<line x1="349.29" y1="588.67" x2="349.29" y2="596.88" stroke="#222" stroke-width="0.6" />
<line x1="347.99" y1="588.67" x2="350.59" y2="588.67" stroke="#222" stroke-width="0.6" />
<path d="M347.03,587.83 L350.15,587.83 L348.59,589.88Z" fill="#1d3566" stroke="#111" stroke-width="0.4"/>
<path d="M347.73,589.88 L350.85,589.88 L349.29,591.93Z" fill="#1d3566" stroke="#111" stroke-width="0.4"/>
<path d="M348.43,592.96 L351.55,592.96 L349.99,595.00Z" fill="#1d3566" stroke="#111" stroke-width="0.4"/>
<path d="M347.03,595.01 L350.15,595.01 L348.59,597.05Z" fill="#1d3566" stroke="#111" stroke-width="0.4"/>
<path d="M352.90,597.39 L354.46,596.31 L356.02,597.39 L354.46,598.47Z" fill="#2e1040" stroke="#111" stroke-width="0.4"/>
<path d="M354.20,597.39 L355.76,596.31 L357.32,597.39 L355.76,598.47Z" fill="#2e1040" stroke="#111" stroke-width="0.4"/>
<path d="M355.50,597.39 L357.06,596.31 L358.62,597.39 L357.06,598.47Z" fill="#2e1040" stroke="#111" stroke-width="0.4"/>
<line x1="362.23" y1="579.45" x2="362.23" y2="592.77" stroke="#222" stroke-width="0.6" />
<line x1="360.93" y1="579.45" x2="363.53" y2="579.45" stroke="#222" stroke-width="0.6" />
<path d="M360.21,575.28 L362.85,575.28 L361.53,573.00Z" fill="#7a1224" stroke="#111" stroke-width="0.4"/>
<path d="M360.91,585.53 L363.55,585.53 L362.23,583.25Z" fill="#7a1224" stroke="#111" stroke-width="0.4"/>
<path d="M361.61,588.61 L364.25,588.61 L362.93,586.33Z" fill="#7a1224" stroke="#111" stroke-width="0.4"/>
<path d="M360.21,591.69 L362.85,591.69 L361.53,589.40Z" fill="#7a1224" stroke="#111" stroke-width="0.4"/>
<text x="362.23" y="570.76" font-size="4.8" text-anchor="middle" font-weight="normal" fill="#333" >***</text>
<path d="M367.40,596.15 L368.60,597.59 L367.40,599.03 L366.20,597.59Z" fill="#4f8fcc" stroke="#1f4f80" stroke-width="0.4"/>
<path d="M368.70,596.15 L369.90,597.59 L368.70,599.03 L367.50,597.59Z" fill="#4f8fcc" stroke="#1f4f80" stroke-width="0.4"/>
<path d="M370.00,596.15 L371.20,597.59 L370.00,599.03 L368.80,597.59Z" fill="#4f8fcc" stroke="#1f4f80" stroke-width="0.4"/>
<line x1="352.52" y1="597.90" x2="352.52" y2="600.50" stroke="#222222" stroke-width="0.9" />
<text transform="translate(352.52,609.60) scale(0.92,1)" font-size="6.5" text-anchor="middle" fill="#222" >Day 21</text>
<text x="389.80" y="483.90" font-size="11.5" text-anchor="start" font-weight="bold" fill="#000" stroke="#000" stroke-width="0.3">I</text>
<text x="458.10" y="497.00" font-size="8.2" text-anchor="middle" font-weight="normal" fill="#111" >Anti-HOD IgG3</text>
<text x="458.10" y="507.30" font-size="8.2" text-anchor="middle" font-weight="normal" fill="#111" >Alloantibodies</text>
<line x1="416.90" y1="513.20" x2="416.90" y2="598.40" stroke="#222222" stroke-width="1.1" />
<line x1="416.40" y1="597.90" x2="498.50" y2="597.90" stroke="#222222" stroke-width="1.1" />
<line x1="413.90" y1="597.90" x2="416.90" y2="597.90" stroke="#222222" stroke-width="0.9" />
<text transform="translate(411.50,600.00) scale(1.07,1)" font-size="6.2" text-anchor="end" fill="#222" >0</text>
<line x1="413.90" y1="577.40" x2="416.90" y2="577.40" stroke="#222222" stroke-width="0.9" />
<text transform="translate(411.50,579.50) scale(1.07,1)" font-size="6.2" text-anchor="end" fill="#222" >200</text>
<line x1="413.90" y1="556.90" x2="416.90" y2="556.90" stroke="#222222" stroke-width="0.9" />
<text transform="translate(411.50,559.00) scale(1.07,1)" font-size="6.2" text-anchor="end" fill="#222" >400</text>
<line x1="413.90" y1="536.40" x2="416.90" y2="536.40" stroke="#222222" stroke-width="0.9" />
<text transform="translate(411.50,538.50) scale(1.07,1)" font-size="6.2" text-anchor="end" fill="#222" >600</text>
<line x1="413.90" y1="515.90" x2="416.90" y2="515.90" stroke="#222222" stroke-width="0.9" />
<text transform="translate(411.50,518.00) scale(1.07,1)" font-size="6.2" text-anchor="end" fill="#222" >800</text>
<text class="yl" transform="translate(394.30,555.30) rotate(-90) scale(0.82,1)" font-size="7.0" text-anchor="middle" fill="#111">Adjusted MFI</text>
<rect x="418.80" y="597.59" width="5.00" height="0.31" fill="#e2e1e7" />
<rect x="425.27" y="597.39" width="5.00" height="0.51" fill="#b6d59e" />
<rect x="431.74" y="594.31" width="5.00" height="3.59" fill="#7f8dba" />
<rect x="438.21" y="597.39" width="5.00" height="0.51" fill="#8f75a2" />
<rect x="444.68" y="590.73" width="5.00" height="7.17" fill="#df9385" />
<rect x="451.15" y="597.59" width="5.00" height="0.31" fill="#b4d2f1" />
<circle cx="420.00" cy="597.59" r="1.02" fill="#fff" stroke="#333" stroke-width="0.75"/>
<circle cx="421.30" cy="597.59" r="1.02" fill="#fff" stroke="#333" stroke-width="0.75"/>
<circle cx="422.60" cy="597.59" r="1.02" fill="#fff" stroke="#333" stroke-width="0.75"/>
<circle cx="426.47" cy="597.39" r="1.08" fill="#5aa83a" stroke="#111" stroke-width="0.4"/>
<circle cx="427.77" cy="597.39" r="1.08" fill="#5aa83a" stroke="#111" stroke-width="0.4"/>
<circle cx="429.07" cy="597.39" r="1.08" fill="#5aa83a" stroke="#111" stroke-width="0.4"/>
<line x1="434.24" y1="591.75" x2="434.24" y2="596.88" stroke="#222" stroke-width="0.6" />
<line x1="432.94" y1="591.75" x2="435.54" y2="591.75" stroke="#222" stroke-width="0.6" />
<path d="M431.98,589.88 L435.10,589.88 L433.54,591.93Z" fill="#1d3566" stroke="#111" stroke-width="0.4"/>
<path d="M432.68,591.93 L435.80,591.93 L434.24,593.98Z" fill="#1d3566" stroke="#111" stroke-width="0.4"/>
<path d="M433.38,593.98 L436.50,593.98 L434.94,596.02Z" fill="#1d3566" stroke="#111" stroke-width="0.4"/>
<path d="M431.98,595.01 L435.10,595.01 L433.54,597.05Z" fill="#1d3566" stroke="#111" stroke-width="0.4"/>
<text x="434.24" y="582.86" font-size="4.8" text-anchor="middle" font-weight="normal" fill="#333" >**</text>
<path d="M437.85,597.39 L439.41,596.31 L440.97,597.39 L439.41,598.47Z" fill="#2e1040" stroke="#111" stroke-width="0.4"/>
<path d="M439.15,597.39 L440.71,596.31 L442.27,597.39 L440.71,598.47Z" fill="#2e1040" stroke="#111" stroke-width="0.4"/>
<path d="M440.45,597.39 L442.01,596.31 L443.57,597.39 L442.01,598.47Z" fill="#2e1040" stroke="#111" stroke-width="0.4"/>
<line x1="447.18" y1="584.57" x2="447.18" y2="594.82" stroke="#222" stroke-width="0.6" />
<line x1="445.88" y1="584.57" x2="448.48" y2="584.57" stroke="#222" stroke-width="0.6" />
<path d="M445.16,584.51 L447.80,584.51 L446.48,582.23Z" fill="#7a1224" stroke="#111" stroke-width="0.4"/>
<path d="M445.86,589.63 L448.50,589.63 L447.18,587.35Z" fill="#7a1224" stroke="#111" stroke-width="0.4"/>
<path d="M446.56,591.69 L449.20,591.69 L447.88,589.40Z" fill="#7a1224" stroke="#111" stroke-width="0.4"/>
<path d="M445.16,593.74 L447.80,593.74 L446.48,591.45Z" fill="#7a1224" stroke="#111" stroke-width="0.4"/>
<text x="447.18" y="575.56" font-size="4.8" text-anchor="middle" font-weight="normal" fill="#333" >****</text>
<path d="M452.35,596.15 L453.55,597.59 L452.35,599.03 L451.15,597.59Z" fill="#4f8fcc" stroke="#1f4f80" stroke-width="0.4"/>
<path d="M453.65,596.15 L454.85,597.59 L453.65,599.03 L452.45,597.59Z" fill="#4f8fcc" stroke="#1f4f80" stroke-width="0.4"/>
<path d="M454.95,596.15 L456.15,597.59 L454.95,599.03 L453.75,597.59Z" fill="#4f8fcc" stroke="#1f4f80" stroke-width="0.4"/>
<line x1="437.47" y1="597.90" x2="437.47" y2="600.50" stroke="#222222" stroke-width="0.9" />
<text transform="translate(437.47,609.60) scale(0.92,1)" font-size="6.5" text-anchor="middle" fill="#222" >Day 14</text>
<rect x="460.00" y="597.59" width="5.00" height="0.31" fill="#e2e1e7" />
<rect x="466.47" y="596.88" width="5.00" height="1.02" fill="#b6d59e" />
<rect x="472.94" y="592.26" width="5.00" height="5.64" fill="#7f8dba" />
<rect x="479.41" y="597.39" width="5.00" height="0.51" fill="#8f75a2" />
<rect x="485.88" y="587.14" width="5.00" height="10.76" fill="#df9385" />
<rect x="492.35" y="596.36" width="5.00" height="1.54" fill="#b4d2f1" />
<circle cx="461.20" cy="597.59" r="1.02" fill="#fff" stroke="#333" stroke-width="0.75"/>
<circle cx="462.50" cy="597.59" r="1.02" fill="#fff" stroke="#333" stroke-width="0.75"/>
<circle cx="463.80" cy="597.59" r="1.02" fill="#fff" stroke="#333" stroke-width="0.75"/>
<circle cx="467.67" cy="596.88" r="1.08" fill="#5aa83a" stroke="#111" stroke-width="0.4"/>
<circle cx="468.97" cy="596.88" r="1.08" fill="#5aa83a" stroke="#111" stroke-width="0.4"/>
<circle cx="470.27" cy="596.88" r="1.08" fill="#5aa83a" stroke="#111" stroke-width="0.4"/>
<line x1="475.44" y1="585.60" x2="475.44" y2="595.85" stroke="#222" stroke-width="0.6" />
<line x1="474.14" y1="585.60" x2="476.74" y2="585.60" stroke="#222" stroke-width="0.6" />
<path d="M473.18,584.76 L476.30,584.76 L474.74,586.80Z" fill="#1d3566" stroke="#111" stroke-width="0.4"/>
<path d="M473.88,589.88 L477.00,589.88 L475.44,591.93Z" fill="#1d3566" stroke="#111" stroke-width="0.4"/>
<path d="M474.58,591.93 L477.70,591.93 L476.14,593.98Z" fill="#1d3566" stroke="#111" stroke-width="0.4"/>
<path d="M473.18,593.98 L476.30,593.98 L474.74,596.02Z" fill="#1d3566" stroke="#111" stroke-width="0.4"/>
<text x="475.44" y="579.36" font-size="4.8" text-anchor="middle" font-weight="normal" fill="#333" >***</text>
<path d="M479.05,596.88 L480.61,595.79 L482.17,596.88 L480.61,597.96Z" fill="#2e1040" stroke="#111" stroke-width="0.4"/>
<path d="M480.35,596.88 L481.91,595.79 L483.47,596.88 L481.91,597.96Z" fill="#2e1040" stroke="#111" stroke-width="0.4"/>
<path d="M481.65,596.88 L483.21,595.79 L484.77,596.88 L483.21,597.96Z" fill="#2e1040" stroke="#111" stroke-width="0.4"/>
<line x1="488.38" y1="580.48" x2="488.38" y2="591.75" stroke="#222" stroke-width="0.6" />
<line x1="487.08" y1="580.48" x2="489.68" y2="580.48" stroke="#222" stroke-width="0.6" />
<path d="M486.36,580.41 L489.00,580.41 L487.68,578.13Z" fill="#7a1224" stroke="#111" stroke-width="0.4"/>
<path d="M487.06,586.56 L489.70,586.56 L488.38,584.28Z" fill="#7a1224" stroke="#111" stroke-width="0.4"/>
<path d="M487.76,588.61 L490.40,588.61 L489.08,586.33Z" fill="#7a1224" stroke="#111" stroke-width="0.4"/>
<path d="M486.36,590.66 L489.00,590.66 L487.68,588.38Z" fill="#7a1224" stroke="#111" stroke-width="0.4"/>
<text x="488.38" y="570.76" font-size="4.8" text-anchor="middle" font-weight="normal" fill="#333" >****</text>
<path d="M493.55,594.92 L494.75,596.36 L493.55,597.80 L492.35,596.36Z" fill="#4f8fcc" stroke="#1f4f80" stroke-width="0.4"/>
<path d="M494.85,594.92 L496.05,596.36 L494.85,597.80 L493.65,596.36Z" fill="#4f8fcc" stroke="#1f4f80" stroke-width="0.4"/>
<path d="M496.15,594.92 L497.35,596.36 L496.15,597.80 L494.95,596.36Z" fill="#4f8fcc" stroke="#1f4f80" stroke-width="0.4"/>
<line x1="478.67" y1="597.90" x2="478.67" y2="600.50" stroke="#222222" stroke-width="0.9" />
<text transform="translate(478.67,609.60) scale(0.92,1)" font-size="6.5" text-anchor="middle" fill="#222" >Day 21</text>
<text x="339.60" y="16.80" font-size="11.5" text-anchor="start" font-weight="bold" fill="#000" stroke="#000" stroke-width="0.3">J</text>
<path d="M370.00,69.80 L377.44,69.78 L377.93,69.73 L378.43,69.61 L378.92,69.28 L379.42,68.46 L379.91,66.60 L380.41,62.72 L380.91,55.54 L381.40,44.55 L381.90,36.86 L382.39,43.86 L382.89,51.20 L383.38,57.24 L383.88,61.70 L384.38,64.77 L384.87,66.78 L385.37,68.04 L385.86,68.80 L386.36,69.25 L386.85,69.50 L387.35,69.64 L387.85,69.72 L388.34,69.76 L404.70,69.80 L404.70,69.80 L370.00,69.80Z" fill="#dcdcde" stroke="#9a9a9a" stroke-width="0.55"/>
<path d="M370.00,69.79 L372.97,69.75 L373.47,69.73 L373.97,69.70 L374.46,69.66 L374.96,69.60 L375.45,69.52 L375.95,69.41 L376.44,69.26 L376.94,69.06 L377.44,68.79 L377.93,68.43 L378.43,67.95 L378.92,67.33 L379.42,66.53 L379.91,65.50 L380.41,64.21 L380.91,62.59 L381.40,60.60 L381.90,58.20 L382.39,55.36 L382.89,52.08 L383.38,48.40 L383.88,44.45 L384.38,40.51 L384.87,37.24 L385.37,39.29 L385.86,44.11 L386.36,49.03 L386.85,53.50 L387.35,57.31 L387.85,60.42 L388.34,62.88 L388.84,64.78 L389.33,66.21 L389.83,67.27 L390.32,68.04 L390.82,68.59 L391.32,68.98 L391.81,69.25 L392.31,69.43 L392.80,69.56 L393.30,69.64 L393.79,69.70 L394.29,69.73 L394.79,69.76 L404.70,69.80" fill="none" stroke="#5a7ab8" stroke-width="0.6"/>
<path d="M370.00,69.80 L373.97,69.76 L374.46,69.74 L374.96,69.71 L375.45,69.67 L375.95,69.62 L376.44,69.54 L376.94,69.42 L377.44,69.26 L377.93,69.05 L378.43,68.75 L378.92,68.35 L379.42,67.81 L379.91,67.09 L380.41,66.15 L380.91,64.93 L381.40,63.38 L381.90,61.44 L382.39,59.04 L382.89,56.16 L383.38,52.77 L383.88,48.93 L384.38,44.79 L384.87,40.68 L385.37,37.53 L385.86,40.77 L386.36,45.58 L386.85,50.34 L387.35,54.60 L387.85,58.20 L388.34,61.12 L388.84,63.42 L389.33,65.19 L389.83,66.51 L390.32,67.49 L390.82,68.19 L391.32,68.70 L391.81,69.05 L392.31,69.30 L392.80,69.47 L393.30,69.58 L393.79,69.66 L394.29,69.71 L394.79,69.74 L395.28,69.76 L404.70,69.80" fill="none" stroke="#c83a60" stroke-width="0.6"/>
<path d="M370.00,69.80 L377.44,69.78 L377.93,69.73 L378.43,69.61 L378.92,69.28 L379.42,68.46 L379.91,66.60 L380.41,62.72 L380.91,55.54 L381.40,44.55 L381.90,36.80 L382.39,43.32 L382.89,50.31 L383.38,56.22 L383.88,60.73 L384.38,63.96 L384.87,66.15 L385.37,67.58 L385.86,68.48 L386.36,69.04 L386.85,69.37 L387.35,69.56 L387.85,69.67 L388.34,69.73 L388.84,69.76 L404.70,69.80" fill="none" stroke="#2a2a2a" stroke-width="0.6"/>
<rect x="369.50" y="35.10" width="35.70" height="35.20" fill="none" stroke="#262626" stroke-width="1.0"/>
<path d="M405.70,69.80 L409.09,69.76 L409.57,69.72 L410.06,69.67 L410.54,69.59 L411.03,69.45 L411.51,69.24 L412.00,68.91 L412.48,68.41 L412.96,67.65 L413.45,66.55 L413.93,64.96 L414.42,62.73 L414.90,59.72 L415.39,55.78 L415.87,50.87 L416.35,45.15 L416.84,39.29 L417.32,38.68 L417.81,52.88 L418.29,62.44 L418.78,67.03 L419.26,68.87 L419.74,69.51 L420.23,69.72 L420.71,69.78 L439.60,69.80 L439.60,69.80 L405.70,69.80Z" fill="#dcdcde" stroke="#9a9a9a" stroke-width="0.55"/>
<path d="M405.70,69.80 L409.09,69.76 L409.57,69.72 L410.06,69.67 L410.54,69.59 L411.03,69.45 L411.51,69.24 L412.00,68.91 L412.48,68.41 L412.96,67.65 L413.45,66.55 L413.93,64.96 L414.42,62.73 L414.90,59.72 L415.39,55.78 L415.87,50.87 L416.35,45.15 L416.84,39.29 L417.32,38.68 L417.81,52.88 L418.29,62.44 L418.78,67.03 L419.26,68.87 L419.74,69.51 L420.23,69.72 L420.71,69.78 L439.60,69.80" fill="none" stroke="#5a5a5a" stroke-width="0.5"/>
<rect x="405.20" y="35.10" width="34.90" height="35.20" fill="none" stroke="#262626" stroke-width="1.0"/>
<path d="M442.60,69.80 L450.46,69.78 L450.95,69.73 L451.45,69.60 L451.94,69.26 L452.43,68.44 L452.92,66.57 L453.41,62.70 L453.90,55.59 L454.39,44.73 L454.89,36.74 L455.38,43.62 L455.87,50.93 L456.36,56.98 L456.85,61.48 L457.34,64.60 L457.83,66.66 L458.33,67.96 L458.82,68.75 L459.31,69.21 L459.80,69.48 L460.29,69.63 L460.78,69.71 L461.27,69.75 L477.00,69.80 L477.00,69.80 L442.60,69.80Z" fill="#dcdcde" stroke="#9a9a9a" stroke-width="0.55"/>
<path d="M442.60,69.80 L446.53,69.76 L447.02,69.74 L447.51,69.70 L448.01,69.65 L448.50,69.56 L448.99,69.43 L449.48,69.24 L449.97,68.96 L450.46,68.55 L450.95,67.96 L451.45,67.13 L451.94,65.97 L452.43,64.40 L452.92,62.31 L453.41,59.58 L453.90,56.14 L454.39,51.96 L454.89,47.12 L455.38,41.98 L455.87,37.46 L456.36,38.39 L456.85,41.67 L457.34,45.26 L457.83,48.80 L458.33,52.10 L458.82,55.07 L459.31,57.69 L459.80,59.95 L460.29,61.86 L460.78,63.46 L461.27,64.78 L461.77,65.85 L462.26,66.72 L462.75,67.41 L463.24,67.96 L463.73,68.39 L464.22,68.73 L464.71,68.99 L465.21,69.19 L465.70,69.35 L466.19,69.46 L466.68,69.55 L467.17,69.62 L467.66,69.66 L468.15,69.70 L468.65,69.73 L469.14,69.75 L469.63,69.76 L477.00,69.80" fill="none" stroke="#5a7ab8" stroke-width="0.6"/>
<path d="M442.60,69.80 L446.04,69.77 L446.53,69.75 L447.02,69.72 L447.51,69.68 L448.01,69.62 L448.50,69.54 L448.99,69.41 L449.48,69.23 L449.97,68.96 L450.46,68.59 L450.95,68.08 L451.45,67.36 L451.94,66.40 L452.43,65.11 L452.92,63.42 L453.41,61.25 L453.90,58.51 L454.39,55.16 L454.89,51.21 L455.38,46.76 L455.87,42.12 L456.36,38.10 L456.85,38.82 L457.34,41.70 L457.83,44.90 L458.33,48.11 L458.82,51.17 L459.31,53.98 L459.80,56.50 L460.29,58.73 L460.78,60.66 L461.27,62.32 L461.77,63.72 L462.26,64.89 L462.75,65.86 L463.24,66.66 L463.73,67.31 L464.22,67.84 L464.71,68.26 L465.21,68.60 L465.70,68.87 L466.19,69.08 L466.68,69.25 L467.17,69.38 L467.66,69.48 L468.15,69.56 L468.65,69.61 L469.14,69.66 L469.63,69.70 L470.12,69.72 L470.61,69.74 L471.10,69.76 L477.00,69.80" fill="none" stroke="#c83a60" stroke-width="0.6"/>
<path d="M442.60,69.80 L450.46,69.78 L450.95,69.73 L451.45,69.60 L451.94,69.26 L452.43,68.44 L452.92,66.57 L453.41,62.70 L453.90,55.59 L454.39,44.73 L454.89,36.69 L455.38,43.09 L455.87,50.05 L456.36,55.97 L456.85,60.51 L457.34,63.78 L457.83,66.01 L458.33,67.48 L458.82,68.42 L459.31,68.99 L459.80,69.34 L460.29,69.54 L460.78,69.66 L461.27,69.72 L461.77,69.76 L477.00,69.80" fill="none" stroke="#2a2a2a" stroke-width="0.6"/>
<rect x="442.10" y="35.10" width="35.40" height="35.20" fill="none" stroke="#262626" stroke-width="1.0"/>
<path d="M478.00,69.80 L482.46,69.77 L482.96,69.75 L483.45,69.69 L483.95,69.60 L484.44,69.42 L484.94,69.10 L485.44,68.54 L485.93,67.61 L486.43,66.08 L486.92,63.68 L487.42,60.09 L487.91,55.01 L488.41,48.38 L488.91,40.82 L489.40,37.60 L489.90,49.33 L490.39,58.88 L490.89,64.60 L491.38,67.52 L491.88,68.87 L492.38,69.45 L492.87,69.67 L493.37,69.76 L512.70,69.80 L512.70,69.80 L478.00,69.80Z" fill="#dcdcde" stroke="#9a9a9a" stroke-width="0.55"/>
<path d="M478.00,69.80 L482.46,69.77 L482.96,69.75 L483.45,69.69 L483.95,69.60 L484.44,69.42 L484.94,69.10 L485.44,68.54 L485.93,67.61 L486.43,66.08 L486.92,63.68 L487.42,60.09 L487.91,55.01 L488.41,48.38 L488.91,40.82 L489.40,37.60 L489.90,49.33 L490.39,58.88 L490.89,64.60 L491.38,67.52 L491.88,68.87 L492.38,69.45 L492.87,69.67 L493.37,69.76 L512.70,69.80" fill="none" stroke="#5a5a5a" stroke-width="0.5"/>
<rect x="477.50" y="35.10" width="35.70" height="35.20" fill="none" stroke="#262626" stroke-width="1.0"/>
<text transform="translate(345.4,52.70) rotate(-90)" font-size="6.3" text-anchor="middle" fill="#222">Day 7</text>
<line x1="347.50" y1="43.40" x2="347.50" y2="62.00" stroke="#222" stroke-width="0.7" />
<line x1="369.50" y1="73.70" x2="437.10" y2="73.70" stroke="#000" stroke-width="1.0" />
<path d="M439.60,73.70 L436.20,72.20 L436.20,75.20Z" fill="#000"/>
<line x1="442.10" y1="73.70" x2="509.30" y2="73.70" stroke="#000" stroke-width="1.0" />
<path d="M511.80,73.70 L508.40,72.20 L508.40,75.20Z" fill="#000"/>
<text transform="translate(369.60,82.40) scale(0.8,1)" font-size="7.7" fill="#1a1a1a"><tspan font-family="Liberation Serif, serif" font-size="9">&#945;</tspan>-ms Igs</text>
<text transform="translate(442.20,82.40) scale(0.8,1)" font-size="7.7" fill="#1a1a1a"><tspan font-family="Liberation Serif, serif" font-size="9">&#945;</tspan>-ms IgM</text>
<path d="M370.00,125.40 L377.44,125.38 L377.93,125.34 L378.43,125.24 L378.92,124.96 L379.42,124.27 L379.91,122.67 L380.41,119.25 L380.91,112.76 L381.40,102.33 L381.90,91.31 L382.39,97.59 L382.89,105.17 L383.38,111.59 L383.88,116.41 L384.38,119.78 L384.87,122.00 L385.37,123.41 L385.86,124.26 L386.36,124.77 L386.85,125.06 L387.35,125.22 L387.85,125.31 L388.34,125.35 L404.70,125.40 L404.70,125.40 L370.00,125.40Z" fill="#dcdcde" stroke="#9a9a9a" stroke-width="0.55"/>
<path d="M370.00,125.40 L373.97,125.35 L374.46,125.33 L374.96,125.31 L375.45,125.27 L375.95,125.21 L376.44,125.14 L376.94,125.03 L377.44,124.89 L377.93,124.70 L378.43,124.44 L378.92,124.10 L379.42,123.65 L379.91,123.05 L380.41,122.29 L380.91,121.30 L381.40,120.05 L381.90,118.49 L382.39,116.57 L382.89,114.23 L383.38,111.46 L383.88,108.23 L384.38,104.59 L384.87,100.63 L385.37,96.61 L385.86,93.05 L386.36,93.59 L386.85,98.30 L387.35,103.32 L387.85,107.97 L388.34,111.97 L388.84,115.28 L389.33,117.91 L389.83,119.95 L390.32,121.49 L390.82,122.63 L391.32,123.47 L391.81,124.07 L392.31,124.49 L392.80,124.79 L393.30,124.99 L393.79,125.13 L394.29,125.22 L394.79,125.29 L395.28,125.33 L395.78,125.35 L404.70,125.40" fill="none" stroke="#5a7ab8" stroke-width="0.6"/>
<path d="M370.00,125.40 L375.45,125.36 L375.95,125.34 L376.44,125.32 L376.94,125.28 L377.44,125.23 L377.93,125.15 L378.43,125.05 L378.92,124.90 L379.42,124.69 L379.91,124.41 L380.41,124.03 L380.91,123.52 L381.40,122.84 L381.90,121.94 L382.39,120.78 L382.89,119.30 L383.38,117.43 L383.88,115.11 L384.38,112.30 L384.87,108.99 L385.37,105.20 L385.86,101.06 L386.36,96.85 L386.85,93.26 L387.35,95.01 L387.85,99.77 L388.34,104.65 L388.84,109.10 L389.33,112.90 L389.83,116.01 L390.32,118.47 L390.82,120.37 L391.32,121.80 L391.81,122.86 L392.31,123.63 L392.80,124.18 L393.30,124.57 L393.79,124.84 L394.29,125.03 L394.79,125.16 L395.28,125.24 L395.78,125.30 L396.27,125.33 L396.77,125.36 L404.70,125.40" fill="none" stroke="#c83a60" stroke-width="0.6"/>
<path d="M370.00,125.40 L377.44,125.38 L377.93,125.34 L378.43,125.24 L378.92,124.96 L379.42,124.27 L379.91,122.67 L380.41,119.25 L380.91,112.76 L381.40,102.33 L381.90,91.31 L382.39,97.14 L382.89,104.32 L383.38,110.57 L383.88,115.42 L384.38,118.92 L384.87,121.33 L385.37,122.91 L385.86,123.92 L386.36,124.54 L386.85,124.91 L387.35,125.12 L387.85,125.25 L388.34,125.32 L388.84,125.36 L404.70,125.40" fill="none" stroke="#2a2a2a" stroke-width="0.6"/>
<rect x="369.50" y="90.30" width="35.70" height="35.60" fill="none" stroke="#262626" stroke-width="1.0"/>
<path d="M405.70,125.40 L409.09,125.35 L409.57,125.32 L410.06,125.27 L410.54,125.19 L411.03,125.05 L411.51,124.84 L412.00,124.50 L412.48,123.99 L412.96,123.23 L413.45,122.11 L413.93,120.50 L414.42,118.25 L414.90,115.20 L415.39,111.21 L415.87,106.24 L416.35,100.46 L416.84,94.52 L417.32,93.91 L417.81,108.28 L418.29,117.95 L418.78,122.59 L419.26,124.45 L419.74,125.11 L420.23,125.32 L420.71,125.38 L439.60,125.40 L439.60,125.40 L405.70,125.40Z" fill="#dcdcde" stroke="#9a9a9a" stroke-width="0.55"/>
<path d="M405.70,125.40 L409.09,125.35 L409.57,125.32 L410.06,125.27 L410.54,125.19 L411.03,125.05 L411.51,124.84 L412.00,124.50 L412.48,123.99 L412.96,123.23 L413.45,122.11 L413.93,120.50 L414.42,118.25 L414.90,115.20 L415.39,111.21 L415.87,106.24 L416.35,100.46 L416.84,94.52 L417.32,93.91 L417.81,108.28 L418.29,117.95 L418.78,122.59 L419.26,124.45 L419.74,125.11 L420.23,125.32 L420.71,125.38 L439.60,125.40" fill="none" stroke="#5a5a5a" stroke-width="0.5"/>
<rect x="405.20" y="90.30" width="34.90" height="35.60" fill="none" stroke="#262626" stroke-width="1.0"/>
<path d="M442.60,125.40 L449.97,125.35 L450.46,125.26 L450.95,125.02 L451.45,124.42 L451.94,123.01 L452.43,119.99 L452.92,114.16 L453.41,104.49 L453.90,92.73 L454.39,96.08 L454.89,103.66 L455.38,110.33 L455.87,115.46 L456.36,119.11 L456.85,121.55 L457.34,123.12 L457.83,124.08 L458.33,124.66 L458.82,124.99 L459.31,125.18 L459.80,125.28 L460.29,125.34 L460.78,125.37 L477.00,125.40 L477.00,125.40 L442.60,125.40Z" fill="#dcdcde" stroke="#9a9a9a" stroke-width="0.55"/>
<path d="M442.60,125.39 L444.57,125.37 L445.06,125.35 L445.55,125.32 L446.04,125.27 L446.53,125.20 L447.02,125.10 L447.51,124.95 L448.01,124.73 L448.50,124.42 L448.99,123.96 L449.48,123.33 L449.97,122.45 L450.46,121.25 L450.95,119.64 L451.45,117.53 L451.94,114.83 L452.43,111.45 L452.92,107.38 L453.41,102.71 L453.90,97.72 L454.39,93.17 L454.89,93.35 L455.38,96.96 L455.87,100.96 L456.36,104.86 L456.85,108.45 L457.34,111.62 L457.83,114.35 L458.33,116.65 L458.82,118.54 L459.31,120.08 L459.80,121.31 L460.29,122.29 L460.78,123.05 L461.27,123.64 L461.77,124.09 L462.26,124.43 L462.75,124.69 L463.24,124.88 L463.73,125.03 L464.22,125.13 L464.71,125.21 L465.21,125.26 L465.70,125.30 L466.19,125.33 L466.68,125.35 L477.00,125.40" fill="none" stroke="#5a7ab8" stroke-width="0.6"/>
<path d="M442.60,125.39 L444.07,125.36 L444.57,125.33 L445.06,125.30 L445.55,125.26 L446.04,125.19 L446.53,125.10 L447.02,124.96 L447.51,124.78 L448.01,124.52 L448.50,124.16 L448.99,123.68 L449.48,123.03 L449.97,122.17 L450.46,121.04 L450.95,119.57 L451.45,117.72 L451.94,115.40 L452.43,112.56 L452.92,109.19 L453.41,105.32 L453.90,101.06 L454.39,96.74 L454.89,93.12 L455.38,94.60 L455.87,98.26 L456.36,102.19 L456.85,105.96 L457.34,109.41 L457.83,112.43 L458.33,114.56 L458.82,115.62 L459.31,116.63 L459.80,117.57 L460.29,118.43 L460.78,119.22 L461.27,119.95 L461.77,120.60 L462.26,121.19 L462.75,121.72 L463.24,122.19 L463.73,122.61 L464.22,122.99 L464.71,123.31 L465.21,123.60 L465.70,123.85 L466.19,124.07 L466.68,124.27 L467.17,124.43 L467.66,124.57 L468.15,124.70 L468.65,124.81 L469.14,124.90 L469.63,124.97 L470.12,125.04 L470.61,125.10 L471.10,125.15 L471.59,125.19 L472.09,125.22 L472.58,125.25 L473.07,125.28 L473.56,125.30 L474.05,125.31 L474.54,125.33 L475.03,125.34 L475.53,125.35 L477.00,125.37" fill="none" stroke="#c83a60" stroke-width="0.6"/>
<path d="M442.60,125.40 L449.97,125.35 L450.46,125.26 L450.95,125.02 L451.45,124.42 L451.94,123.01 L452.43,119.99 L452.92,114.16 L453.41,104.49 L453.90,92.73 L454.39,95.73 L454.89,102.88 L455.38,109.33 L455.87,114.45 L456.36,118.21 L456.85,120.83 L457.34,122.58 L457.83,123.70 L458.33,124.40 L458.82,124.82 L459.31,125.07 L459.80,125.22 L460.29,125.30 L460.78,125.35 L461.27,125.37 L477.00,125.40" fill="none" stroke="#2a2a2a" stroke-width="0.6"/>
<rect x="442.10" y="90.30" width="35.40" height="35.60" fill="none" stroke="#262626" stroke-width="1.0"/>
<path d="M478.00,125.40 L482.46,125.37 L482.96,125.34 L483.45,125.29 L483.95,125.19 L484.44,125.01 L484.94,124.69 L485.44,124.13 L485.93,123.18 L486.43,121.64 L486.92,119.21 L487.42,115.58 L487.91,110.43 L488.41,103.72 L488.91,96.08 L489.40,92.82 L489.90,104.69 L490.39,114.36 L490.89,120.13 L491.38,123.10 L491.88,124.46 L492.38,125.04 L492.87,125.27 L493.37,125.36 L512.70,125.40 L512.70,125.40 L478.00,125.40Z" fill="#dcdcde" stroke="#9a9a9a" stroke-width="0.55"/>
<path d="M478.00,125.40 L482.46,125.37 L482.96,125.34 L483.45,125.29 L483.95,125.19 L484.44,125.01 L484.94,124.69 L485.44,124.13 L485.93,123.18 L486.43,121.64 L486.92,119.21 L487.42,115.58 L487.91,110.43 L488.41,103.72 L488.91,96.08 L489.40,92.82 L489.90,104.69 L490.39,114.36 L490.89,120.13 L491.38,123.10 L491.88,124.46 L492.38,125.04 L492.87,125.27 L493.37,125.36 L512.70,125.40" fill="none" stroke="#5a5a5a" stroke-width="0.5"/>
<rect x="477.50" y="90.30" width="35.70" height="35.60" fill="none" stroke="#262626" stroke-width="1.0"/>
<text transform="translate(345.4,108.10) rotate(-90)" font-size="6.3" text-anchor="middle" fill="#222">Day 14</text>
<line x1="347.50" y1="97.90" x2="347.50" y2="118.30" stroke="#222" stroke-width="0.7" />
<path d="M370.00,160.10 L377.93,160.07 L378.43,160.02 L378.92,159.87 L379.42,159.48 L379.91,158.53 L380.41,156.40 L380.91,152.05 L381.40,144.23 L381.90,132.90 L382.39,128.75 L382.89,136.00 L383.38,143.05 L383.88,148.69 L384.38,152.80 L384.87,155.60 L385.37,157.41 L385.86,158.54 L386.36,159.22 L386.85,159.62 L387.35,159.84 L387.85,159.96 L388.34,160.03 L388.84,160.06 L404.70,160.10 L404.70,160.10 L370.00,160.10Z" fill="#dcdcde" stroke="#9a9a9a" stroke-width="0.55"/>
<path d="M370.00,160.10 L374.46,160.06 L374.96,160.04 L375.45,160.01 L375.95,159.97 L376.44,159.92 L376.94,159.84 L377.44,159.74 L377.93,159.61 L378.43,159.42 L378.92,159.17 L379.42,158.84 L379.91,158.40 L380.41,157.82 L380.91,157.07 L381.40,156.12 L381.90,154.91 L382.39,153.39 L382.89,151.52 L383.38,149.25 L383.88,146.55 L384.38,143.41 L384.87,139.87 L385.37,136.02 L385.86,132.11 L386.36,128.63 L386.85,129.10 L387.35,133.67 L387.85,138.56 L388.34,143.09 L388.84,147.00 L389.33,150.22 L389.83,152.78 L390.32,154.77 L390.82,156.28 L391.32,157.40 L391.81,158.22 L392.31,158.80 L392.80,159.21 L393.30,159.50 L393.79,159.70 L394.29,159.84 L394.79,159.93 L395.28,159.99 L395.78,160.03 L396.27,160.05 L404.70,160.10" fill="none" stroke="#5a7ab8" stroke-width="0.6"/>
<path d="M370.00,160.10 L375.45,160.06 L375.95,160.05 L376.44,160.02 L376.94,159.98 L377.44,159.93 L377.93,159.86 L378.43,159.76 L378.92,159.61 L379.42,159.41 L379.91,159.14 L380.41,158.77 L380.91,158.27 L381.40,157.61 L381.90,156.74 L382.39,155.60 L382.89,154.16 L383.38,152.34 L383.88,150.08 L384.38,147.35 L384.87,144.12 L385.37,140.43 L385.86,136.40 L386.36,132.30 L386.85,128.81 L387.35,130.51 L387.85,135.14 L388.34,139.90 L388.84,144.23 L389.33,147.93 L389.83,150.95 L390.32,153.35 L390.82,155.20 L391.32,156.60 L391.81,157.63 L392.31,158.38 L392.80,158.92 L393.30,159.30 L393.79,159.56 L394.29,159.74 L394.79,159.86 L395.28,159.94 L395.78,160.00 L396.27,160.04 L396.77,160.06 L404.70,160.10" fill="none" stroke="#c83a60" stroke-width="0.6"/>
<path d="M370.00,160.10 L377.93,160.07 L378.43,160.02 L378.92,159.87 L379.42,159.48 L379.91,158.53 L380.41,156.40 L380.91,152.05 L381.40,144.23 L381.90,132.90 L382.39,128.61 L382.89,135.39 L383.38,142.13 L383.88,147.69 L384.38,151.87 L384.87,154.83 L385.37,156.83 L385.86,158.12 L386.36,158.93 L386.85,159.42 L387.35,159.72 L387.85,159.89 L388.34,159.98 L388.84,160.04 L389.33,160.07 L404.70,160.10" fill="none" stroke="#2a2a2a" stroke-width="0.6"/>
<rect x="369.50" y="125.90" width="35.70" height="34.70" fill="none" stroke="#262626" stroke-width="1.0"/>
<path d="M405.70,160.10 L409.09,160.06 L409.57,160.02 L410.06,159.97 L410.54,159.89 L411.03,159.76 L411.51,159.55 L412.00,159.23 L412.48,158.73 L412.96,157.99 L413.45,156.89 L413.93,155.33 L414.42,153.14 L414.90,150.17 L415.39,146.28 L415.87,141.45 L416.35,135.82 L416.84,130.04 L417.32,129.44 L417.81,143.43 L418.29,152.85 L418.78,157.37 L419.26,159.18 L419.74,159.82 L420.23,160.02 L420.71,160.08 L439.60,160.10 L439.60,160.10 L405.70,160.10Z" fill="#dcdcde" stroke="#9a9a9a" stroke-width="0.55"/>
<path d="M405.70,160.10 L409.09,160.06 L409.57,160.02 L410.06,159.97 L410.54,159.89 L411.03,159.76 L411.51,159.55 L412.00,159.23 L412.48,158.73 L412.96,157.99 L413.45,156.89 L413.93,155.33 L414.42,153.14 L414.90,150.17 L415.39,146.28 L415.87,141.45 L416.35,135.82 L416.84,130.04 L417.32,129.44 L417.81,143.43 L418.29,152.85 L418.78,157.37 L419.26,159.18 L419.74,159.82 L420.23,160.02 L420.71,160.08 L439.60,160.10" fill="none" stroke="#5a5a5a" stroke-width="0.5"/>
<rect x="405.20" y="125.90" width="34.90" height="34.70" fill="none" stroke="#262626" stroke-width="1.0"/>
<path d="M442.60,160.10 L449.48,160.06 L449.97,159.99 L450.46,159.79 L450.95,159.29 L451.45,158.12 L451.94,155.55 L452.43,150.47 L452.92,141.77 L453.41,130.21 L453.90,130.23 L454.39,137.59 L454.89,144.33 L455.38,149.61 L455.87,153.41 L456.36,155.98 L456.85,157.65 L457.34,158.68 L457.83,159.30 L458.33,159.66 L458.82,159.86 L459.31,159.97 L459.80,160.03 L460.29,160.07 L477.00,160.10 L477.00,160.10 L442.60,160.10Z" fill="#dcdcde" stroke="#9a9a9a" stroke-width="0.55"/>
<path d="M442.60,160.08 L444.07,160.05 L444.57,160.04 L445.06,160.01 L445.55,159.98 L446.04,159.94 L446.53,159.88 L447.02,159.80 L447.51,159.70 L448.01,159.56 L448.50,159.39 L448.99,159.15 L449.48,158.85 L449.97,158.46 L450.46,157.97 L450.95,157.35 L451.45,156.56 L451.94,155.58 L452.43,154.38 L452.92,152.92 L453.41,151.16 L453.90,149.07 L454.39,146.63 L454.89,143.83 L455.38,140.69 L455.87,137.28 L456.36,133.74 L456.85,130.33 L457.34,127.70 L457.83,129.87 L458.33,133.58 L458.82,137.48 L459.31,141.20 L459.80,144.58 L460.29,147.54 L460.78,150.06 L461.27,152.18 L461.77,153.91 L462.26,155.31 L462.75,156.43 L463.24,157.31 L463.73,158.00 L464.22,158.53 L464.71,158.94 L465.21,159.24 L465.70,159.47 L466.19,159.64 L466.68,159.77 L467.17,159.86 L467.66,159.93 L468.15,159.98 L468.65,160.02 L469.14,160.04 L469.63,160.06 L477.00,160.10" fill="none" stroke="#5a7ab8" stroke-width="0.6"/>
<path d="M442.60,160.08 L443.58,160.06 L444.07,160.04 L444.57,160.02 L445.06,160.00 L445.55,159.96 L446.04,159.91 L446.53,159.85 L447.02,159.77 L447.51,159.66 L448.01,159.52 L448.50,159.34 L448.99,159.12 L449.48,158.82 L449.97,158.46 L450.46,157.99 L450.95,157.41 L451.45,156.70 L451.94,155.81 L452.43,154.74 L452.92,153.44 L453.41,151.90 L453.90,150.07 L454.39,147.94 L454.89,145.50 L455.38,142.76 L455.87,139.74 L456.36,136.52 L456.85,133.25 L457.34,130.21 L457.83,128.30 L458.33,130.89 L458.82,134.34 L459.31,137.92 L459.80,141.34 L460.29,144.48 L460.78,147.26 L461.27,149.67 L461.77,151.72 L462.26,153.43 L462.75,154.84 L463.24,155.98 L463.73,156.91 L464.22,157.64 L464.71,158.22 L465.21,158.67 L465.70,159.02 L466.19,159.29 L466.68,159.50 L467.17,159.65 L467.66,159.77 L468.15,159.86 L468.65,159.92 L469.14,159.97 L469.63,160.01 L470.12,160.03 L470.61,160.05 L477.00,160.10" fill="none" stroke="#c83a60" stroke-width="0.6"/>
<path d="M442.60,160.10 L449.48,160.06 L449.97,159.99 L450.46,159.79 L450.95,159.29 L451.45,158.12 L451.94,155.55 L452.43,150.47 L452.92,141.77 L453.41,130.21 L453.90,129.98 L454.39,136.89 L454.89,143.38 L455.38,148.62 L455.87,152.51 L456.36,155.25 L456.85,157.09 L457.34,158.28 L457.83,159.02 L458.33,159.48 L458.82,159.75 L459.31,159.90 L459.80,159.99 L460.29,160.04 L460.78,160.07 L477.00,160.10" fill="none" stroke="#2a2a2a" stroke-width="0.6"/>
<rect x="442.10" y="125.90" width="35.40" height="34.70" fill="none" stroke="#262626" stroke-width="1.0"/>
<path d="M478.00,160.10 L482.46,160.07 L482.96,160.05 L483.45,159.99 L483.95,159.90 L484.44,159.72 L484.94,159.41 L485.44,158.86 L485.93,157.94 L486.43,156.44 L486.92,154.07 L487.42,150.54 L487.91,145.53 L488.41,138.99 L488.91,131.55 L489.40,128.38 L489.90,139.93 L490.39,149.35 L490.89,154.97 L491.38,157.86 L491.88,159.19 L492.38,159.75 L492.87,159.97 L493.37,160.06 L512.70,160.10 L512.70,160.10 L478.00,160.10Z" fill="#dcdcde" stroke="#9a9a9a" stroke-width="0.55"/>
<path d="M478.00,160.10 L482.46,160.07 L482.96,160.05 L483.45,159.99 L483.95,159.90 L484.44,159.72 L484.94,159.41 L485.44,158.86 L485.93,157.94 L486.43,156.44 L486.92,154.07 L487.42,150.54 L487.91,145.53 L488.41,138.99 L488.91,131.55 L489.40,128.38 L489.90,139.93 L490.39,149.35 L490.89,154.97 L491.38,157.86 L491.88,159.19 L492.38,159.75 L492.87,159.97 L493.37,160.06 L512.70,160.10" fill="none" stroke="#5a5a5a" stroke-width="0.5"/>
<rect x="477.50" y="125.90" width="35.70" height="34.70" fill="none" stroke="#262626" stroke-width="1.0"/>
<text transform="translate(345.4,143.25) rotate(-90)" font-size="6.3" text-anchor="middle" fill="#222">Day 21</text>
<line x1="347.50" y1="133.05" x2="347.50" y2="153.45" stroke="#222" stroke-width="0.7" />
<line x1="369.50" y1="163.50" x2="437.10" y2="163.50" stroke="#000" stroke-width="1.0" />
<path d="M439.60,163.50 L436.20,162.00 L436.20,165.00Z" fill="#000"/>
<line x1="442.10" y1="163.50" x2="509.30" y2="163.50" stroke="#000" stroke-width="1.0" />
<path d="M511.80,163.50 L508.40,162.00 L508.40,165.00Z" fill="#000"/>
<text transform="translate(369.60,172.40) scale(0.8,1)" font-size="7.7" fill="#1a1a1a"><tspan font-family="Liberation Serif, serif" font-size="9">&#945;</tspan>-ms Igs</text>
<text transform="translate(442.20,172.40) scale(0.8,1)" font-size="7.7" fill="#1a1a1a"><tspan font-family="Liberation Serif, serif" font-size="9">&#945;</tspan>-ms IgG1</text>
<path d="M370.00,215.60 L377.44,215.56 L377.93,215.47 L378.43,215.24 L378.92,214.66 L379.42,213.29 L379.91,210.33 L380.41,204.54 L380.91,194.88 L381.40,183.06 L381.90,187.27 L382.39,195.88 L382.89,202.95 L383.38,207.96 L383.88,211.21 L384.38,213.18 L384.87,214.31 L385.37,214.94 L385.86,215.27 L386.36,215.44 L386.85,215.52 L387.35,215.57 L404.70,215.60 L404.70,215.60 L370.00,215.60Z" fill="#dcdcde" stroke="#9a9a9a" stroke-width="0.55"/>
<path d="M370.00,215.60 L376.94,215.56 L377.44,215.49 L377.93,215.34 L378.43,215.02 L378.92,214.33 L379.42,212.95 L379.91,210.37 L380.41,205.86 L380.91,198.76 L381.40,189.29 L381.90,183.36 L382.39,190.22 L382.89,197.40 L383.38,203.31 L383.88,207.67 L384.38,210.68 L384.87,212.64 L385.37,213.88 L385.86,214.62 L386.36,215.06 L386.85,215.31 L387.35,215.45 L387.85,215.52 L388.34,215.56 L404.70,215.60" fill="none" stroke="#c83a60" stroke-width="0.6"/>
<path d="M370.00,215.60 L376.44,215.57 L376.94,215.54 L377.44,215.44 L377.93,215.24 L378.43,214.79 L378.92,213.86 L379.42,212.06 L379.91,208.75 L380.41,203.20 L380.91,194.94 L381.40,185.09 L381.90,184.89 L382.39,191.10 L382.89,197.17 L383.38,202.30 L383.88,206.33 L384.38,209.32 L384.87,211.45 L385.37,212.92 L385.86,213.90 L386.36,214.55 L386.85,214.96 L387.35,215.21 L387.85,215.37 L388.34,215.47 L388.84,215.52 L389.33,215.56 L404.70,215.60" fill="none" stroke="#5a7ab8" stroke-width="0.6"/>
<path d="M370.00,215.60 L377.44,215.56 L377.93,215.47 L378.43,215.24 L378.92,214.66 L379.42,213.29 L379.91,210.33 L380.41,204.54 L380.91,194.88 L381.40,183.06 L381.90,186.81 L382.39,194.90 L382.89,201.79 L383.38,206.88 L383.88,210.33 L384.38,212.54 L384.87,213.88 L385.37,214.66 L385.86,215.10 L386.36,215.34 L386.85,215.47 L387.35,215.54 L387.85,215.57 L404.70,215.60" fill="none" stroke="#23386e" stroke-width="0.65"/>
<rect x="369.50" y="180.60" width="35.70" height="35.50" fill="none" stroke="#262626" stroke-width="1.0"/>
<path d="M405.70,215.60 L409.09,215.55 L409.57,215.52 L410.06,215.47 L410.54,215.39 L411.03,215.25 L411.51,215.04 L412.00,214.70 L412.48,214.20 L412.96,213.44 L413.45,212.32 L413.93,210.71 L414.42,208.47 L414.90,205.43 L415.39,201.45 L415.87,196.50 L416.35,190.73 L416.84,184.81 L417.32,184.20 L417.81,198.53 L418.29,208.17 L418.78,212.80 L419.26,214.66 L419.74,215.31 L420.23,215.52 L420.71,215.58 L439.60,215.60 L439.60,215.60 L405.70,215.60Z" fill="#dcdcde" stroke="#9a9a9a" stroke-width="0.55"/>
<path d="M405.70,215.60 L409.09,215.55 L409.57,215.52 L410.06,215.47 L410.54,215.39 L411.03,215.25 L411.51,215.04 L412.00,214.70 L412.48,214.20 L412.96,213.44 L413.45,212.32 L413.93,210.71 L414.42,208.47 L414.90,205.43 L415.39,201.45 L415.87,196.50 L416.35,190.73 L416.84,184.81 L417.32,184.20 L417.81,198.53 L418.29,208.17 L418.78,212.80 L419.26,214.66 L419.74,215.31 L420.23,215.52 L420.71,215.58 L439.60,215.60" fill="none" stroke="#5a5a5a" stroke-width="0.5"/>
<rect x="405.20" y="180.60" width="34.90" height="35.50" fill="none" stroke="#262626" stroke-width="1.0"/>
<path d="M442.60,215.60 L448.99,215.57 L449.48,215.51 L449.97,215.34 L450.46,214.91 L450.95,213.87 L451.45,211.58 L451.94,206.96 L452.43,198.79 L452.92,187.18 L453.41,184.15 L453.90,192.68 L454.39,200.43 L454.89,206.19 L455.38,210.06 L455.87,212.48 L456.36,213.91 L456.85,214.71 L457.34,215.15 L457.83,215.38 L458.33,215.49 L458.82,215.55 L477.00,215.60 L477.00,215.60 L442.60,215.60Z" fill="#dcdcde" stroke="#9a9a9a" stroke-width="0.55"/>
<path d="M442.60,215.60 L448.50,215.57 L448.99,215.52 L449.48,215.40 L449.97,215.15 L450.46,214.61 L450.95,213.51 L451.45,211.42 L451.94,207.70 L452.43,201.62 L452.92,192.93 L453.41,183.58 L453.90,187.37 L454.39,194.70 L454.89,200.81 L455.38,202.26 L455.87,203.69 L456.36,205.05 L456.85,206.33 L457.34,207.52 L457.83,208.59 L458.33,209.56 L458.82,210.42 L459.31,211.18 L459.80,211.84 L460.29,212.43 L460.78,212.93 L461.27,213.36 L461.77,213.73 L462.26,214.05 L462.75,214.31 L463.24,214.54 L463.73,214.72 L464.22,214.88 L464.71,215.01 L465.21,215.12 L465.70,215.21 L466.19,215.28 L466.68,215.35 L467.17,215.39 L467.66,215.44 L468.15,215.47 L468.65,215.49 L469.14,215.52 L469.63,215.53 L470.12,215.55 L470.61,215.56 L477.00,215.60" fill="none" stroke="#c83a60" stroke-width="0.6"/>
<path d="M442.60,215.60 L448.50,215.55 L448.99,215.48 L449.48,215.32 L449.97,214.97 L450.46,214.24 L450.95,212.79 L451.45,210.09 L451.94,205.44 L452.43,198.19 L452.92,188.64 L453.41,182.75 L453.90,186.60 L454.39,191.18 L454.89,195.65 L455.38,199.68 L455.87,203.14 L456.36,206.02 L456.85,208.34 L457.34,210.17 L457.83,211.60 L458.33,212.68 L458.82,213.49 L459.31,214.10 L459.80,214.54 L460.29,214.86 L460.78,215.08 L461.27,215.24 L461.77,215.36 L462.26,215.44 L462.75,215.49 L463.24,215.53 L463.73,215.55 L477.00,215.60" fill="none" stroke="#5a7ab8" stroke-width="0.6"/>
<path d="M442.60,215.60 L448.99,215.57 L449.48,215.51 L449.97,215.34 L450.46,214.91 L450.95,213.87 L451.45,211.58 L451.94,206.96 L452.43,198.79 L452.92,187.18 L453.41,183.93 L453.90,191.86 L454.39,199.30 L454.89,205.05 L455.38,209.09 L455.87,211.74 L456.36,213.39 L456.85,214.38 L457.34,214.94 L457.83,215.25 L458.33,215.42 L458.82,215.51 L459.31,215.56 L477.00,215.60" fill="none" stroke="#23386e" stroke-width="0.65"/>
<rect x="442.10" y="180.60" width="35.40" height="35.50" fill="none" stroke="#262626" stroke-width="1.0"/>
<path d="M478.00,215.60 L482.46,215.57 L482.96,215.54 L483.45,215.49 L483.95,215.39 L484.44,215.21 L484.94,214.89 L485.44,214.33 L485.93,213.39 L486.43,211.85 L486.92,209.43 L487.42,205.81 L487.91,200.68 L488.41,193.99 L488.91,186.36 L489.40,183.11 L489.90,194.95 L490.39,204.59 L490.89,210.35 L491.38,213.30 L491.88,214.67 L492.38,215.24 L492.87,215.47 L493.37,215.56 L512.70,215.60 L512.70,215.60 L478.00,215.60Z" fill="#dcdcde" stroke="#9a9a9a" stroke-width="0.55"/>
<path d="M478.00,215.60 L482.46,215.57 L482.96,215.54 L483.45,215.49 L483.95,215.39 L484.44,215.21 L484.94,214.89 L485.44,214.33 L485.93,213.39 L486.43,211.85 L486.92,209.43 L487.42,205.81 L487.91,200.68 L488.41,193.99 L488.91,186.36 L489.40,183.11 L489.90,194.95 L490.39,204.59 L490.89,210.35 L491.38,213.30 L491.88,214.67 L492.38,215.24 L492.87,215.47 L493.37,215.56 L512.70,215.60" fill="none" stroke="#5a5a5a" stroke-width="0.5"/>
<rect x="477.50" y="180.60" width="35.70" height="35.50" fill="none" stroke="#262626" stroke-width="1.0"/>
<text transform="translate(345.4,198.35) rotate(-90)" font-size="6.3" text-anchor="middle" fill="#222">Day 14</text>
<line x1="347.50" y1="188.15" x2="347.50" y2="208.55" stroke="#222" stroke-width="0.7" />
<path d="M370.00,250.40 L377.44,250.36 L377.93,250.27 L378.43,250.05 L378.92,249.48 L379.42,248.14 L379.91,245.23 L380.41,239.57 L380.91,230.11 L381.40,218.53 L381.90,222.66 L382.39,231.09 L382.89,238.01 L383.38,242.92 L383.88,246.10 L384.38,248.03 L384.87,249.14 L385.37,249.75 L385.86,250.08 L386.36,250.24 L386.85,250.33 L387.35,250.37 L404.70,250.40 L404.70,250.40 L370.00,250.40Z" fill="#dcdcde" stroke="#9a9a9a" stroke-width="0.55"/>
<path d="M370.00,250.40 L376.94,250.36 L377.44,250.29 L377.93,250.15 L378.43,249.83 L378.92,249.16 L379.42,247.81 L379.91,245.27 L380.41,240.86 L380.91,233.91 L381.40,224.63 L381.90,218.83 L382.39,225.54 L382.89,232.58 L383.38,238.36 L383.88,242.63 L384.38,245.58 L384.87,247.28 L385.37,247.98 L385.86,248.54 L386.36,248.99 L386.85,249.35 L387.35,249.62 L387.85,249.83 L388.34,249.98 L388.84,250.10 L389.33,250.18 L389.83,250.25 L390.32,250.29 L390.82,250.32 L391.32,250.35 L391.81,250.36 L404.70,250.40" fill="none" stroke="#c83a60" stroke-width="0.6"/>
<path d="M370.00,250.40 L376.44,250.37 L376.94,250.34 L377.44,250.25 L377.93,250.04 L378.43,249.61 L378.92,248.70 L379.42,246.93 L379.91,243.69 L380.41,238.26 L380.91,230.16 L381.40,220.52 L381.90,220.33 L382.39,226.40 L382.89,232.35 L383.38,237.38 L383.88,241.32 L384.38,244.25 L384.87,246.33 L385.37,247.77 L385.86,248.74 L386.36,249.37 L386.85,249.77 L387.35,250.02 L387.85,250.18 L388.34,250.27 L388.84,250.33 L389.33,250.36 L404.70,250.40" fill="none" stroke="#5a7ab8" stroke-width="0.6"/>
<path d="M370.00,250.40 L377.44,250.36 L377.93,250.27 L378.43,250.05 L378.92,249.48 L379.42,248.14 L379.91,245.23 L380.41,239.57 L380.91,230.11 L381.40,218.53 L381.90,222.20 L382.39,230.13 L382.89,236.88 L383.38,241.86 L383.88,245.24 L384.38,247.40 L384.87,248.72 L385.37,249.48 L385.86,249.91 L386.36,250.15 L386.85,250.27 L387.35,250.34 L387.85,250.37 L404.70,250.40" fill="none" stroke="#23386e" stroke-width="0.65"/>
<rect x="369.50" y="216.10" width="35.70" height="34.80" fill="none" stroke="#262626" stroke-width="1.0"/>
<path d="M405.70,250.40 L409.09,250.36 L409.57,250.32 L410.06,250.27 L410.54,250.19 L411.03,250.06 L411.51,249.85 L412.00,249.52 L412.48,249.03 L412.96,248.28 L413.45,247.18 L413.93,245.61 L414.42,243.42 L414.90,240.44 L415.39,236.54 L415.87,231.69 L416.35,226.05 L416.84,220.25 L417.32,219.65 L417.81,233.68 L418.29,243.12 L418.78,247.66 L419.26,249.48 L419.74,250.12 L420.23,250.32 L420.71,250.38 L439.60,250.40 L439.60,250.40 L405.70,250.40Z" fill="#dcdcde" stroke="#9a9a9a" stroke-width="0.55"/>
<path d="M405.70,250.40 L409.09,250.36 L409.57,250.32 L410.06,250.27 L410.54,250.19 L411.03,250.06 L411.51,249.85 L412.00,249.52 L412.48,249.03 L412.96,248.28 L413.45,247.18 L413.93,245.61 L414.42,243.42 L414.90,240.44 L415.39,236.54 L415.87,231.69 L416.35,226.05 L416.84,220.25 L417.32,219.65 L417.81,233.68 L418.29,243.12 L418.78,247.66 L419.26,249.48 L419.74,250.12 L420.23,250.32 L420.71,250.38 L439.60,250.40" fill="none" stroke="#5a5a5a" stroke-width="0.5"/>
<rect x="405.20" y="216.10" width="34.90" height="34.80" fill="none" stroke="#262626" stroke-width="1.0"/>
<path d="M442.60,250.40 L448.99,250.37 L449.48,250.31 L449.97,250.14 L450.46,249.72 L450.95,248.71 L451.45,246.47 L451.94,241.94 L452.43,233.94 L452.92,222.57 L453.41,219.60 L453.90,227.95 L454.39,235.54 L454.89,241.19 L455.38,244.98 L455.87,247.35 L456.36,248.74 L456.85,249.53 L457.34,249.96 L457.83,250.18 L458.33,250.30 L458.82,250.35 L477.00,250.40 L477.00,250.40 L442.60,250.40Z" fill="#dcdcde" stroke="#9a9a9a" stroke-width="0.55"/>
<path d="M442.60,250.40 L448.50,250.37 L448.99,250.32 L449.48,250.21 L449.97,249.96 L450.46,249.43 L450.95,248.36 L451.45,246.31 L451.94,242.66 L452.43,236.71 L452.92,228.19 L453.41,219.04 L453.90,222.75 L454.39,229.93 L454.89,236.22 L455.38,238.60 L455.87,239.47 L456.36,240.34 L456.85,241.18 L457.34,242.00 L457.83,242.77 L458.33,243.50 L458.82,244.18 L459.31,244.82 L459.80,245.40 L460.29,245.94 L460.78,246.43 L461.27,246.88 L461.77,247.29 L462.26,247.65 L462.75,247.98 L463.24,248.28 L463.73,248.54 L464.22,248.77 L464.71,248.98 L465.21,249.16 L465.70,249.33 L466.19,249.47 L466.68,249.59 L467.17,249.70 L467.66,249.80 L468.15,249.88 L468.65,249.96 L469.14,250.02 L469.63,250.07 L470.12,250.12 L470.61,250.16 L471.10,250.20 L471.59,250.23 L472.09,250.25 L472.58,250.28 L473.07,250.30 L473.56,250.31 L474.05,250.33 L474.54,250.34 L475.03,250.35 L475.53,250.36 L477.00,250.37" fill="none" stroke="#c83a60" stroke-width="0.6"/>
<path d="M442.60,250.40 L448.50,250.35 L448.99,250.28 L449.48,250.12 L449.97,249.78 L450.46,249.06 L450.95,247.64 L451.45,245.00 L451.94,240.45 L452.43,233.35 L452.92,223.99 L453.41,218.15 L453.90,221.30 L454.39,225.14 L454.89,229.02 L455.38,232.65 L455.87,235.90 L456.36,238.72 L456.85,241.10 L457.34,243.09 L457.83,244.71 L458.33,246.01 L458.82,247.05 L459.31,247.86 L459.80,248.49 L460.29,248.98 L460.78,249.35 L461.27,249.63 L461.77,249.84 L462.26,249.99 L462.75,250.10 L463.24,250.19 L463.73,250.25 L464.22,250.29 L464.71,250.32 L465.21,250.35 L465.70,250.36 L477.00,250.40" fill="none" stroke="#5a7ab8" stroke-width="0.6"/>
<path d="M442.60,250.40 L448.99,250.37 L449.48,250.31 L449.97,250.14 L450.46,249.72 L450.95,248.71 L451.45,246.47 L451.94,241.94 L452.43,233.94 L452.92,222.57 L453.41,219.38 L453.90,227.15 L454.39,234.43 L454.89,240.07 L455.38,244.03 L455.87,246.62 L456.36,248.24 L456.85,249.20 L457.34,249.75 L457.83,250.06 L458.33,250.23 L458.82,250.31 L459.31,250.36 L477.00,250.40" fill="none" stroke="#23386e" stroke-width="0.65"/>
<rect x="442.10" y="216.10" width="35.40" height="34.80" fill="none" stroke="#262626" stroke-width="1.0"/>
<path d="M478.00,250.40 L482.46,250.37 L482.96,250.35 L483.45,250.29 L483.95,250.20 L484.44,250.02 L484.94,249.71 L485.44,249.16 L485.93,248.23 L486.43,246.72 L486.92,244.36 L487.42,240.81 L487.91,235.79 L488.41,229.23 L488.91,221.77 L489.40,218.58 L489.90,230.17 L490.39,239.61 L490.89,245.26 L491.38,248.15 L491.88,249.49 L492.38,250.05 L492.87,250.27 L493.37,250.36 L512.70,250.40 L512.70,250.40 L478.00,250.40Z" fill="#dcdcde" stroke="#9a9a9a" stroke-width="0.55"/>
<path d="M478.00,250.40 L482.46,250.37 L482.96,250.35 L483.45,250.29 L483.95,250.20 L484.44,250.02 L484.94,249.71 L485.44,249.16 L485.93,248.23 L486.43,246.72 L486.92,244.36 L487.42,240.81 L487.91,235.79 L488.41,229.23 L488.91,221.77 L489.40,218.58 L489.90,230.17 L490.39,239.61 L490.89,245.26 L491.38,248.15 L491.88,249.49 L492.38,250.05 L492.87,250.27 L493.37,250.36 L512.70,250.40" fill="none" stroke="#5a5a5a" stroke-width="0.5"/>
<rect x="477.50" y="216.10" width="35.70" height="34.80" fill="none" stroke="#262626" stroke-width="1.0"/>
<text transform="translate(345.4,233.50) rotate(-90)" font-size="6.3" text-anchor="middle" fill="#222">Day 21</text>
<line x1="347.50" y1="223.30" x2="347.50" y2="243.70" stroke="#222" stroke-width="0.7" />
<line x1="369.50" y1="253.90" x2="437.10" y2="253.90" stroke="#000" stroke-width="1.0" />
<path d="M439.60,253.90 L436.20,252.40 L436.20,255.40Z" fill="#000"/>
<line x1="442.10" y1="253.90" x2="509.30" y2="253.90" stroke="#000" stroke-width="1.0" />
<path d="M511.80,253.90 L508.40,252.40 L508.40,255.40Z" fill="#000"/>
<text transform="translate(369.60,263.30) scale(0.8,1)" font-size="7.7" fill="#1a1a1a"><tspan font-family="Liberation Serif, serif" font-size="9">&#945;</tspan>-ms IgG2a</text>
<text transform="translate(442.20,263.30) scale(0.8,1)" font-size="7.7" fill="#1a1a1a"><tspan font-family="Liberation Serif, serif" font-size="9">&#945;</tspan>-ms IgG2b</text>
<path d="M370.00,305.70 L377.44,305.66 L377.93,305.57 L378.43,305.34 L378.92,304.76 L379.42,303.40 L379.91,300.44 L380.41,294.68 L380.91,285.04 L381.40,273.25 L381.90,277.46 L382.39,286.04 L382.89,293.09 L383.38,298.09 L383.88,301.32 L384.38,303.29 L384.87,304.42 L385.37,305.04 L385.86,305.37 L386.36,305.54 L386.85,305.63 L387.35,305.67 L404.70,305.70 L404.70,305.70 L370.00,305.70Z" fill="#dcdcde" stroke="#9a9a9a" stroke-width="0.55"/>
<path d="M370.00,305.70 L376.94,305.66 L377.44,305.59 L377.93,305.44 L378.43,305.12 L378.92,304.43 L379.42,303.06 L379.91,300.48 L380.41,295.99 L380.91,288.91 L381.40,279.46 L381.90,273.56 L382.39,280.39 L382.89,287.55 L383.38,293.44 L383.88,297.79 L384.38,300.79 L384.87,302.52 L385.37,303.23 L385.86,303.81 L386.36,304.27 L386.85,304.63 L387.35,304.91 L387.85,305.12 L388.34,305.27 L388.84,305.39 L389.33,305.48 L389.83,305.54 L390.32,305.59 L390.82,305.62 L391.32,305.65 L391.81,305.66 L404.70,305.70" fill="none" stroke="#c83a60" stroke-width="0.6"/>
<path d="M370.00,305.70 L376.44,305.67 L376.94,305.64 L377.44,305.54 L377.93,305.34 L378.43,304.89 L378.92,303.97 L379.42,302.17 L379.91,298.87 L380.41,293.34 L380.91,285.10 L381.40,275.28 L381.90,275.08 L382.39,281.27 L382.89,287.32 L383.38,292.44 L383.88,296.45 L384.38,299.43 L384.87,301.56 L385.37,303.03 L385.86,304.01 L386.36,304.65 L386.85,305.06 L387.35,305.32 L387.85,305.47 L388.34,305.57 L388.84,305.62 L389.33,305.66 L404.70,305.70" fill="none" stroke="#5a7ab8" stroke-width="0.6"/>
<path d="M370.00,305.70 L377.44,305.66 L377.93,305.57 L378.43,305.34 L378.92,304.76 L379.42,303.40 L379.91,300.44 L380.41,294.68 L380.91,285.04 L381.40,273.25 L381.90,276.99 L382.39,285.06 L382.89,291.93 L383.38,297.00 L383.88,300.45 L384.38,302.65 L384.87,303.99 L385.37,304.77 L385.86,305.20 L386.36,305.44 L386.85,305.57 L387.35,305.64 L387.85,305.67 L404.70,305.70" fill="none" stroke="#23386e" stroke-width="0.65"/>
<rect x="369.50" y="270.80" width="35.70" height="35.40" fill="none" stroke="#262626" stroke-width="1.0"/>
<path d="M405.70,305.70 L409.09,305.65 L409.57,305.62 L410.06,305.57 L410.54,305.49 L411.03,305.35 L411.51,305.14 L412.00,304.81 L412.48,304.30 L412.96,303.54 L413.45,302.43 L413.93,300.83 L414.42,298.59 L414.90,295.56 L415.39,291.59 L415.87,286.65 L416.35,280.91 L416.84,275.00 L417.32,274.40 L417.81,288.68 L418.29,298.29 L418.78,302.91 L419.26,304.76 L419.74,305.41 L420.23,305.62 L420.71,305.68 L439.60,305.70 L439.60,305.70 L405.70,305.70Z" fill="#dcdcde" stroke="#9a9a9a" stroke-width="0.55"/>
<path d="M405.70,305.70 L409.09,305.65 L409.57,305.62 L410.06,305.57 L410.54,305.49 L411.03,305.35 L411.51,305.14 L412.00,304.81 L412.48,304.30 L412.96,303.54 L413.45,302.43 L413.93,300.83 L414.42,298.59 L414.90,295.56 L415.39,291.59 L415.87,286.65 L416.35,280.91 L416.84,275.00 L417.32,274.40 L417.81,288.68 L418.29,298.29 L418.78,302.91 L419.26,304.76 L419.74,305.41 L420.23,305.62 L420.71,305.68 L439.60,305.70" fill="none" stroke="#5a5a5a" stroke-width="0.5"/>
<rect x="405.20" y="270.80" width="34.90" height="35.40" fill="none" stroke="#262626" stroke-width="1.0"/>
<path d="M442.60,305.70 L449.48,305.65 L449.97,305.56 L450.46,305.32 L450.95,304.71 L451.45,303.29 L451.94,300.25 L452.43,294.39 L452.92,284.71 L453.41,273.06 L453.90,277.56 L454.39,286.06 L454.89,293.06 L455.38,298.03 L455.87,301.26 L456.36,303.24 L456.85,304.38 L457.34,305.02 L457.83,305.36 L458.33,305.53 L458.82,305.62 L459.31,305.66 L477.00,305.70 L477.00,305.70 L442.60,305.70Z" fill="#dcdcde" stroke="#9a9a9a" stroke-width="0.55"/>
<path d="M442.60,305.70 L448.99,305.65 L449.48,305.58 L449.97,305.43 L450.46,305.08 L450.95,304.37 L451.45,302.96 L451.94,300.32 L452.43,295.77 L452.92,288.67 L453.41,279.26 L453.90,273.62 L454.39,280.41 L454.89,287.52 L455.38,293.37 L455.87,297.71 L456.36,300.58 L456.85,301.40 L457.34,302.13 L457.83,302.76 L458.33,303.30 L458.82,303.76 L459.31,304.14 L459.80,304.46 L460.29,304.71 L460.78,304.92 L461.27,305.09 L461.77,305.23 L462.26,305.33 L462.75,305.42 L463.24,305.48 L463.73,305.53 L464.22,305.57 L464.71,305.61 L465.21,305.63 L465.70,305.65 L466.19,305.66 L477.00,305.70" fill="none" stroke="#c83a60" stroke-width="0.6"/>
<path d="M442.60,305.70 L448.50,305.67 L448.99,305.63 L449.48,305.53 L449.97,305.31 L450.46,304.84 L450.95,303.89 L451.45,302.03 L451.94,298.67 L452.43,293.08 L452.92,284.82 L453.41,275.10 L453.90,274.69 L454.39,279.90 L454.89,285.23 L455.38,290.00 L455.87,293.98 L456.36,297.16 L456.85,299.60 L457.34,301.42 L457.83,302.75 L458.33,303.69 L458.82,304.36 L459.31,304.81 L459.80,305.12 L460.29,305.33 L460.78,305.46 L461.27,305.55 L461.77,305.61 L462.26,305.64 L462.75,305.66 L477.00,305.70" fill="none" stroke="#5a7ab8" stroke-width="0.6"/>
<path d="M442.60,305.70 L449.48,305.65 L449.97,305.56 L450.46,305.32 L450.95,304.71 L451.45,303.29 L451.94,300.25 L452.43,294.39 L452.92,284.71 L453.41,273.06 L453.90,277.09 L454.39,285.09 L454.89,291.90 L455.38,296.94 L455.87,300.38 L456.36,302.59 L456.85,303.94 L457.34,304.74 L457.83,305.19 L458.33,305.43 L458.82,305.56 L459.31,305.63 L459.80,305.67 L477.00,305.70" fill="none" stroke="#23386e" stroke-width="0.65"/>
<rect x="442.10" y="270.80" width="35.40" height="35.40" fill="none" stroke="#262626" stroke-width="1.0"/>
<path d="M478.00,305.70 L482.46,305.67 L482.96,305.64 L483.45,305.59 L483.95,305.49 L484.44,305.31 L484.94,304.99 L485.44,304.44 L485.93,303.49 L486.43,301.96 L486.92,299.55 L487.42,295.93 L487.91,290.82 L488.41,284.15 L488.91,276.55 L489.40,273.31 L489.90,285.11 L490.39,294.72 L490.89,300.46 L491.38,303.41 L491.88,304.77 L492.38,305.34 L492.87,305.57 L493.37,305.66 L512.70,305.70 L512.70,305.70 L478.00,305.70Z" fill="#dcdcde" stroke="#9a9a9a" stroke-width="0.55"/>
<path d="M478.00,305.70 L482.46,305.67 L482.96,305.64 L483.45,305.59 L483.95,305.49 L484.44,305.31 L484.94,304.99 L485.44,304.44 L485.93,303.49 L486.43,301.96 L486.92,299.55 L487.42,295.93 L487.91,290.82 L488.41,284.15 L488.91,276.55 L489.40,273.31 L489.90,285.11 L490.39,294.72 L490.89,300.46 L491.38,303.41 L491.88,304.77 L492.38,305.34 L492.87,305.57 L493.37,305.66 L512.70,305.70" fill="none" stroke="#5a5a5a" stroke-width="0.5"/>
<rect x="477.50" y="270.80" width="35.70" height="35.40" fill="none" stroke="#262626" stroke-width="1.0"/>
<text transform="translate(345.4,288.50) rotate(-90)" font-size="6.3" text-anchor="middle" fill="#222">Day 14</text>
<line x1="347.50" y1="278.30" x2="347.50" y2="298.70" stroke="#222" stroke-width="0.7" />
<path d="M370.00,340.50 L377.44,340.47 L377.93,340.40 L378.43,340.21 L378.92,339.74 L379.42,338.60 L379.91,336.10 L380.41,331.10 L380.91,322.43 L381.40,310.75 L381.90,311.07 L382.39,319.56 L382.89,326.88 L383.38,332.18 L383.88,335.67 L384.38,337.82 L384.87,339.07 L385.37,339.76 L385.86,340.13 L386.36,340.32 L386.85,340.41 L387.35,340.46 L404.70,340.50 L404.70,340.50 L370.00,340.50Z" fill="#dcdcde" stroke="#9a9a9a" stroke-width="0.55"/>
<path d="M370.00,340.50 L376.94,340.46 L377.44,340.41 L377.93,340.29 L378.43,340.01 L378.92,339.43 L379.42,338.26 L379.91,336.01 L380.41,332.04 L380.91,325.63 L381.40,316.70 L381.90,308.21 L382.39,314.16 L382.89,321.34 L383.38,327.41 L383.88,331.99 L384.38,334.13 L384.87,335.27 L385.37,336.26 L385.86,337.10 L386.36,337.80 L386.85,338.37 L387.35,338.84 L387.85,339.21 L388.34,339.51 L388.84,339.75 L389.33,339.93 L389.83,340.07 L390.32,340.18 L390.82,340.26 L391.32,340.32 L391.81,340.37 L392.31,340.41 L392.80,340.43 L393.30,340.45 L404.70,340.50" fill="none" stroke="#c83a60" stroke-width="0.6"/>
<path d="M370.00,340.50 L376.44,340.48 L376.94,340.45 L377.44,340.37 L377.93,340.20 L378.43,339.82 L378.92,339.04 L379.42,337.48 L379.91,334.60 L380.41,329.66 L380.91,322.10 L381.40,312.49 L381.90,309.36 L382.39,315.24 L382.89,321.31 L383.38,326.55 L383.88,330.71 L384.38,333.83 L384.87,336.07 L385.37,337.63 L385.86,338.67 L386.36,339.36 L386.85,339.80 L387.35,340.08 L387.85,340.25 L388.34,340.36 L388.84,340.42 L389.33,340.45 L404.70,340.50" fill="none" stroke="#5a7ab8" stroke-width="0.6"/>
<path d="M370.00,340.50 L377.44,340.47 L377.93,340.40 L378.43,340.21 L378.92,339.74 L379.42,338.60 L379.91,336.10 L380.41,331.10 L380.91,322.43 L381.40,310.75 L381.90,310.74 L382.39,318.68 L382.89,325.75 L383.38,331.09 L383.88,334.77 L384.38,337.15 L384.87,338.60 L385.37,339.46 L385.86,339.95 L386.36,340.21 L386.85,340.35 L387.35,340.43 L387.85,340.47 L404.70,340.50" fill="none" stroke="#23386e" stroke-width="0.65"/>
<rect x="369.50" y="306.20" width="35.70" height="34.80" fill="none" stroke="#262626" stroke-width="1.0"/>
<path d="M405.70,340.50 L409.09,340.46 L409.57,340.42 L410.06,340.37 L410.54,340.29 L411.03,340.16 L411.51,339.95 L412.00,339.62 L412.48,339.13 L412.96,338.38 L413.45,337.28 L413.93,335.71 L414.42,333.52 L414.90,330.54 L415.39,326.64 L415.87,321.79 L416.35,316.15 L416.84,310.35 L417.32,309.75 L417.81,323.78 L418.29,333.22 L418.78,337.76 L419.26,339.58 L419.74,340.22 L420.23,340.42 L420.71,340.48 L439.60,340.50 L439.60,340.50 L405.70,340.50Z" fill="#dcdcde" stroke="#9a9a9a" stroke-width="0.55"/>
<path d="M405.70,340.50 L409.09,340.46 L409.57,340.42 L410.06,340.37 L410.54,340.29 L411.03,340.16 L411.51,339.95 L412.00,339.62 L412.48,339.13 L412.96,338.38 L413.45,337.28 L413.93,335.71 L414.42,333.52 L414.90,330.54 L415.39,326.64 L415.87,321.79 L416.35,316.15 L416.84,310.35 L417.32,309.75 L417.81,323.78 L418.29,333.22 L418.78,337.76 L419.26,339.58 L419.74,340.22 L420.23,340.42 L420.71,340.48 L439.60,340.50" fill="none" stroke="#5a5a5a" stroke-width="0.5"/>
<rect x="405.20" y="306.20" width="34.90" height="34.80" fill="none" stroke="#262626" stroke-width="1.0"/>
<path d="M442.60,340.50 L449.48,340.45 L449.97,340.36 L450.46,340.12 L450.95,339.52 L451.45,338.13 L451.94,335.14 L452.43,329.39 L452.92,319.88 L453.41,308.44 L453.90,312.85 L454.39,321.21 L454.89,328.08 L455.38,332.96 L455.87,336.14 L456.36,338.08 L456.85,339.21 L457.34,339.83 L457.83,340.16 L458.33,340.34 L458.82,340.42 L459.31,340.46 L477.00,340.50 L477.00,340.50 L442.60,340.50Z" fill="#dcdcde" stroke="#9a9a9a" stroke-width="0.55"/>
<path d="M442.60,340.50 L448.99,340.45 L449.48,340.38 L449.97,340.23 L450.46,339.90 L450.95,339.19 L451.45,337.81 L451.94,335.22 L452.43,330.75 L452.92,323.77 L453.41,314.53 L453.90,308.98 L454.39,315.66 L454.89,322.64 L455.38,328.39 L455.87,332.18 L456.36,333.31 L456.85,334.36 L457.34,335.30 L457.83,336.13 L458.33,336.86 L458.82,337.48 L459.31,338.02 L459.80,338.47 L460.29,338.85 L460.78,339.17 L461.27,339.43 L461.77,339.65 L462.26,339.82 L462.75,339.96 L463.24,340.08 L463.73,340.17 L464.22,340.24 L464.71,340.30 L465.21,340.34 L465.70,340.38 L466.19,340.41 L466.68,340.43 L467.17,340.45 L467.66,340.46 L477.00,340.50" fill="none" stroke="#c83a60" stroke-width="0.6"/>
<path d="M442.60,340.50 L448.50,340.47 L448.99,340.43 L449.48,340.33 L449.97,340.12 L450.46,339.66 L450.95,338.72 L451.45,336.90 L451.94,333.60 L452.43,328.10 L452.92,319.99 L453.41,310.44 L453.90,309.80 L454.39,314.43 L454.89,319.28 L455.38,323.74 L455.87,327.58 L456.36,330.75 L456.85,333.27 L457.34,335.22 L457.83,336.71 L458.33,337.81 L458.82,338.62 L459.31,339.20 L459.80,339.61 L460.29,339.90 L460.78,340.10 L461.27,340.23 L461.77,340.32 L462.26,340.39 L462.75,340.43 L463.24,340.45 L477.00,340.50" fill="none" stroke="#5a7ab8" stroke-width="0.6"/>
<path d="M442.60,340.50 L449.48,340.45 L449.97,340.36 L450.46,340.12 L450.95,339.52 L451.45,338.13 L451.94,335.14 L452.43,329.39 L452.92,319.88 L453.41,308.44 L453.90,312.39 L454.39,320.25 L454.89,326.94 L455.38,331.90 L455.87,335.28 L456.36,337.45 L456.85,338.77 L457.34,339.55 L457.83,340.00 L458.33,340.24 L458.82,340.37 L459.31,340.43 L459.80,340.47 L477.00,340.50" fill="none" stroke="#23386e" stroke-width="0.65"/>
<rect x="442.10" y="306.20" width="35.40" height="34.80" fill="none" stroke="#262626" stroke-width="1.0"/>
<path d="M478.00,340.50 L482.46,340.47 L482.96,340.45 L483.45,340.39 L483.95,340.30 L484.44,340.12 L484.94,339.81 L485.44,339.26 L485.93,338.33 L486.43,336.82 L486.92,334.46 L487.42,330.91 L487.91,325.89 L488.41,319.33 L488.91,311.87 L489.40,308.68 L489.90,320.27 L490.39,329.71 L490.89,335.36 L491.38,338.25 L491.88,339.59 L492.38,340.15 L492.87,340.37 L493.37,340.46 L512.70,340.50 L512.70,340.50 L478.00,340.50Z" fill="#dcdcde" stroke="#9a9a9a" stroke-width="0.55"/>
<path d="M478.00,340.50 L482.46,340.47 L482.96,340.45 L483.45,340.39 L483.95,340.30 L484.44,340.12 L484.94,339.81 L485.44,339.26 L485.93,338.33 L486.43,336.82 L486.92,334.46 L487.42,330.91 L487.91,325.89 L488.41,319.33 L488.91,311.87 L489.40,308.68 L489.90,320.27 L490.39,329.71 L490.89,335.36 L491.38,338.25 L491.88,339.59 L492.38,340.15 L492.87,340.37 L493.37,340.46 L512.70,340.50" fill="none" stroke="#5a5a5a" stroke-width="0.5"/>
<rect x="477.50" y="306.20" width="35.70" height="34.80" fill="none" stroke="#262626" stroke-width="1.0"/>
<text transform="translate(345.4,323.60) rotate(-90)" font-size="6.3" text-anchor="middle" fill="#222">Day 21</text>
<line x1="347.50" y1="313.40" x2="347.50" y2="333.80" stroke="#222" stroke-width="0.7" />
<line x1="369.50" y1="345.00" x2="437.10" y2="345.00" stroke="#000" stroke-width="1.0" />
<path d="M439.60,345.00 L436.20,343.50 L436.20,346.50Z" fill="#000"/>
<line x1="442.10" y1="345.00" x2="509.30" y2="345.00" stroke="#000" stroke-width="1.0" />
<path d="M511.80,345.00 L508.40,343.50 L508.40,346.50Z" fill="#000"/>
<text transform="translate(369.60,354.60) scale(0.8,1)" font-size="7.7" fill="#1a1a1a"><tspan font-family="Liberation Serif, serif" font-size="9">&#945;</tspan>-ms IgG2c</text>
<text transform="translate(442.20,354.60) scale(0.8,1)" font-size="7.7" fill="#1a1a1a"><tspan font-family="Liberation Serif, serif" font-size="9">&#945;</tspan>-ms IgG3</text>
<text x="387.40" y="30.6" font-size="6.4" text-anchor="middle" fill="#222">HOD<tspan font-size="3.8" dy="-2.4">+</tspan></text>
<text x="422.60" y="30.60" font-size="6.4" text-anchor="middle" font-weight="normal" fill="#222" >C57BL/6</text>
<text x="459.60" y="30.6" font-size="6.4" text-anchor="middle" fill="#222">HOD<tspan font-size="3.8" dy="-2.4">+</tspan></text>
<text x="495.10" y="30.60" font-size="6.4" text-anchor="middle" font-weight="normal" fill="#222" >C57BL/6</text>
<line x1="364.90" y1="341.00" x2="364.90" y2="38.50" stroke="#000" stroke-width="0.95" />
<path d="M364.9,35.0 L363.4,38.9 L366.4,38.9Z" fill="#000"/>
<text class="yl" transform="translate(359.4,328.0) rotate(-90) scale(0.86,1)" font-size="7.3" text-anchor="middle" fill="#111">% of max</text>
<rect x="386.50" y="364.80" width="5.60" height="6.20" fill="#c9c9cd" />
<text x="395.10" y="370.00" font-size="5.4" text-anchor="start" font-weight="normal" fill="#333" >PBS</text>
<rect x="415.10" y="364.80" width="5.60" height="6.20" fill="#24468c" />
<text x="423.70" y="370.00" font-size="5.4" text-anchor="start" font-weight="normal" fill="#333" >IgG2a mAb</text>
<rect x="459.70" y="364.80" width="5.60" height="6.20" fill="#b2122e" />
<text x="468.30" y="370.00" font-size="5.4" text-anchor="start" font-weight="normal" fill="#333" >IgG2c mAb</text>
<rect x="0.5" y="0.5" width="519" height="617" fill="none" stroke="#000" stroke-width="1.2"/></svg></body></html>
